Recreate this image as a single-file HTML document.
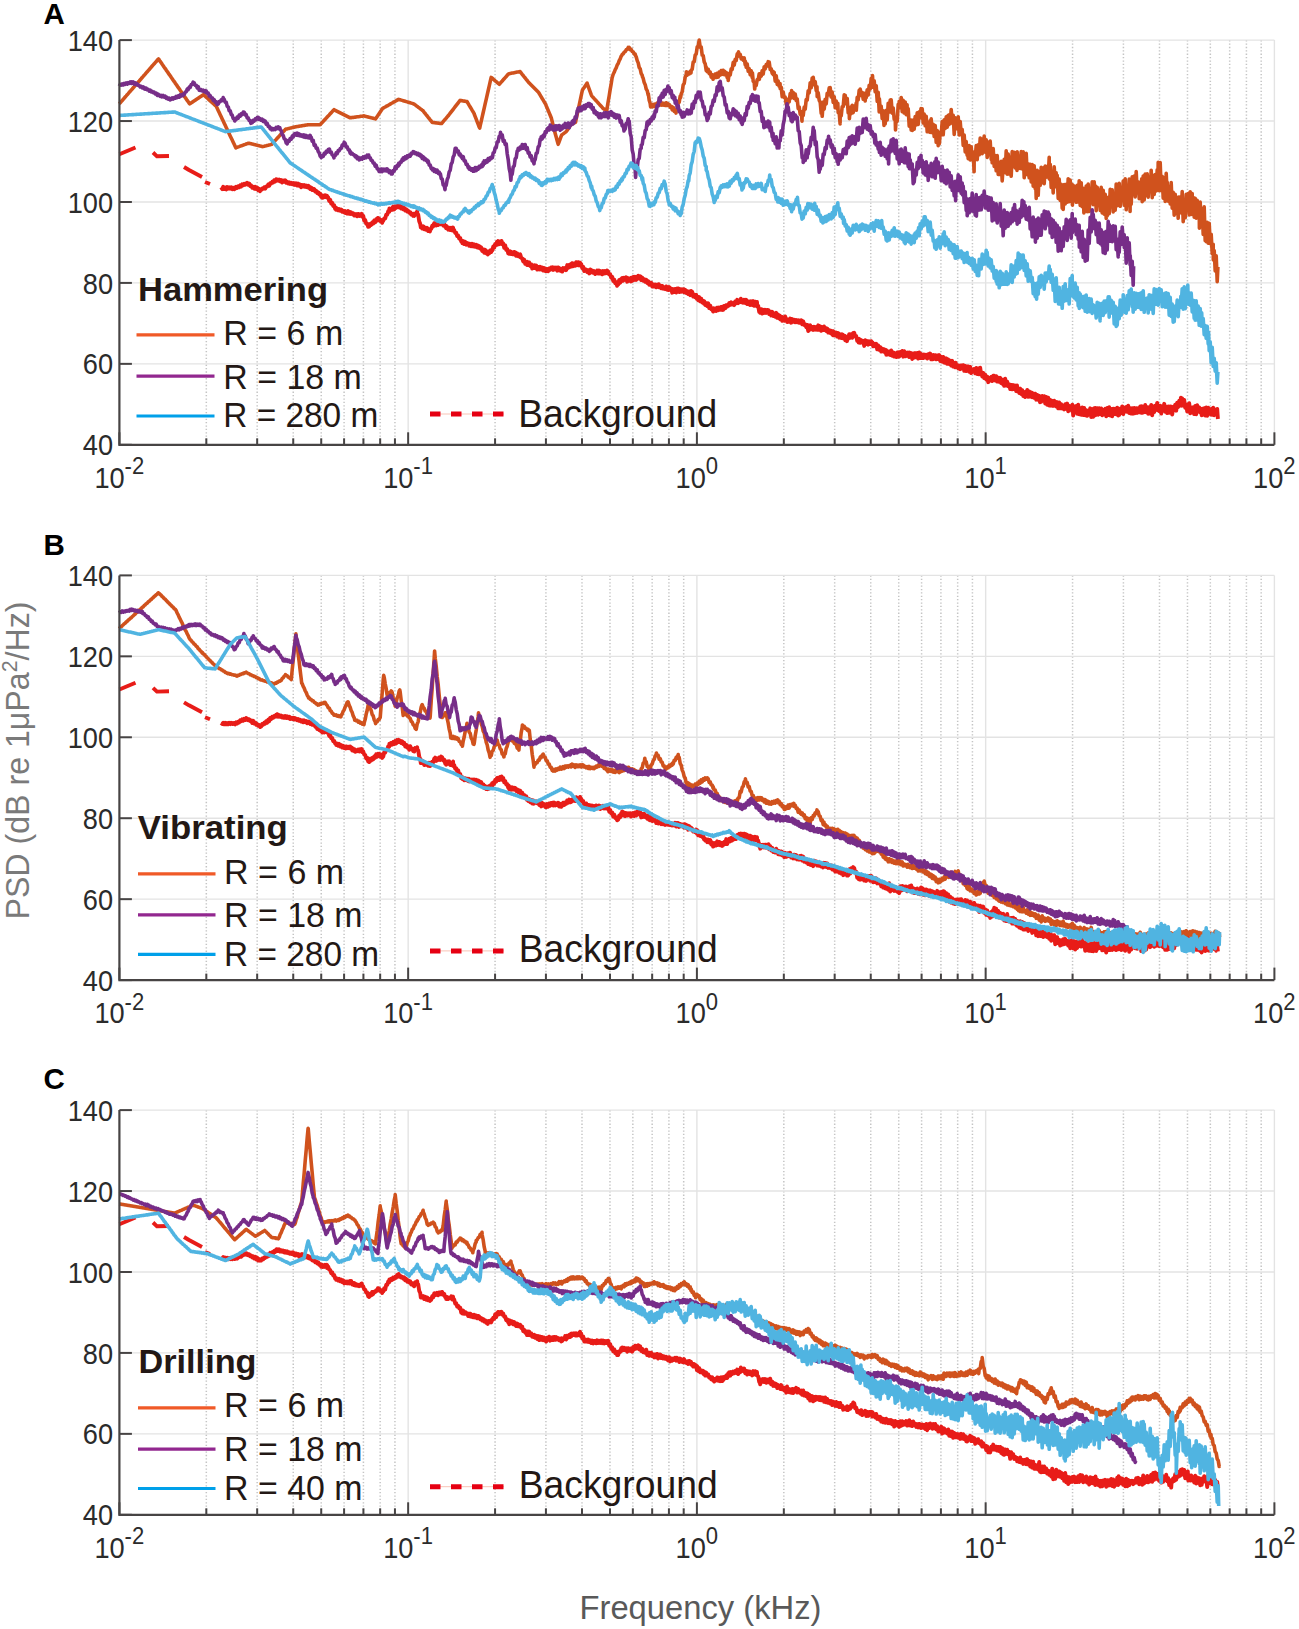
<!DOCTYPE html><html><head><meta charset="utf-8"><style>html,body{margin:0;padding:0;background:#fff}svg{display:block}</style></head><body><svg width="1299" height="1629" viewBox="0 0 1299 1629">
<style>.tl{font-family:"Liberation Sans",sans-serif;font-size:30.2px;fill:#2b2b2b}.sup{font-size:24.5px}.lg{font-family:"Liberation Sans",sans-serif;fill:#231815}</style>
<rect width="1299" height="1629" fill="#fff"/>
<line x1="206.32" y1="40.10" x2="206.32" y2="444.80" stroke="#c4c4c4" stroke-width="1.5" stroke-dasharray="1.3 2.08"/>
<line x1="257.17" y1="40.10" x2="257.17" y2="444.80" stroke="#c4c4c4" stroke-width="1.5" stroke-dasharray="1.3 2.08"/>
<line x1="293.24" y1="40.10" x2="293.24" y2="444.80" stroke="#c4c4c4" stroke-width="1.5" stroke-dasharray="1.3 2.08"/>
<line x1="321.23" y1="40.10" x2="321.23" y2="444.80" stroke="#c4c4c4" stroke-width="1.5" stroke-dasharray="1.3 2.08"/>
<line x1="344.09" y1="40.10" x2="344.09" y2="444.80" stroke="#c4c4c4" stroke-width="1.5" stroke-dasharray="1.3 2.08"/>
<line x1="363.42" y1="40.10" x2="363.42" y2="444.80" stroke="#c4c4c4" stroke-width="1.5" stroke-dasharray="1.3 2.08"/>
<line x1="380.17" y1="40.10" x2="380.17" y2="444.80" stroke="#c4c4c4" stroke-width="1.5" stroke-dasharray="1.3 2.08"/>
<line x1="394.94" y1="40.10" x2="394.94" y2="444.80" stroke="#c4c4c4" stroke-width="1.5" stroke-dasharray="1.3 2.08"/>
<line x1="495.07" y1="40.10" x2="495.07" y2="444.80" stroke="#c4c4c4" stroke-width="1.5" stroke-dasharray="1.3 2.08"/>
<line x1="545.92" y1="40.10" x2="545.92" y2="444.80" stroke="#c4c4c4" stroke-width="1.5" stroke-dasharray="1.3 2.08"/>
<line x1="581.99" y1="40.10" x2="581.99" y2="444.80" stroke="#c4c4c4" stroke-width="1.5" stroke-dasharray="1.3 2.08"/>
<line x1="609.98" y1="40.10" x2="609.98" y2="444.80" stroke="#c4c4c4" stroke-width="1.5" stroke-dasharray="1.3 2.08"/>
<line x1="632.84" y1="40.10" x2="632.84" y2="444.80" stroke="#c4c4c4" stroke-width="1.5" stroke-dasharray="1.3 2.08"/>
<line x1="652.17" y1="40.10" x2="652.17" y2="444.80" stroke="#c4c4c4" stroke-width="1.5" stroke-dasharray="1.3 2.08"/>
<line x1="668.92" y1="40.10" x2="668.92" y2="444.80" stroke="#c4c4c4" stroke-width="1.5" stroke-dasharray="1.3 2.08"/>
<line x1="683.69" y1="40.10" x2="683.69" y2="444.80" stroke="#c4c4c4" stroke-width="1.5" stroke-dasharray="1.3 2.08"/>
<line x1="783.82" y1="40.10" x2="783.82" y2="444.80" stroke="#c4c4c4" stroke-width="1.5" stroke-dasharray="1.3 2.08"/>
<line x1="834.67" y1="40.10" x2="834.67" y2="444.80" stroke="#c4c4c4" stroke-width="1.5" stroke-dasharray="1.3 2.08"/>
<line x1="870.74" y1="40.10" x2="870.74" y2="444.80" stroke="#c4c4c4" stroke-width="1.5" stroke-dasharray="1.3 2.08"/>
<line x1="898.73" y1="40.10" x2="898.73" y2="444.80" stroke="#c4c4c4" stroke-width="1.5" stroke-dasharray="1.3 2.08"/>
<line x1="921.59" y1="40.10" x2="921.59" y2="444.80" stroke="#c4c4c4" stroke-width="1.5" stroke-dasharray="1.3 2.08"/>
<line x1="940.92" y1="40.10" x2="940.92" y2="444.80" stroke="#c4c4c4" stroke-width="1.5" stroke-dasharray="1.3 2.08"/>
<line x1="957.67" y1="40.10" x2="957.67" y2="444.80" stroke="#c4c4c4" stroke-width="1.5" stroke-dasharray="1.3 2.08"/>
<line x1="972.44" y1="40.10" x2="972.44" y2="444.80" stroke="#c4c4c4" stroke-width="1.5" stroke-dasharray="1.3 2.08"/>
<line x1="1072.57" y1="40.10" x2="1072.57" y2="444.80" stroke="#c4c4c4" stroke-width="1.5" stroke-dasharray="1.3 2.08"/>
<line x1="1123.42" y1="40.10" x2="1123.42" y2="444.80" stroke="#c4c4c4" stroke-width="1.5" stroke-dasharray="1.3 2.08"/>
<line x1="1159.49" y1="40.10" x2="1159.49" y2="444.80" stroke="#c4c4c4" stroke-width="1.5" stroke-dasharray="1.3 2.08"/>
<line x1="1187.48" y1="40.10" x2="1187.48" y2="444.80" stroke="#c4c4c4" stroke-width="1.5" stroke-dasharray="1.3 2.08"/>
<line x1="1210.34" y1="40.10" x2="1210.34" y2="444.80" stroke="#c4c4c4" stroke-width="1.5" stroke-dasharray="1.3 2.08"/>
<line x1="1229.67" y1="40.10" x2="1229.67" y2="444.80" stroke="#c4c4c4" stroke-width="1.5" stroke-dasharray="1.3 2.08"/>
<line x1="1246.42" y1="40.10" x2="1246.42" y2="444.80" stroke="#c4c4c4" stroke-width="1.5" stroke-dasharray="1.3 2.08"/>
<line x1="1261.19" y1="40.10" x2="1261.19" y2="444.80" stroke="#c4c4c4" stroke-width="1.5" stroke-dasharray="1.3 2.08"/>
<line x1="408.15" y1="40.10" x2="408.15" y2="444.80" stroke="#e3e3e3" stroke-width="1.4"/>
<line x1="696.90" y1="40.10" x2="696.90" y2="444.80" stroke="#e3e3e3" stroke-width="1.4"/>
<line x1="985.65" y1="40.10" x2="985.65" y2="444.80" stroke="#e3e3e3" stroke-width="1.4"/>
<line x1="1274.40" y1="40.10" x2="1274.40" y2="444.80" stroke="#e3e3e3" stroke-width="1.4"/>
<line x1="119.40" y1="363.86" x2="1274.40" y2="363.86" stroke="#e3e3e3" stroke-width="1.4"/>
<line x1="119.40" y1="282.92" x2="1274.40" y2="282.92" stroke="#e3e3e3" stroke-width="1.4"/>
<line x1="119.40" y1="201.98" x2="1274.40" y2="201.98" stroke="#e3e3e3" stroke-width="1.4"/>
<line x1="119.40" y1="121.04" x2="1274.40" y2="121.04" stroke="#e3e3e3" stroke-width="1.4"/>
<line x1="119.40" y1="40.10" x2="1274.40" y2="40.10" stroke="#e3e3e3" stroke-width="1.4"/>
<line x1="206.32" y1="575.40" x2="206.32" y2="980.10" stroke="#c4c4c4" stroke-width="1.5" stroke-dasharray="1.3 2.08"/>
<line x1="257.17" y1="575.40" x2="257.17" y2="980.10" stroke="#c4c4c4" stroke-width="1.5" stroke-dasharray="1.3 2.08"/>
<line x1="293.24" y1="575.40" x2="293.24" y2="980.10" stroke="#c4c4c4" stroke-width="1.5" stroke-dasharray="1.3 2.08"/>
<line x1="321.23" y1="575.40" x2="321.23" y2="980.10" stroke="#c4c4c4" stroke-width="1.5" stroke-dasharray="1.3 2.08"/>
<line x1="344.09" y1="575.40" x2="344.09" y2="980.10" stroke="#c4c4c4" stroke-width="1.5" stroke-dasharray="1.3 2.08"/>
<line x1="363.42" y1="575.40" x2="363.42" y2="980.10" stroke="#c4c4c4" stroke-width="1.5" stroke-dasharray="1.3 2.08"/>
<line x1="380.17" y1="575.40" x2="380.17" y2="980.10" stroke="#c4c4c4" stroke-width="1.5" stroke-dasharray="1.3 2.08"/>
<line x1="394.94" y1="575.40" x2="394.94" y2="980.10" stroke="#c4c4c4" stroke-width="1.5" stroke-dasharray="1.3 2.08"/>
<line x1="495.07" y1="575.40" x2="495.07" y2="980.10" stroke="#c4c4c4" stroke-width="1.5" stroke-dasharray="1.3 2.08"/>
<line x1="545.92" y1="575.40" x2="545.92" y2="980.10" stroke="#c4c4c4" stroke-width="1.5" stroke-dasharray="1.3 2.08"/>
<line x1="581.99" y1="575.40" x2="581.99" y2="980.10" stroke="#c4c4c4" stroke-width="1.5" stroke-dasharray="1.3 2.08"/>
<line x1="609.98" y1="575.40" x2="609.98" y2="980.10" stroke="#c4c4c4" stroke-width="1.5" stroke-dasharray="1.3 2.08"/>
<line x1="632.84" y1="575.40" x2="632.84" y2="980.10" stroke="#c4c4c4" stroke-width="1.5" stroke-dasharray="1.3 2.08"/>
<line x1="652.17" y1="575.40" x2="652.17" y2="980.10" stroke="#c4c4c4" stroke-width="1.5" stroke-dasharray="1.3 2.08"/>
<line x1="668.92" y1="575.40" x2="668.92" y2="980.10" stroke="#c4c4c4" stroke-width="1.5" stroke-dasharray="1.3 2.08"/>
<line x1="683.69" y1="575.40" x2="683.69" y2="980.10" stroke="#c4c4c4" stroke-width="1.5" stroke-dasharray="1.3 2.08"/>
<line x1="783.82" y1="575.40" x2="783.82" y2="980.10" stroke="#c4c4c4" stroke-width="1.5" stroke-dasharray="1.3 2.08"/>
<line x1="834.67" y1="575.40" x2="834.67" y2="980.10" stroke="#c4c4c4" stroke-width="1.5" stroke-dasharray="1.3 2.08"/>
<line x1="870.74" y1="575.40" x2="870.74" y2="980.10" stroke="#c4c4c4" stroke-width="1.5" stroke-dasharray="1.3 2.08"/>
<line x1="898.73" y1="575.40" x2="898.73" y2="980.10" stroke="#c4c4c4" stroke-width="1.5" stroke-dasharray="1.3 2.08"/>
<line x1="921.59" y1="575.40" x2="921.59" y2="980.10" stroke="#c4c4c4" stroke-width="1.5" stroke-dasharray="1.3 2.08"/>
<line x1="940.92" y1="575.40" x2="940.92" y2="980.10" stroke="#c4c4c4" stroke-width="1.5" stroke-dasharray="1.3 2.08"/>
<line x1="957.67" y1="575.40" x2="957.67" y2="980.10" stroke="#c4c4c4" stroke-width="1.5" stroke-dasharray="1.3 2.08"/>
<line x1="972.44" y1="575.40" x2="972.44" y2="980.10" stroke="#c4c4c4" stroke-width="1.5" stroke-dasharray="1.3 2.08"/>
<line x1="1072.57" y1="575.40" x2="1072.57" y2="980.10" stroke="#c4c4c4" stroke-width="1.5" stroke-dasharray="1.3 2.08"/>
<line x1="1123.42" y1="575.40" x2="1123.42" y2="980.10" stroke="#c4c4c4" stroke-width="1.5" stroke-dasharray="1.3 2.08"/>
<line x1="1159.49" y1="575.40" x2="1159.49" y2="980.10" stroke="#c4c4c4" stroke-width="1.5" stroke-dasharray="1.3 2.08"/>
<line x1="1187.48" y1="575.40" x2="1187.48" y2="980.10" stroke="#c4c4c4" stroke-width="1.5" stroke-dasharray="1.3 2.08"/>
<line x1="1210.34" y1="575.40" x2="1210.34" y2="980.10" stroke="#c4c4c4" stroke-width="1.5" stroke-dasharray="1.3 2.08"/>
<line x1="1229.67" y1="575.40" x2="1229.67" y2="980.10" stroke="#c4c4c4" stroke-width="1.5" stroke-dasharray="1.3 2.08"/>
<line x1="1246.42" y1="575.40" x2="1246.42" y2="980.10" stroke="#c4c4c4" stroke-width="1.5" stroke-dasharray="1.3 2.08"/>
<line x1="1261.19" y1="575.40" x2="1261.19" y2="980.10" stroke="#c4c4c4" stroke-width="1.5" stroke-dasharray="1.3 2.08"/>
<line x1="408.15" y1="575.40" x2="408.15" y2="980.10" stroke="#e3e3e3" stroke-width="1.4"/>
<line x1="696.90" y1="575.40" x2="696.90" y2="980.10" stroke="#e3e3e3" stroke-width="1.4"/>
<line x1="985.65" y1="575.40" x2="985.65" y2="980.10" stroke="#e3e3e3" stroke-width="1.4"/>
<line x1="1274.40" y1="575.40" x2="1274.40" y2="980.10" stroke="#e3e3e3" stroke-width="1.4"/>
<line x1="119.40" y1="899.16" x2="1274.40" y2="899.16" stroke="#e3e3e3" stroke-width="1.4"/>
<line x1="119.40" y1="818.22" x2="1274.40" y2="818.22" stroke="#e3e3e3" stroke-width="1.4"/>
<line x1="119.40" y1="737.28" x2="1274.40" y2="737.28" stroke="#e3e3e3" stroke-width="1.4"/>
<line x1="119.40" y1="656.34" x2="1274.40" y2="656.34" stroke="#e3e3e3" stroke-width="1.4"/>
<line x1="119.40" y1="575.40" x2="1274.40" y2="575.40" stroke="#e3e3e3" stroke-width="1.4"/>
<line x1="206.32" y1="1110.10" x2="206.32" y2="1514.80" stroke="#c4c4c4" stroke-width="1.5" stroke-dasharray="1.3 2.08"/>
<line x1="257.17" y1="1110.10" x2="257.17" y2="1514.80" stroke="#c4c4c4" stroke-width="1.5" stroke-dasharray="1.3 2.08"/>
<line x1="293.24" y1="1110.10" x2="293.24" y2="1514.80" stroke="#c4c4c4" stroke-width="1.5" stroke-dasharray="1.3 2.08"/>
<line x1="321.23" y1="1110.10" x2="321.23" y2="1514.80" stroke="#c4c4c4" stroke-width="1.5" stroke-dasharray="1.3 2.08"/>
<line x1="344.09" y1="1110.10" x2="344.09" y2="1514.80" stroke="#c4c4c4" stroke-width="1.5" stroke-dasharray="1.3 2.08"/>
<line x1="363.42" y1="1110.10" x2="363.42" y2="1514.80" stroke="#c4c4c4" stroke-width="1.5" stroke-dasharray="1.3 2.08"/>
<line x1="380.17" y1="1110.10" x2="380.17" y2="1514.80" stroke="#c4c4c4" stroke-width="1.5" stroke-dasharray="1.3 2.08"/>
<line x1="394.94" y1="1110.10" x2="394.94" y2="1514.80" stroke="#c4c4c4" stroke-width="1.5" stroke-dasharray="1.3 2.08"/>
<line x1="495.07" y1="1110.10" x2="495.07" y2="1514.80" stroke="#c4c4c4" stroke-width="1.5" stroke-dasharray="1.3 2.08"/>
<line x1="545.92" y1="1110.10" x2="545.92" y2="1514.80" stroke="#c4c4c4" stroke-width="1.5" stroke-dasharray="1.3 2.08"/>
<line x1="581.99" y1="1110.10" x2="581.99" y2="1514.80" stroke="#c4c4c4" stroke-width="1.5" stroke-dasharray="1.3 2.08"/>
<line x1="609.98" y1="1110.10" x2="609.98" y2="1514.80" stroke="#c4c4c4" stroke-width="1.5" stroke-dasharray="1.3 2.08"/>
<line x1="632.84" y1="1110.10" x2="632.84" y2="1514.80" stroke="#c4c4c4" stroke-width="1.5" stroke-dasharray="1.3 2.08"/>
<line x1="652.17" y1="1110.10" x2="652.17" y2="1514.80" stroke="#c4c4c4" stroke-width="1.5" stroke-dasharray="1.3 2.08"/>
<line x1="668.92" y1="1110.10" x2="668.92" y2="1514.80" stroke="#c4c4c4" stroke-width="1.5" stroke-dasharray="1.3 2.08"/>
<line x1="683.69" y1="1110.10" x2="683.69" y2="1514.80" stroke="#c4c4c4" stroke-width="1.5" stroke-dasharray="1.3 2.08"/>
<line x1="783.82" y1="1110.10" x2="783.82" y2="1514.80" stroke="#c4c4c4" stroke-width="1.5" stroke-dasharray="1.3 2.08"/>
<line x1="834.67" y1="1110.10" x2="834.67" y2="1514.80" stroke="#c4c4c4" stroke-width="1.5" stroke-dasharray="1.3 2.08"/>
<line x1="870.74" y1="1110.10" x2="870.74" y2="1514.80" stroke="#c4c4c4" stroke-width="1.5" stroke-dasharray="1.3 2.08"/>
<line x1="898.73" y1="1110.10" x2="898.73" y2="1514.80" stroke="#c4c4c4" stroke-width="1.5" stroke-dasharray="1.3 2.08"/>
<line x1="921.59" y1="1110.10" x2="921.59" y2="1514.80" stroke="#c4c4c4" stroke-width="1.5" stroke-dasharray="1.3 2.08"/>
<line x1="940.92" y1="1110.10" x2="940.92" y2="1514.80" stroke="#c4c4c4" stroke-width="1.5" stroke-dasharray="1.3 2.08"/>
<line x1="957.67" y1="1110.10" x2="957.67" y2="1514.80" stroke="#c4c4c4" stroke-width="1.5" stroke-dasharray="1.3 2.08"/>
<line x1="972.44" y1="1110.10" x2="972.44" y2="1514.80" stroke="#c4c4c4" stroke-width="1.5" stroke-dasharray="1.3 2.08"/>
<line x1="1072.57" y1="1110.10" x2="1072.57" y2="1514.80" stroke="#c4c4c4" stroke-width="1.5" stroke-dasharray="1.3 2.08"/>
<line x1="1123.42" y1="1110.10" x2="1123.42" y2="1514.80" stroke="#c4c4c4" stroke-width="1.5" stroke-dasharray="1.3 2.08"/>
<line x1="1159.49" y1="1110.10" x2="1159.49" y2="1514.80" stroke="#c4c4c4" stroke-width="1.5" stroke-dasharray="1.3 2.08"/>
<line x1="1187.48" y1="1110.10" x2="1187.48" y2="1514.80" stroke="#c4c4c4" stroke-width="1.5" stroke-dasharray="1.3 2.08"/>
<line x1="1210.34" y1="1110.10" x2="1210.34" y2="1514.80" stroke="#c4c4c4" stroke-width="1.5" stroke-dasharray="1.3 2.08"/>
<line x1="1229.67" y1="1110.10" x2="1229.67" y2="1514.80" stroke="#c4c4c4" stroke-width="1.5" stroke-dasharray="1.3 2.08"/>
<line x1="1246.42" y1="1110.10" x2="1246.42" y2="1514.80" stroke="#c4c4c4" stroke-width="1.5" stroke-dasharray="1.3 2.08"/>
<line x1="1261.19" y1="1110.10" x2="1261.19" y2="1514.80" stroke="#c4c4c4" stroke-width="1.5" stroke-dasharray="1.3 2.08"/>
<line x1="408.15" y1="1110.10" x2="408.15" y2="1514.80" stroke="#e3e3e3" stroke-width="1.4"/>
<line x1="696.90" y1="1110.10" x2="696.90" y2="1514.80" stroke="#e3e3e3" stroke-width="1.4"/>
<line x1="985.65" y1="1110.10" x2="985.65" y2="1514.80" stroke="#e3e3e3" stroke-width="1.4"/>
<line x1="1274.40" y1="1110.10" x2="1274.40" y2="1514.80" stroke="#e3e3e3" stroke-width="1.4"/>
<line x1="119.40" y1="1433.86" x2="1274.40" y2="1433.86" stroke="#e3e3e3" stroke-width="1.4"/>
<line x1="119.40" y1="1352.92" x2="1274.40" y2="1352.92" stroke="#e3e3e3" stroke-width="1.4"/>
<line x1="119.40" y1="1271.98" x2="1274.40" y2="1271.98" stroke="#e3e3e3" stroke-width="1.4"/>
<line x1="119.40" y1="1191.04" x2="1274.40" y2="1191.04" stroke="#e3e3e3" stroke-width="1.4"/>
<line x1="119.40" y1="1110.10" x2="1274.40" y2="1110.10" stroke="#e3e3e3" stroke-width="1.4"/>
<path d="M119.4 154.2 L135.5 147.5" fill="none" stroke="#E81C18" stroke-width="3.9" stroke-linejoin="round"/>
<path d="M153.0 152.5 L157.0 156.3 L169.0 156.0" fill="none" stroke="#E81C18" stroke-width="3.9" stroke-linejoin="round"/>
<path d="M184.0 167.0 L189.0 170.0 L202.0 177.0" fill="none" stroke="#E81C18" stroke-width="3.9" stroke-linejoin="round"/>
<path d="M205.0 182.0 L210.0 184.0" fill="none" stroke="#E81C18" stroke-width="3.9" stroke-linejoin="round"/>
<path d="M221.2 187.3 L222.2 189.1 L223.2 186.9 L224.2 189.0 L225.2 187.5 L226.2 189.4 L227.2 187.1 L228.2 188.7 L229.2 187.3 L230.2 188.7 L231.2 187.2 L232.2 189.2 L233.2 188.0 L234.2 189.2 L234.7 187.5 L235.2 188.6 L236.2 186.9 L237.2 187.9 L238.2 186.2 L239.2 187.3 L240.2 185.4 L241.2 186.5 L242.2 184.3 L243.2 185.3 L244.2 183.8 L245.2 184.6 L246.2 183.2 L246.3 184.2 L247.2 182.8 L248.2 184.8 L249.2 183.5 L250.2 186.0 L251.2 185.6 L252.2 187.7 L253.2 186.8 L254.2 188.7 L255.2 186.7 L256.2 189.1 L257.2 187.6 L258.2 190.3 L259.2 188.9 L260.1 191.2 L260.2 189.6 L261.2 190.0 L262.2 188.5 L263.2 188.8 L264.2 187.2 L265.2 188.6 L266.2 186.5 L267.2 186.6 L268.2 184.5 L269.2 185.7 L270.2 183.3 L271.2 183.6 L272.2 181.9 L273.2 182.5 L274.2 180.2 L275.2 181.4 L276.2 179.3 L276.3 180.7 L277.2 179.6 L278.2 180.7 L279.2 179.5 L280.2 181.4 L281.2 180.1 L282.2 182.4 L283.2 180.5 L284.2 181.7 L285.2 180.4 L286.2 182.7 L287.2 181.8 L288.2 183.5 L289.2 182.3 L290.2 183.9 L291.2 182.8 L292.2 184.2 L293.2 183.1 L294.2 184.7 L294.8 183.3 L295.2 184.9 L296.2 183.3 L297.2 185.4 L298.2 183.6 L299.2 185.7 L300.2 184.5 L301.2 187.2 L302.2 185.1 L303.2 186.4 L304.2 185.1 L305.2 186.9 L306.2 185.6 L307.2 187.2 L308.2 185.7 L308.6 187.7 L309.2 186.5 L310.2 188.9 L311.2 187.5 L312.2 190.0 L313.2 188.7 L313.2 190.1 L314.2 189.1 L315.2 191.6 L316.2 190.7 L317.2 193.1 L318.2 192.2 L319.2 194.3 L320.2 193.7 L321.2 196.9 L322.2 195.4 L322.5 197.8 L323.2 195.7 L324.2 197.1 L325.2 195.2 L326.2 197.2 L327.1 195.9 L327.2 197.6 L328.2 197.4 L329.2 200.9 L330.2 199.7 L331.2 203.6 L332.2 202.7 L333.2 205.9 L334.2 205.4 L335.2 208.9 L336.2 207.7 L336.3 209.8 L337.2 208.6 L338.2 210.4 L339.2 209.1 L340.2 210.8 L341.2 209.6 L342.2 211.8 L343.2 210.8 L344.2 212.3 L345.2 211.0 L345.6 213.0 L346.2 211.6 L347.2 213.6 L348.2 211.1 L349.2 213.7 L350.2 212.1 L350.2 214.1 L351.2 212.4 L352.2 214.1 L353.2 213.3 L354.2 215.5 L354.8 214.0 L355.2 215.6 L356.2 214.1 L357.2 216.3 L358.2 213.9 L359.2 215.9 L360.2 214.5 L361.2 215.8 L361.7 213.8 L362.2 216.6 L363.2 215.7 L364.2 220.5 L365.2 220.0 L366.2 223.7 L367.2 223.6 L368.2 226.8 L368.7 225.9 L369.2 226.5 L370.2 224.1 L371.2 224.9 L372.2 222.5 L373.2 223.5 L374.2 220.6 L375.2 222.3 L376.2 219.3 L377.2 220.5 L377.9 217.9 L378.2 220.3 L379.2 218.6 L380.2 221.0 L381.2 220.0 L382.2 222.8 L382.5 220.3 L383.2 220.9 L384.2 218.4 L385.2 218.6 L386.2 214.8 L387.2 214.8 L388.2 211.3 L389.2 211.8 L389.4 208.4 L390.2 210.5 L391.2 208.7 L392.2 209.8 L393.2 206.5 L394.2 209.4 L395.2 206.3 L396.2 207.9 L397.2 205.4 L398.2 206.8 L398.7 204.0 L399.2 207.5 L400.2 205.9 L401.2 208.6 L402.2 206.8 L403.2 209.3 L404.2 207.9 L405.2 210.5 L406.2 209.3 L407.2 211.5 L408.2 210.8 L409.2 212.7 L410.2 212.2 L411.2 214.6 L412.2 213.7 L413.2 215.8 L413.9 213.7 L414.2 216.0 L415.2 213.8 L416.2 214.5 L417.2 211.2 L417.3 213.3 L418.2 214.6 L419.2 221.2 L420.2 223.7 L420.8 227.4 L421.2 226.1 L422.2 228.4 L423.2 226.2 L424.2 229.2 L425.2 227.6 L426.2 229.8 L427.2 227.9 L428.2 231.1 L429.2 229.4 L430.0 231.4 L430.2 228.9 L431.2 228.8 L432.2 225.8 L433.2 226.5 L434.2 223.2 L434.6 224.4 L435.2 223.2 L436.2 225.5 L437.2 222.8 L438.2 224.9 L439.2 223.1 L440.2 224.2 L441.2 222.0 L441.6 224.1 L442.2 223.3 L443.2 225.5 L444.2 223.8 L445.2 227.0 L446.2 225.8 L446.2 228.3 L447.2 226.8 L448.2 229.7 L449.2 227.7 L450.2 229.9 L451.2 227.9 L452.2 230.4 L453.1 227.6 L453.2 230.5 L454.2 230.0 L455.2 233.0 L456.2 232.8 L457.2 236.1 L458.2 235.6 L459.2 238.6 L460.2 238.0 L461.2 241.5 L462.2 241.2 L462.4 243.2 L463.2 241.1 L464.2 244.1 L465.2 241.9 L466.2 244.7 L467.2 243.0 L468.2 244.8 L469.2 243.7 L469.3 245.8 L470.2 243.9 L471.2 246.3 L472.2 243.8 L473.2 246.4 L474.2 244.4 L475.2 246.7 L476.2 244.7 L477.2 247.4 L478.2 245.6 L478.5 247.8 L479.2 246.1 L480.2 248.5 L481.2 247.4 L482.2 251.1 L483.2 249.2 L484.2 252.8 L485.2 249.8 L486.2 253.3 L487.2 251.2 L487.8 254.5 L488.2 251.8 L489.2 253.4 L490.2 250.4 L491.2 252.0 L492.2 249.2 L492.4 250.3 L493.2 246.6 L494.2 247.6 L495.2 244.1 L496.2 244.9 L497.0 241.7 L497.2 244.7 L498.2 241.1 L499.2 244.2 L500.2 241.6 L501.2 243.7 L501.6 241.0 L502.2 244.2 L503.2 243.4 L504.2 247.8 L505.2 245.4 L506.2 249.8 L507.2 249.1 L508.2 253.3 L508.6 251.3 L509.2 253.8 L510.2 251.2 L511.2 254.1 L512.2 252.2 L513.2 254.3 L514.2 251.9 L515.2 255.0 L515.5 252.5 L516.2 255.8 L517.2 253.4 L518.2 256.2 L519.2 255.3 L520.1 257.1 L520.2 254.3 L521.2 257.8 L522.2 258.4 L523.2 261.4 L524.2 259.6 L525.2 263.7 L526.2 261.7 L527.0 264.9 L527.2 261.8 L528.2 265.0 L529.2 262.4 L530.2 266.0 L531.2 264.2 L532.2 268.6 L533.2 265.6 L534.0 268.0 L534.2 265.1 L535.2 267.9 L536.2 265.5 L537.2 269.6 L538.2 266.9 L539.2 269.4 L540.2 266.8 L541.2 269.5 L542.2 267.6 L543.2 270.5 L544.2 268.0 L545.2 270.9 L545.5 268.6 L546.2 271.1 L547.2 269.1 L548.2 271.2 L549.2 268.4 L550.2 269.7 L551.2 267.4 L552.2 269.3 L552.4 267.3 L553.2 269.9 L554.2 267.5 L555.2 269.3 L556.2 267.6 L557.2 270.7 L558.2 267.4 L559.2 270.5 L560.2 268.5 L561.2 271.0 L561.7 269.0 L562.2 271.6 L563.2 268.1 L564.2 269.9 L565.2 268.0 L566.2 270.1 L567.2 265.1 L568.2 267.8 L569.2 265.1 L570.2 266.9 L570.9 264.0 L571.2 266.6 L572.2 263.2 L573.2 266.2 L574.2 263.4 L575.2 265.7 L576.2 262.2 L577.2 265.2 L578.2 262.2 L579.2 265.5 L580.1 262.7 L580.2 265.2 L581.2 264.0 L582.2 268.0 L583.2 266.7 L584.2 271.1 L584.8 269.2 L585.2 270.8 L586.2 269.5 L587.2 272.1 L588.2 270.2 L589.2 273.5 L590.2 269.4 L591.2 272.5 L592.2 270.5 L593.2 272.8 L594.2 271.1 L595.2 274.1 L596.2 272.4 L596.3 272.9 L597.2 270.6 L598.2 273.6 L599.2 270.5 L600.2 273.6 L601.2 271.2 L602.2 274.3 L603.2 271.1 L604.2 273.4 L605.2 271.0 L606.2 273.1 L607.2 270.6 L607.9 273.4 L608.2 271.5 L609.2 274.5 L610.2 274.2 L611.2 277.7 L612.2 276.8 L613.2 280.9 L614.2 279.6 L615.2 283.3 L616.2 282.0 L617.1 285.8 L617.2 282.5 L618.2 284.6 L619.2 280.0 L620.2 282.7 L621.2 279.1 L621.7 281.1 L622.2 277.9 L623.2 280.7 L624.2 277.8 L625.2 279.8 L626.2 277.3 L627.2 281.7 L628.2 278.2 L629.2 280.8 L630.2 278.7 L631.0 281.4 L631.2 277.7 L632.2 280.9 L633.2 277.0 L634.2 279.9 L635.2 276.8 L636.2 280.0 L637.2 276.7 L637.9 278.4 L638.2 275.8 L639.2 278.4 L640.2 276.2 L641.2 280.1 L642.2 277.6 L643.2 280.7 L644.2 279.1 L645.2 281.7 L646.2 279.7 L647.2 282.9 L648.2 281.1 L649.2 284.8 L649.4 282.4 L650.2 284.6 L651.2 282.8 L652.2 286.5 L653.2 284.2 L654.2 286.5 L655.2 284.6 L656.2 287.3 L657.2 284.8 L658.2 286.7 L658.7 284.1 L659.2 287.4 L660.2 285.5 L661.2 288.2 L662.2 285.9 L663.2 288.7 L664.2 287.3 L665.2 289.1 L666.2 286.4 L667.2 289.8 L667.9 287.5 L668.2 290.1 L669.2 287.1 L670.2 289.9 L671.2 288.5 L672.2 292.7 L673.2 289.2 L674.2 292.0 L675.2 288.9 L676.2 292.6 L677.1 288.6 L677.2 291.7 L678.2 288.4 L679.2 292.1 L680.2 289.2 L681.2 291.8 L682.2 289.3 L683.2 291.4 L684.1 289.4 L684.2 292.3 L685.2 289.8 L686.2 292.9 L687.2 291.1 L688.2 294.0 L689.2 291.4 L690.2 295.2 L691.0 291.0 L691.2 294.6 L692.2 291.9 L693.2 296.5 L694.2 294.6 L695.2 297.3 L696.2 294.9 L696.9 298.9 L697.2 296.4 L698.2 300.2 L699.2 297.1 L700.2 301.3 L701.2 298.6 L702.2 302.4 L703.2 300.7 L703.9 303.4 L704.2 301.1 L705.2 304.9 L706.2 303.0 L707.2 306.1 L708.2 303.3 L709.2 308.0 L710.2 305.5 L711.2 309.2 L712.2 308.3 L713.1 311.6 L713.2 308.1 L714.2 310.5 L715.2 308.5 L716.2 311.0 L717.2 307.7 L718.2 310.2 L719.2 307.6 L720.2 309.8 L721.2 307.1 L722.2 309.9 L722.3 306.6 L723.2 309.8 L724.2 306.0 L725.2 308.3 L726.2 305.2 L727.2 306.7 L728.2 304.6 L729.2 305.5 L729.3 302.9 L730.2 304.5 L731.2 302.3 L732.2 304.4 L733.2 303.2 L734.2 305.1 L735.2 301.4 L736.2 303.2 L737.2 299.8 L738.2 303.2 L739.2 300.2 L740.2 301.7 L740.8 298.7 L741.2 302.4 L742.2 300.0 L743.2 302.7 L744.2 299.8 L745.2 303.0 L746.2 299.8 L747.2 304.1 L748.2 301.4 L749.2 304.0 L750.0 301.4 L750.2 305.1 L751.2 301.3 L752.2 305.1 L753.2 301.1 L754.2 305.8 L755.2 301.7 L756.2 305.6 L757.0 302.0 L757.2 306.5 L758.2 305.9 L759.2 311.8 L759.3 308.9 L760.2 312.8 L761.2 309.2 L762.2 313.5 L763.2 309.8 L764.2 313.0 L765.2 309.8 L766.2 313.0 L767.2 309.9 L768.2 312.2 L768.5 310.1 L769.2 314.1 L770.2 311.5 L771.2 315.4 L772.2 311.8 L773.2 315.9 L774.2 313.3 L775.2 316.7 L776.2 312.8 L777.2 317.8 L777.8 314.5 L778.2 318.1 L779.2 315.4 L780.2 319.3 L781.2 316.5 L782.2 320.8 L783.2 317.3 L784.2 320.8 L785.2 316.5 L786.2 319.9 L787.0 319.6 L787.2 322.1 L788.2 319.5 L789.2 321.6 L790.2 318.5 L791.2 322.7 L792.2 319.1 L793.2 321.7 L794.2 319.8 L795.2 322.2 L796.2 320.0 L797.2 322.3 L798.2 320.3 L799.2 322.8 L800.2 320.4 L800.9 323.0 L801.2 320.3 L802.2 324.3 L803.2 321.3 L804.2 325.0 L805.2 324.4 L806.2 327.2 L807.2 324.9 L808.2 331.0 L809.2 326.6 L810.1 329.6 L810.2 325.2 L811.2 328.9 L812.2 326.7 L813.2 330.0 L814.2 326.8 L815.2 329.7 L816.2 326.9 L817.2 329.8 L818.2 325.3 L819.2 329.7 L820.2 326.3 L821.2 330.8 L822.2 327.1 L823.2 330.1 L824.0 326.5 L824.2 330.1 L825.2 327.9 L826.2 331.0 L827.2 328.5 L828.2 332.6 L829.2 330.0 L830.2 333.0 L831.2 330.7 L832.2 334.4 L833.2 331.2 L833.2 335.4 L834.2 332.1 L835.2 335.3 L836.2 332.5 L837.2 336.5 L838.2 333.1 L839.2 337.7 L840.2 334.3 L841.2 338.1 L842.2 334.3 L843.2 338.2 L844.2 335.5 L845.2 340.2 L846.2 336.7 L847.0 341.2 L847.2 336.4 L848.2 338.9 L849.2 334.2 L850.2 337.8 L851.2 334.2 L852.2 337.8 L853.2 332.9 L854.0 335.9 L854.2 332.8 L855.2 336.6 L856.2 336.1 L857.2 340.8 L858.2 339.1 L858.6 342.5 L859.2 338.8 L860.2 342.8 L861.2 340.1 L862.2 342.6 L863.2 341.0 L864.2 345.9 L865.2 340.2 L866.2 344.0 L867.2 341.1 L868.2 344.7 L869.2 341.3 L870.2 344.1 L871.2 341.2 L872.2 344.0 L872.5 342.4 L873.2 346.3 L874.2 343.7 L875.2 346.3 L876.2 343.8 L877.2 349.3 L878.2 345.5 L879.2 349.8 L880.2 347.0 L881.2 351.6 L882.2 348.5 L883.2 351.5 L884.2 349.3 L885.2 352.8 L886.2 350.0 L886.3 354.8 L887.2 351.1 L888.2 354.5 L889.2 351.4 L890.2 355.0 L891.2 350.5 L892.2 355.7 L893.2 352.4 L894.2 356.5 L895.2 353.3 L896.2 357.0 L897.2 352.5 L897.9 356.8 L898.2 352.3 L899.2 356.6 L900.2 351.9 L901.2 355.1 L902.2 350.9 L903.2 356.7 L904.2 351.2 L905.2 356.4 L906.2 352.6 L907.2 355.7 L908.2 352.5 L909.2 357.0 L909.4 352.5 L910.2 356.4 L911.2 353.0 L912.2 359.0 L913.2 353.4 L914.2 357.7 L915.2 353.1 L916.2 357.2 L917.2 353.0 L918.2 358.6 L919.2 352.5 L920.2 358.1 L921.0 354.0 L921.2 358.1 L922.2 355.1 L923.2 358.1 L924.2 354.6 L925.2 357.4 L926.2 354.8 L927.2 358.5 L928.2 354.2 L929.2 357.4 L930.2 353.6 L931.2 359.3 L932.2 355.4 L932.5 359.4 L933.2 354.9 L934.2 358.8 L935.2 355.2 L936.2 359.3 L937.2 355.5 L938.2 359.1 L939.2 355.1 L940.2 361.0 L941.2 357.0 L942.2 361.5 L943.2 356.9 L944.0 362.5 L944.2 358.6 L945.2 362.7 L946.2 358.3 L947.2 363.8 L948.2 359.4 L949.2 363.9 L950.2 360.7 L951.2 365.5 L952.2 360.8 L953.2 366.6 L954.2 362.8 L955.2 367.3 L955.6 362.6 L956.2 366.9 L957.2 364.9 L958.2 368.6 L959.2 365.7 L960.2 369.2 L961.2 365.4 L962.2 367.9 L963.2 365.2 L964.2 370.8 L965.2 366.0 L966.2 371.1 L967.1 366.5 L967.2 370.4 L968.2 366.4 L969.2 371.7 L970.2 366.9 L971.2 373.1 L972.2 369.3 L973.2 371.6 L974.2 369.1 L975.2 373.2 L976.2 368.0 L977.2 374.0 L978.2 368.5 L979.2 374.3 L980.2 367.7 L981.0 374.2 L981.2 371.8 L982.2 376.4 L983.2 372.9 L984.2 378.0 L985.2 374.7 L986.2 379.4 L987.2 376.6 L988.2 382.2 L989.2 378.0 L990.2 380.6 L991.2 377.1 L992.2 381.0 L993.2 375.6 L993.9 380.2 L994.2 375.6 L995.2 380.4 L996.2 376.2 L997.2 381.6 L998.2 377.6 L999.2 381.8 L1000.2 377.8 L1001.2 383.1 L1002.2 379.6 L1003.1 384.5 L1003.2 379.7 L1004.2 385.9 L1005.2 378.8 L1006.2 385.5 L1007.2 381.7 L1008.2 386.2 L1009.2 384.3 L1010.2 389.0 L1011.2 384.9 L1012.2 389.3 L1013.2 385.1 L1014.2 389.0 L1015.2 385.6 L1016.2 391.1 L1017.0 385.4 L1017.2 391.4 L1018.2 388.6 L1019.2 392.9 L1020.2 388.6 L1021.2 394.0 L1022.2 390.2 L1023.2 396.0 L1024.2 392.2 L1025.2 397.0 L1026.2 391.5 L1026.2 395.7 L1027.2 390.0 L1028.2 396.9 L1029.2 391.4 L1030.2 396.7 L1031.2 392.5 L1032.2 397.2 L1033.2 393.4 L1034.2 397.8 L1035.2 393.7 L1036.2 399.7 L1037.2 394.9 L1038.2 399.8 L1039.2 395.8 L1040.0 402.3 L1040.2 396.4 L1041.2 401.8 L1042.2 395.9 L1043.2 400.3 L1044.2 396.2 L1045.2 403.6 L1046.2 396.9 L1047.2 404.8 L1048.2 397.6 L1049.2 405.6 L1050.2 400.0 L1051.2 405.7 L1052.2 400.8 L1053.2 405.9 L1054.2 400.6 L1055.2 404.7 L1056.2 402.0 L1056.2 406.5 L1057.2 402.2 L1058.2 408.4 L1059.2 402.5 L1060.2 408.3 L1061.2 404.1 L1062.2 408.4 L1063.2 406.2 L1064.2 409.4 L1065.2 404.1 L1066.2 408.7 L1067.2 403.6 L1068.2 411.3 L1069.2 405.9 L1070.2 409.7 L1071.2 405.9 L1072.2 411.2 L1072.4 404.6 L1073.2 415.5 L1074.2 406.4 L1075.2 412.0 L1076.2 406.0 L1077.2 413.8 L1078.2 404.7 L1079.2 414.2 L1080.2 408.3 L1081.2 414.7 L1082.2 407.5 L1083.2 415.1 L1084.2 408.0 L1085.2 415.3 L1086.2 410.2 L1087.2 415.9 L1088.2 410.7 L1089.2 413.9 L1090.2 408.3 L1091.2 417.1 L1092.2 409.3 L1093.2 416.8 L1094.2 408.2 L1095.2 415.3 L1095.5 407.9 L1096.2 414.6 L1097.2 408.1 L1098.2 414.8 L1099.2 408.2 L1100.2 414.0 L1101.2 408.4 L1102.2 415.3 L1103.2 409.8 L1104.2 414.3 L1105.2 408.8 L1106.2 416.2 L1107.2 407.9 L1108.2 415.1 L1109.2 407.3 L1110.2 415.5 L1111.2 408.9 L1112.2 416.2 L1113.2 408.7 L1114.2 414.1 L1115.2 408.8 L1116.2 414.2 L1117.2 407.8 L1118.2 415.6 L1118.6 408.5 L1119.2 414.9 L1120.2 409.2 L1121.2 412.9 L1122.2 406.4 L1123.2 414.1 L1124.2 407.6 L1125.2 411.6 L1126.2 406.9 L1127.2 411.8 L1128.2 405.7 L1129.2 413.0 L1130.2 408.2 L1131.2 413.6 L1132.2 408.2 L1133.2 413.7 L1134.2 407.9 L1135.2 413.2 L1136.2 408.2 L1137.2 412.9 L1138.2 408.3 L1139.2 412.3 L1140.2 406.5 L1141.2 412.8 L1141.7 406.2 L1142.2 412.9 L1143.2 407.1 L1144.2 412.2 L1145.2 405.0 L1146.2 412.3 L1147.2 407.1 L1148.2 413.8 L1149.2 407.2 L1150.2 413.6 L1151.2 404.9 L1152.2 415.2 L1153.2 406.5 L1154.2 412.1 L1155.2 405.7 L1156.2 409.5 L1157.2 402.9 L1157.8 410.3 L1158.2 407.0 L1159.2 410.9 L1160.2 405.7 L1161.2 413.6 L1162.2 406.7 L1163.2 409.6 L1164.2 403.8 L1165.2 411.7 L1166.2 406.7 L1167.2 413.1 L1168.2 406.5 L1169.2 412.8 L1170.2 406.5 L1171.2 412.2 L1171.7 406.8 L1172.2 414.5 L1173.2 407.4 L1174.2 410.1 L1175.2 404.6 L1176.2 410.7 L1177.2 402.6 L1178.2 407.0 L1179.2 400.7 L1180.2 405.0 L1180.9 397.6 L1181.2 405.8 L1182.2 398.5 L1183.2 405.6 L1184.2 399.9 L1185.2 407.7 L1186.2 404.5 L1187.2 411.5 L1187.8 405.4 L1188.2 408.9 L1189.2 403.2 L1190.2 413.2 L1191.2 407.4 L1192.2 412.4 L1193.2 407.3 L1194.2 414.1 L1195.2 405.9 L1196.2 414.2 L1197.2 405.3 L1198.2 411.5 L1199.2 407.5 L1200.2 412.4 L1201.2 409.7 L1201.7 415.3 L1202.2 408.6 L1203.2 414.6 L1204.2 408.3 L1205.2 415.5 L1206.2 407.5 L1207.2 415.8 L1208.2 407.6 L1209.2 413.4 L1210.2 409.6 L1211.0 414.6 L1211.2 409.0 L1212.2 414.8 L1213.2 407.6 L1214.2 415.2 L1215.2 409.6 L1216.2 414.4 L1217.2 409.0 L1217.9 419.0" fill="none" stroke="#E81C18" stroke-width="3.9" stroke-linejoin="round"/>
<path d="M119.2 103.9 L120.2 102.8 L121.2 101.6 L122.2 100.5 L123.2 99.3 L124.2 98.2 L125.2 97.0 L126.2 95.9 L127.2 94.7 L128.2 93.6 L129.2 92.4 L130.2 91.3 L131.2 90.1 L132.2 89.0 L133.2 87.8 L134.2 86.7 L135.2 85.5 L136.2 84.4 L137.2 83.3 L138.2 82.1 L139.2 81.0 L140.2 79.8 L141.2 78.7 L142.2 77.5 L143.2 76.4 L144.2 75.2 L145.2 74.1 L146.2 72.9 L147.2 71.8 L148.2 70.6 L149.2 69.5 L150.2 68.3 L151.2 67.2 L152.2 66.0 L153.2 64.9 L154.2 63.8 L155.2 62.6 L156.2 61.5 L157.2 60.3 L158.2 59.2 L158.5 58.9 L159.2 59.9 L160.2 61.4 L161.2 62.8 L162.2 64.3 L163.2 65.7 L164.2 67.2 L165.2 68.6 L166.2 70.1 L167.2 71.5 L168.2 72.9 L169.2 74.4 L170.2 75.8 L171.2 77.3 L172.2 78.7 L173.2 80.2 L174.2 81.6 L175.2 83.1 L176.2 84.5 L177.2 85.9 L178.2 87.4 L179.2 88.8 L180.2 90.3 L181.2 91.7 L182.2 93.2 L183.2 94.6 L184.2 96.1 L185.2 97.5 L186.2 98.9 L187.2 100.4 L188.2 101.8 L189.2 103.3 L189.7 103.9 L190.2 103.5 L191.2 102.9 L192.2 102.2 L193.2 101.5 L194.2 100.9 L195.2 100.2 L196.2 99.5 L197.2 98.9 L198.2 98.2 L199.2 97.5 L200.2 96.9 L201.2 96.2 L202.2 95.5 L203.2 94.9 L203.5 94.7 L204.2 95.3 L205.2 96.2 L206.2 97.1 L207.2 98.0 L208.2 98.9 L209.2 99.9 L210.2 100.8 L211.2 101.7 L212.2 102.6 L213.2 103.5 L214.2 104.4 L215.2 105.3 L216.2 106.2 L217.2 108.3 L218.2 110.5 L219.2 112.6 L220.2 114.7 L221.2 116.8 L222.2 118.9 L223.2 121.0 L224.2 123.2 L225.2 125.3 L226.2 127.4 L227.2 129.5 L228.2 131.6 L229.2 133.8 L230.2 135.9 L231.2 138.0 L232.2 140.1 L233.2 142.2 L234.2 144.3 L235.2 146.5 L235.9 147.8 L236.2 147.6 L237.2 147.3 L238.2 146.9 L239.2 146.6 L240.2 146.2 L241.2 145.8 L242.2 145.5 L243.2 145.1 L244.2 144.7 L245.2 144.4 L246.2 144.0 L247.2 143.6 L248.2 143.3 L248.6 143.2 L249.2 143.3 L250.2 143.6 L251.2 143.8 L252.2 144.1 L253.2 144.3 L254.2 144.6 L255.2 144.8 L256.2 145.1 L257.2 145.3 L258.2 145.6 L259.2 145.8 L260.2 146.1 L261.2 146.3 L262.2 146.6 L262.4 146.6 L263.2 146.4 L264.2 146.2 L265.2 145.9 L266.2 145.7 L267.2 145.4 L268.2 145.2 L269.2 144.9 L270.2 144.7 L271.2 144.4 L271.7 144.3 L272.2 143.7 L273.2 142.6 L274.2 141.5 L275.2 140.4 L276.2 139.4 L277.2 138.3 L278.2 137.2 L279.2 136.1 L280.2 135.0 L281.2 133.9 L282.2 132.9 L283.2 131.8 L284.2 130.7 L285.2 129.6 L285.5 129.3 L286.2 129.1 L287.2 128.9 L288.2 128.6 L289.2 128.4 L290.2 128.1 L291.2 127.9 L292.2 127.6 L293.2 127.4 L294.2 127.1 L294.8 127.0 L295.2 126.9 L296.2 126.8 L297.2 126.6 L298.2 126.4 L299.2 126.3 L300.2 126.1 L301.2 125.9 L302.2 125.8 L303.2 125.6 L304.2 125.4 L305.2 125.3 L306.2 125.1 L307.2 124.9 L308.2 124.8 L308.6 124.7 L309.2 124.7 L310.2 124.7 L311.2 124.7 L312.2 124.7 L313.2 124.7 L314.2 124.7 L315.2 124.7 L316.2 124.7 L317.2 124.7 L318.2 124.7 L319.2 124.7 L320.2 124.7 L320.2 124.6 L321.2 123.5 L322.2 122.4 L323.2 121.4 L324.2 120.3 L325.2 119.2 L326.2 118.1 L327.2 117.0 L328.2 115.9 L329.2 114.9 L330.2 113.8 L331.2 112.7 L332.2 111.6 L333.2 110.5 L334.0 109.7 L334.2 109.8 L335.2 110.3 L336.2 110.8 L337.2 111.3 L338.2 111.8 L339.2 112.3 L340.2 112.8 L341.2 113.3 L342.2 113.8 L343.2 114.3 L344.2 114.8 L345.2 115.3 L346.2 115.8 L347.2 116.3 L348.2 116.8 L349.2 117.3 L350.2 117.8 L350.2 117.8 L351.2 117.6 L352.2 117.5 L353.2 117.4 L354.2 117.2 L355.2 117.1 L356.2 117.0 L357.2 116.8 L358.2 116.7 L359.2 116.6 L360.2 116.4 L361.2 116.3 L362.2 116.2 L363.2 116.0 L364.0 115.9 L364.2 116.0 L365.2 116.2 L366.2 116.5 L367.2 116.7 L368.2 117.0 L369.2 117.3 L370.2 117.5 L371.2 117.8 L372.2 118.0 L373.2 118.3 L374.2 118.6 L375.2 118.8 L375.6 118.9 L376.2 117.9 L377.2 116.4 L378.2 114.9 L379.2 113.4 L380.2 111.9 L381.2 110.4 L382.2 108.9 L382.5 108.5 L383.2 108.1 L384.2 107.5 L385.2 107.0 L386.2 106.4 L387.2 105.8 L388.2 105.3 L389.2 104.7 L390.2 104.1 L391.2 103.5 L392.2 103.0 L393.2 102.4 L394.2 101.8 L395.2 101.3 L396.2 100.7 L397.2 100.1 L398.2 99.5 L398.7 99.3 L399.2 99.5 L400.2 99.8 L401.2 100.1 L402.2 100.4 L403.2 100.7 L404.2 101.0 L405.2 101.3 L406.2 101.6 L407.2 101.9 L408.2 102.2 L409.2 102.5 L410.2 102.8 L411.2 103.1 L412.2 103.4 L413.2 103.7 L413.9 103.9 L414.2 104.2 L415.2 104.9 L416.2 105.7 L417.2 106.4 L418.2 107.2 L419.2 107.9 L420.2 108.7 L421.2 109.4 L422.2 110.2 L423.1 110.8 L423.2 111.0 L424.2 112.3 L425.2 113.5 L426.2 114.8 L427.2 116.0 L428.2 117.3 L429.2 118.5 L430.2 119.8 L431.2 121.0 L432.2 122.3 L432.3 122.4 L433.2 122.5 L434.2 122.6 L435.2 122.7 L436.2 122.9 L437.2 123.0 L438.2 123.1 L439.2 123.2 L440.2 123.4 L441.2 123.5 L441.6 123.5 L442.2 122.8 L443.2 121.6 L444.2 120.4 L445.2 119.3 L446.2 118.1 L447.2 116.9 L448.2 115.8 L448.5 115.4 L449.2 114.5 L450.2 113.2 L451.2 111.9 L452.2 110.6 L453.2 109.3 L454.2 108.0 L455.2 106.7 L456.2 105.4 L457.2 104.1 L458.2 102.8 L459.2 101.5 L460.1 100.4 L460.2 100.5 L461.2 100.6 L462.2 100.8 L463.2 101.0 L464.2 101.1 L465.2 101.3 L466.2 101.5 L467.0 101.6 L467.2 102.0 L468.2 103.7 L469.2 105.4 L470.2 107.0 L471.2 108.7 L472.2 110.4 L473.2 112.0 L473.9 113.1 L474.2 114.0 L475.2 116.6 L476.2 119.2 L477.2 121.8 L478.2 124.4 L479.2 127.0 L479.7 128.1 L480.2 125.7 L481.2 121.3 L482.2 116.9 L483.2 112.5 L484.2 108.1 L485.2 103.7 L486.2 99.3 L487.2 94.9 L488.2 90.5 L489.2 86.1 L490.2 81.7 L491.2 77.4 L491.2 77.4 L492.2 78.2 L493.2 79.1 L494.2 79.9 L495.2 80.8 L496.2 81.6 L497.2 82.5 L498.2 83.4 L499.2 84.2 L499.3 84.3 L500.2 83.2 L501.2 82.1 L502.2 81.0 L503.2 79.8 L504.2 78.7 L505.2 77.6 L506.2 76.5 L507.2 75.3 L508.2 74.2 L508.6 73.9 L509.2 73.7 L510.2 73.5 L511.2 73.3 L512.2 73.1 L513.2 72.9 L514.2 72.7 L515.2 72.5 L516.2 72.3 L517.2 72.1 L518.2 71.9 L519.2 71.7 L520.1 71.6 L520.2 71.8 L521.2 73.0 L522.2 74.3 L523.2 75.5 L524.2 76.8 L525.2 78.0 L526.2 79.3 L527.2 80.5 L528.2 81.8 L529.2 83.0 L529.3 83.1 L530.2 84.0 L531.2 85.0 L532.2 86.0 L533.2 87.0 L534.2 88.0 L535.2 89.0 L536.2 90.0 L537.2 91.0 L538.2 92.0 L538.6 92.4 L539.2 93.5 L540.2 95.1 L541.2 96.8 L542.2 98.5 L543.2 100.1 L544.2 101.8 L545.2 103.5 L545.5 103.9 L546.2 105.7 L547.2 108.1 L548.2 110.5 L549.2 112.9 L550.2 115.3 L551.2 117.7 L551.3 117.8 L552.2 121.6 L553.2 125.6 L554.2 129.6 L554.7 131.6 L555.2 133.5 L556.2 137.1 L557.2 140.8 L558.2 144.3 L558.2 144.2 L559.2 141.5 L560.2 138.9 L561.2 136.2 L561.7 135.1 L562.2 134.6 L563.2 133.9 L564.2 133.1 L565.2 132.4 L566.2 131.6 L566.3 131.6 L567.2 130.2 L568.2 128.7 L569.2 127.2 L570.2 125.7 L570.9 124.7 L571.2 124.5 L572.2 124.0 L573.2 123.5 L574.2 123.0 L575.2 122.5 L575.5 122.4 L576.2 119.0 L577.2 114.4 L578.2 109.7 L579.2 105.0 L580.2 100.4 L581.2 95.7 L582.2 91.0 L582.5 90.0 L583.2 88.9 L584.2 87.4 L585.2 85.9 L586.2 84.4 L587.1 83.1 L587.2 83.6 L588.2 86.3 L589.2 89.1 L590.2 91.8 L591.2 94.6 L591.7 95.8 L592.2 96.4 L593.2 97.5 L594.2 98.6 L595.2 99.7 L596.2 100.8 L597.2 101.9 L598.2 103.0 L599.2 104.1 L600.2 105.2 L601.2 106.3 L602.2 107.4 L603.2 108.6 L603.2 108.5 L604.2 109.2 L605.2 109.7 L606.2 110.6 L606.7 110.7 L607.2 107.6 L608.2 101.5 L609.2 95.7 L610.2 89.4 L611.2 83.7 L612.2 77.3 L612.5 76.5 L613.2 74.3 L614.2 72.3 L615.2 69.7 L616.2 67.9 L617.2 65.0 L618.2 63.5 L619.2 60.7 L620.2 58.9 L621.2 56.2 L621.7 55.6 L622.2 54.4 L623.2 53.9 L624.2 52.1 L625.2 51.7 L626.2 49.8 L627.2 49.5 L628.2 47.4 L628.6 48.0 L629.2 47.5 L630.2 49.7 L631.2 49.4 L632.2 51.6 L633.2 51.9 L634.2 53.9 L635.2 54.1 L635.6 55.7 L636.2 56.8 L637.2 60.6 L638.2 62.9 L639.2 67.5 L640.2 68.8 L641.2 73.6 L642.2 75.2 L642.5 76.9 L643.2 78.3 L644.2 82.6 L645.2 84.7 L646.2 89.0 L647.2 90.6 L648.2 95.1 L648.3 93.7 L649.2 100.3 L650.2 103.6 L650.6 106.9 L651.2 105.2 L652.2 106.8 L653.2 104.3 L654.2 106.6 L655.2 104.1 L656.2 105.6 L657.2 103.0 L658.2 104.7 L658.7 102.5 L659.2 105.2 L660.2 103.0 L661.2 105.1 L662.2 103.0 L663.2 105.2 L664.2 103.4 L665.2 105.5 L666.2 102.8 L667.2 105.4 L667.9 103.6 L668.2 105.4 L669.2 104.5 L670.2 107.2 L671.2 106.3 L672.2 109.8 L673.2 107.3 L674.2 111.3 L675.2 109.8 L676.0 113.1 L676.2 109.8 L677.2 109.2 L678.2 103.0 L679.2 102.3 L680.2 96.1 L680.6 97.5 L681.2 94.0 L682.2 91.7 L683.2 84.8 L684.2 83.5 L685.2 76.9 L686.2 75.1 L686.4 71.8 L687.2 75.2 L688.2 72.4 L689.2 73.9 L690.2 71.7 L691.0 72.9 L691.2 70.3 L692.2 69.2 L693.2 62.0 L694.2 61.8 L695.2 55.1 L696.2 54.1 L697.2 47.0 L698.2 46.2 L699.2 40.1 L700.2 47.3 L701.2 47.0 L702.2 55.2 L703.2 55.6 L704.2 61.9 L705.2 63.8 L706.2 70.6 L706.2 67.1 L707.2 71.7 L708.2 69.1 L709.2 73.6 L710.2 72.0 L711.2 77.1 L712.2 74.7 L713.1 79.3 L713.2 75.0 L714.2 77.7 L715.2 74.0 L716.2 77.5 L717.2 73.3 L718.2 77.1 L719.2 72.1 L720.2 75.1 L721.2 70.6 L722.2 74.3 L723.2 70.3 L724.2 74.7 L724.6 71.3 L725.2 74.6 L726.2 72.5 L727.2 77.7 L728.1 75.5 L728.2 80.5 L729.2 73.2 L730.2 74.9 L731.2 68.9 L732.2 69.3 L733.2 62.4 L734.2 65.1 L735.2 59.3 L736.2 60.6 L737.2 53.9 L738.2 56.2 L738.5 51.8 L739.2 55.0 L740.2 54.4 L741.2 58.8 L742.2 57.7 L743.2 60.2 L744.2 57.9 L745.2 64.8 L745.4 61.4 L746.2 67.3 L747.2 64.0 L748.2 71.2 L749.2 68.7 L750.2 74.6 L751.2 70.8 L752.2 77.4 L752.4 72.7 L753.2 81.3 L754.2 82.4 L754.7 89.0 L755.2 84.4 L756.2 85.5 L757.2 79.6 L758.2 79.6 L759.2 73.7 L759.3 79.5 L760.2 73.9 L761.2 76.1 L762.2 70.7 L763.2 74.1 L764.2 66.8 L765.2 68.8 L766.2 64.7 L767.2 66.1 L768.2 61.7 L768.5 65.9 L769.2 62.1 L770.2 69.4 L771.2 68.9 L772.2 73.3 L773.1 71.4 L773.2 74.7 L774.2 72.4 L775.2 81.1 L776.2 75.8 L777.2 84.4 L778.2 81.0 L779.2 86.3 L780.1 83.8 L780.2 88.6 L781.2 87.2 L782.2 96.8 L783.2 92.1 L784.2 97.5 L785.2 97.2 L786.2 104.1 L787.0 101.9 L787.2 107.0 L788.2 99.1 L789.2 101.7 L790.2 93.5 L791.2 98.0 L791.6 90.6 L792.2 96.3 L793.2 92.4 L794.2 98.5 L795.2 94.1 L796.2 100.4 L797.2 98.9 L798.2 108.6 L799.2 107.1 L800.2 114.2 L801.2 111.7 L802.0 121.1 L802.2 113.3 L803.2 115.5 L804.2 107.1 L805.2 109.2 L806.2 99.5 L807.2 100.1 L808.2 90.8 L809.2 92.9 L810.2 82.8 L811.2 87.7 L812.2 78.0 L812.4 81.8 L813.2 77.2 L814.2 84.7 L815.2 81.7 L816.2 90.6 L817.0 86.8 L817.2 96.6 L818.2 92.7 L819.2 100.3 L820.2 102.2 L821.2 113.3 L821.6 106.9 L822.2 116.3 L823.2 102.0 L824.2 109.1 L825.2 99.3 L826.2 103.9 L827.2 93.2 L828.2 95.0 L829.2 87.9 L829.7 92.4 L830.2 87.6 L831.2 97.0 L832.2 92.1 L833.2 102.4 L834.2 96.7 L835.2 107.8 L836.2 101.1 L837.2 108.6 L837.8 103.4 L838.2 112.7 L839.2 112.7 L840.1 123.9 L840.2 114.9 L841.2 115.8 L842.2 106.6 L843.2 106.6 L844.2 94.9 L844.7 100.4 L845.2 95.3 L846.2 103.7 L847.2 98.4 L848.2 112.8 L849.2 111.8 L849.4 118.6 L850.2 107.4 L851.2 113.6 L852.2 105.4 L853.2 112.6 L854.2 106.0 L855.2 109.9 L856.2 103.0 L856.3 110.3 L857.2 97.4 L858.2 99.9 L859.2 90.2 L859.8 95.3 L860.2 89.0 L861.2 95.4 L862.2 92.4 L863.2 99.2 L864.2 93.3 L865.2 101.0 L865.5 94.1 L866.2 97.8 L867.2 89.7 L868.2 95.1 L869.2 85.3 L870.2 89.0 L871.2 78.3 L872.2 86.7 L872.5 75.6 L873.2 87.5 L874.2 80.8 L875.2 91.8 L876.2 85.7 L877.2 101.5 L878.2 92.4 L879.2 111.9 L879.4 98.8 L880.2 110.1 L881.2 106.2 L882.2 118.5 L883.2 110.7 L884.0 125.4 L884.2 116.7 L885.2 123.8 L886.2 110.4 L887.2 119.9 L888.2 103.2 L889.2 112.0 L890.2 100.1 L890.9 107.2 L891.2 99.8 L892.2 113.1 L893.2 108.0 L894.2 119.3 L895.2 118.2 L895.5 130.0 L896.2 118.0 L897.2 121.2 L898.2 104.4 L899.0 107.6 L899.2 101.3 L900.2 107.8 L901.2 97.5 L902.2 111.7 L903.2 100.4 L904.2 113.0 L905.2 102.0 L906.2 114.6 L907.1 104.8 L907.2 114.2 L908.2 108.7 L909.2 126.2 L910.2 119.7 L911.2 130.0 L911.7 120.3 L912.2 130.5 L913.2 120.0 L914.2 129.1 L915.2 116.5 L916.2 124.9 L917.2 112.8 L918.2 124.4 L919.2 111.9 L920.2 117.1 L921.0 108.6 L921.2 117.9 L922.2 108.8 L923.2 123.0 L924.2 114.1 L925.2 125.8 L926.2 116.3 L927.2 131.8 L928.2 123.6 L929.2 131.9 L930.2 120.6 L930.2 132.4 L931.2 118.9 L932.2 132.7 L933.2 124.3 L934.2 136.5 L935.2 125.5 L936.2 142.3 L937.2 130.6 L938.2 145.7 L939.2 132.2 L939.4 143.6 L940.2 132.3 L941.2 135.1 L942.2 121.5 L943.2 134.8 L944.2 119.8 L945.2 128.4 L946.2 116.8 L947.2 127.1 L948.2 115.2 L948.7 124.7 L949.2 114.8 L950.2 123.7 L951.2 109.5 L952.2 122.6 L953.2 115.4 L954.2 134.5 L955.2 117.8 L956.2 128.8 L957.2 118.0 L957.9 129.2 L958.2 116.7 L959.2 135.0 L960.2 121.5 L961.2 134.1 L962.2 129.5 L963.2 145.4 L964.2 135.0 L965.2 151.9 L966.2 141.6 L967.1 155.1 L967.2 145.2 L968.2 158.7 L969.2 145.6 L970.2 160.0 L971.2 146.7 L972.2 159.8 L973.2 152.0 L974.1 171.8 L974.2 154.2 L975.2 159.0 L976.2 145.6 L977.2 159.7 L978.2 144.9 L979.2 154.8 L980.2 138.0 L981.0 148.7 L981.2 139.0 L982.2 153.6 L983.2 138.5 L983.5 152.2 L984.2 136.0 L985.2 152.1 L986.2 139.9 L987.2 157.4 L988.2 142.4 L989.2 154.8 L990.2 141.0 L991.2 159.4 L991.5 149.3 L992.2 162.8 L993.2 148.5 L994.2 166.4 L995.2 155.5 L996.2 170.8 L997.2 155.6 L998.2 174.4 L999.2 162.6 L1000.2 174.5 L1001.2 161.3 L1002.2 180.9 L1003.1 166.8 L1003.2 172.0 L1004.2 159.4 L1005.2 172.7 L1006.2 150.8 L1007.2 174.1 L1008.2 154.0 L1009.2 174.0 L1010.2 157.3 L1011.2 176.3 L1012.2 151.5 L1013.2 165.4 L1014.2 152.3 L1015.2 168.0 L1016.2 154.0 L1017.0 170.5 L1017.2 151.9 L1018.2 166.4 L1019.2 157.0 L1020.2 168.5 L1021.2 151.6 L1022.2 168.9 L1023.2 151.7 L1024.2 177.8 L1025.2 155.4 L1026.2 173.7 L1026.2 153.3 L1027.2 174.7 L1028.2 163.8 L1029.2 177.8 L1030.2 164.3 L1031.2 182.0 L1032.2 164.5 L1033.2 186.2 L1034.2 165.9 L1035.2 188.7 L1035.4 170.1 L1036.2 198.5 L1037.2 170.4 L1038.2 195.3 L1039.2 171.8 L1040.2 185.3 L1041.2 167.3 L1042.2 182.6 L1043.2 168.1 L1044.2 183.6 L1045.2 166.0 L1046.2 177.2 L1047.2 166.4 L1048.2 176.6 L1049.2 157.3 L1049.3 179.1 L1050.2 164.3 L1051.2 187.4 L1052.2 171.7 L1053.2 193.0 L1054.2 166.8 L1055.2 181.5 L1056.2 172.9 L1056.2 187.0 L1057.2 175.3 L1058.2 198.5 L1059.2 179.0 L1060.2 200.4 L1061.2 184.3 L1062.2 208.3 L1063.1 193.3 L1063.2 209.5 L1064.2 184.6 L1065.2 203.9 L1066.2 184.2 L1067.2 202.1 L1068.2 178.7 L1069.2 201.7 L1070.2 180.1 L1071.2 195.2 L1072.2 184.5 L1072.4 205.1 L1073.2 185.3 L1074.2 199.3 L1075.2 186.6 L1076.2 202.3 L1077.2 185.4 L1078.2 201.9 L1079.2 180.8 L1080.2 205.5 L1081.2 182.7 L1082.2 206.6 L1083.2 188.2 L1083.9 213.0 L1084.2 193.4 L1085.2 209.3 L1086.2 186.1 L1087.2 211.7 L1088.2 184.1 L1089.2 211.4 L1090.2 191.2 L1091.2 202.0 L1092.2 181.8 L1093.2 204.6 L1094.2 181.8 L1095.2 200.6 L1095.5 186.1 L1096.2 210.6 L1097.2 187.4 L1098.2 205.4 L1099.2 190.2 L1100.2 210.5 L1101.2 187.4 L1102.2 212.9 L1103.2 190.4 L1104.2 214.1 L1105.2 194.4 L1106.2 218.5 L1107.0 200.6 L1107.2 215.9 L1108.2 197.4 L1109.2 213.8 L1110.2 189.4 L1111.2 203.4 L1112.2 189.9 L1113.2 212.0 L1114.2 196.0 L1115.2 210.3 L1116.2 184.0 L1117.2 205.6 L1118.2 191.7 L1118.6 203.6 L1119.2 183.3 L1120.2 206.3 L1121.2 188.5 L1122.2 199.7 L1123.2 181.1 L1124.2 205.1 L1125.2 178.7 L1126.2 209.8 L1127.2 186.3 L1128.2 200.7 L1129.2 179.0 L1130.1 211.5 L1130.2 185.8 L1131.2 204.2 L1132.2 176.8 L1133.2 192.3 L1134.2 176.0 L1135.2 197.0 L1136.2 171.5 L1137.2 192.6 L1138.2 181.8 L1139.2 198.6 L1140.2 182.2 L1141.2 197.8 L1141.7 178.8 L1142.2 201.7 L1143.2 176.1 L1144.2 200.0 L1145.2 174.1 L1146.2 195.5 L1147.2 173.8 L1148.2 197.2 L1149.2 177.4 L1150.2 191.4 L1151.2 170.2 L1152.2 197.6 L1153.2 175.5 L1154.2 194.5 L1155.2 174.5 L1156.2 190.9 L1157.2 169.9 L1157.8 187.3 L1158.2 162.3 L1159.2 190.7 L1160.2 162.6 L1161.2 190.5 L1162.2 176.4 L1163.2 198.2 L1164.2 178.1 L1165.2 201.4 L1166.2 173.4 L1167.1 193.2 L1167.2 182.0 L1168.2 201.1 L1169.2 186.6 L1170.2 203.9 L1171.2 182.6 L1172.2 208.3 L1173.2 192.3 L1174.2 215.2 L1175.2 194.2 L1176.2 213.5 L1177.2 197.5 L1178.2 218.3 L1178.6 197.0 L1179.2 211.5 L1180.2 197.0 L1181.2 212.9 L1182.2 191.5 L1183.2 221.7 L1184.2 203.4 L1185.2 217.8 L1186.2 194.3 L1187.2 207.1 L1188.2 193.6 L1189.2 214.9 L1190.2 191.9 L1191.2 214.5 L1192.2 193.6 L1192.5 212.2 L1193.2 197.4 L1194.2 217.1 L1195.2 198.3 L1196.2 218.1 L1197.2 200.3 L1198.2 214.6 L1199.2 203.9 L1199.4 228.3 L1200.2 202.0 L1201.2 224.0 L1202.2 209.3 L1203.2 234.5 L1204.2 206.9 L1205.2 240.7 L1206.2 223.3 L1206.3 241.8 L1207.2 222.3 L1208.2 243.1 L1209.2 223.4 L1210.2 243.7 L1211.2 234.4 L1212.2 253.6 L1213.2 244.3 L1213.3 259.9 L1214.2 250.5 L1215.2 270.9 L1216.2 255.9 L1217.2 281.7 L1217.9 266.8" fill="none" stroke="#D0521D" stroke-width="3.6" stroke-linejoin="round"/>
<path d="M119.2 86.1 L120.2 84.5 L121.2 85.2 L122.2 83.9 L123.2 84.9 L124.2 83.4 L125.2 84.3 L126.2 83.0 L127.2 84.2 L128.2 82.7 L129.2 83.3 L130.2 82.0 L131.2 83.3 L131.9 81.9 L132.2 83.3 L133.2 82.0 L134.2 84.1 L135.2 82.8 L136.2 84.5 L137.2 83.9 L138.2 85.4 L139.2 85.4 L140.2 86.9 L141.2 86.3 L142.2 87.8 L143.2 86.8 L144.2 88.8 L144.6 87.6 L145.2 89.2 L146.2 88.1 L147.2 89.7 L148.2 89.4 L149.2 91.1 L150.2 90.1 L151.2 91.8 L152.2 91.3 L153.2 92.7 L154.2 92.1 L155.2 93.8 L156.2 93.1 L157.2 95.3 L158.2 94.1 L158.5 95.5 L159.2 94.8 L160.2 96.4 L161.2 95.5 L162.2 96.9 L163.2 95.4 L164.2 97.0 L165.2 96.1 L166.2 98.4 L167.2 97.4 L168.2 99.0 L169.2 98.1 L170.1 99.8 L170.2 98.8 L171.2 99.4 L172.2 97.8 L173.2 99.1 L174.2 97.6 L175.2 98.2 L176.2 96.5 L177.2 97.5 L178.2 95.8 L179.2 97.2 L180.2 94.8 L181.2 96.1 L182.2 94.7 L183.2 95.4 L183.9 93.7 L184.2 94.4 L185.2 92.2 L186.2 91.8 L187.2 89.2 L188.2 89.6 L189.2 87.1 L190.2 87.4 L191.2 84.5 L192.2 84.5 L193.1 82.2 L193.2 83.6 L194.2 82.9 L195.2 85.4 L196.2 85.2 L197.2 87.8 L198.2 86.6 L199.2 90.2 L200.1 89.3 L200.2 90.5 L201.2 89.7 L202.2 91.0 L203.2 90.1 L204.2 91.5 L205.2 90.6 L205.8 92.3 L206.2 90.9 L207.2 93.2 L208.2 93.0 L209.2 96.0 L210.2 95.7 L211.2 97.8 L212.2 97.7 L213.2 100.5 L214.2 99.6 L215.2 102.1 L216.2 101.8 L217.2 104.5 L217.4 103.2 L218.2 104.0 L219.2 101.5 L220.2 101.6 L221.2 99.9 L222.2 100.7 L223.2 97.5 L223.2 99.4 L224.2 99.2 L225.2 102.3 L226.2 102.2 L227.2 106.4 L228.2 106.8 L229.2 110.7 L230.2 110.7 L231.2 114.3 L232.2 115.2 L233.2 118.5 L234.2 118.5 L234.7 121.0 L235.2 119.0 L236.2 119.5 L237.2 117.0 L238.2 118.1 L239.2 115.2 L240.2 116.2 L241.2 113.8 L242.2 114.5 L243.2 112.2 L243.9 113.3 L244.2 112.2 L245.2 115.0 L246.2 114.7 L247.2 117.9 L248.2 117.9 L249.2 120.5 L250.2 120.6 L250.9 123.3 L251.2 121.6 L252.2 122.7 L253.2 120.3 L254.2 121.0 L255.2 118.9 L256.2 119.6 L257.2 117.6 L257.8 118.0 L258.2 117.3 L259.2 119.5 L260.2 118.7 L261.2 120.2 L262.2 119.2 L263.2 121.5 L264.2 120.3 L264.7 121.9 L265.2 121.1 L266.2 124.1 L267.2 123.4 L268.2 126.4 L269.2 126.3 L270.2 128.7 L271.2 128.1 L271.7 129.8 L272.2 128.4 L273.2 129.7 L274.2 128.6 L275.2 129.5 L276.2 127.4 L277.2 128.5 L278.2 126.9 L279.2 128.8 L279.8 127.6 L280.2 129.3 L281.2 130.7 L282.2 134.5 L283.2 135.3 L284.2 138.7 L285.2 139.3 L286.2 143.0 L286.7 142.6 L287.2 143.8 L288.2 140.5 L289.2 141.2 L290.2 138.5 L291.2 139.2 L292.2 136.2 L293.2 136.9 L294.2 134.0 L294.8 135.0 L295.2 133.5 L296.2 135.1 L297.2 133.2 L298.2 135.4 L299.2 134.0 L300.2 135.9 L301.2 134.8 L302.2 136.3 L303.2 135.0 L304.0 137.0 L304.2 135.1 L305.2 137.4 L306.2 135.5 L307.2 137.6 L308.2 136.1 L309.2 138.0 L310.2 135.4 L310.9 138.2 L311.2 137.3 L312.2 141.2 L313.2 140.3 L314.2 145.5 L315.2 144.8 L316.2 148.2 L317.2 148.0 L318.2 151.6 L319.2 152.8 L320.2 156.2 L321.2 155.9 L321.3 157.6 L322.2 155.5 L323.2 156.3 L324.2 153.4 L325.2 153.8 L326.2 151.3 L327.2 152.1 L328.2 149.6 L329.2 151.0 L329.4 149.0 L330.2 152.4 L331.2 152.0 L332.2 154.9 L333.2 155.6 L334.0 157.8 L334.2 156.2 L335.2 155.8 L336.2 152.8 L337.2 153.7 L338.2 150.6 L339.2 150.9 L340.2 148.6 L341.2 148.4 L342.2 145.1 L343.2 145.5 L344.2 142.2 L344.4 143.5 L345.2 143.4 L346.2 146.9 L347.2 146.7 L348.2 149.8 L349.2 149.7 L350.2 153.2 L350.2 151.4 L351.2 154.0 L352.2 153.4 L353.2 154.8 L354.2 154.7 L355.2 156.8 L356.2 155.9 L357.2 158.6 L358.2 157.3 L359.2 159.9 L359.4 158.0 L360.2 159.4 L361.2 157.9 L362.2 159.1 L363.2 156.9 L364.2 158.2 L365.2 156.5 L366.2 157.6 L367.2 155.2 L368.2 156.6 L368.7 155.0 L369.2 157.7 L370.2 157.7 L371.2 160.3 L372.2 160.5 L373.2 163.1 L374.2 163.1 L375.2 166.2 L376.2 165.2 L377.2 168.9 L378.2 168.7 L379.1 171.5 L379.2 170.1 L380.2 171.5 L381.2 169.0 L382.2 171.6 L383.2 169.1 L384.2 170.7 L385.2 169.2 L386.2 170.8 L387.1 168.9 L387.2 170.9 L388.2 170.0 L389.2 172.5 L390.2 171.0 L391.2 174.0 L391.8 172.5 L392.2 173.9 L393.2 170.5 L394.2 171.1 L395.2 166.9 L396.2 168.7 L397.2 165.3 L398.2 166.1 L398.7 163.4 L399.2 164.9 L400.2 162.1 L401.2 162.3 L402.2 159.3 L403.2 160.3 L403.3 157.9 L404.2 159.6 L405.2 156.9 L406.2 158.5 L407.2 155.8 L408.2 157.1 L409.2 155.0 L410.2 156.2 L411.2 153.3 L412.2 153.8 L413.2 151.6 L413.9 152.9 L414.2 151.9 L415.2 153.6 L416.2 152.9 L417.2 154.7 L418.2 153.5 L419.2 155.4 L420.2 154.4 L420.8 156.6 L421.2 155.2 L422.2 158.4 L423.2 156.7 L424.2 159.6 L425.2 158.5 L426.2 160.6 L427.2 160.1 L427.7 162.5 L428.2 160.9 L429.2 165.2 L430.2 165.1 L431.2 168.5 L432.2 168.4 L432.3 169.9 L433.2 168.6 L434.2 171.5 L435.2 169.6 L436.2 172.1 L437.2 170.2 L438.2 173.3 L439.2 172.2 L440.2 175.0 L440.4 173.7 L441.2 178.4 L442.2 179.0 L443.2 184.9 L444.2 185.5 L445.0 189.7 L445.2 186.8 L446.2 185.3 L447.2 179.5 L448.2 177.2 L449.2 171.9 L450.2 170.3 L451.2 164.0 L452.2 162.3 L453.2 156.8 L454.2 155.1 L455.2 148.3 L455.4 149.9 L456.2 148.4 L457.2 151.6 L458.2 150.8 L459.2 154.8 L460.2 154.0 L461.2 156.9 L462.2 156.6 L462.4 158.7 L463.2 156.7 L464.2 160.9 L465.2 160.7 L466.2 164.5 L467.2 164.3 L468.2 167.7 L469.2 167.2 L469.3 169.1 L470.2 168.1 L471.2 170.2 L472.2 168.8 L473.2 171.2 L473.9 168.5 L474.2 171.1 L475.2 167.5 L476.2 170.6 L477.2 167.6 L478.2 169.2 L479.2 166.4 L480.2 167.5 L481.2 165.1 L482.2 166.6 L483.1 162.6 L483.2 165.3 L484.2 160.9 L485.2 163.2 L486.2 160.6 L487.2 162.0 L488.2 158.5 L489.2 160.4 L490.2 157.9 L491.2 158.5 L492.2 156.2 L492.4 157.7 L493.2 152.8 L494.2 152.4 L495.2 147.8 L496.2 147.8 L497.2 141.9 L498.2 141.9 L499.2 136.3 L500.2 136.2 L500.5 132.3 L501.2 137.0 L502.2 134.9 L503.2 141.1 L504.2 140.3 L505.2 144.5 L506.2 143.8 L507.2 153.7 L508.2 159.6 L509.2 168.6 L510.2 173.2 L510.9 180.2 L511.2 175.8 L512.2 174.1 L513.2 166.9 L514.2 166.0 L515.2 158.7 L516.2 157.7 L517.2 151.0 L517.8 150.6 L518.2 148.3 L519.2 150.0 L520.2 147.0 L521.2 148.7 L522.2 144.6 L523.2 148.2 L524.2 144.9 L524.7 146.7 L525.2 144.6 L526.2 149.6 L527.2 147.7 L528.2 153.1 L529.2 152.7 L530.2 157.0 L531.2 155.7 L532.2 160.9 L533.2 160.5 L534.0 163.8 L534.2 161.3 L535.2 159.5 L536.2 153.2 L537.2 153.0 L538.2 146.8 L539.2 145.9 L540.2 139.0 L540.9 139.9 L541.2 136.7 L542.2 138.8 L543.2 135.3 L544.2 136.5 L545.2 131.9 L546.2 132.5 L547.2 128.9 L547.8 130.2 L548.2 127.8 L549.2 130.0 L550.2 125.1 L551.2 129.0 L552.2 126.4 L553.2 129.9 L554.2 126.7 L554.7 129.9 L555.2 125.8 L556.2 129.7 L557.2 125.9 L558.2 128.9 L559.2 125.5 L560.2 130.3 L561.2 126.5 L562.2 128.8 L563.2 125.4 L564.2 127.4 L565.2 123.4 L566.2 127.7 L566.3 124.9 L567.2 126.5 L568.2 123.0 L569.2 127.7 L570.2 123.6 L571.2 124.8 L572.2 121.5 L573.2 123.8 L573.2 120.2 L574.2 122.4 L575.2 116.7 L576.2 117.9 L577.2 110.7 L577.8 110.3 L578.2 108.0 L579.2 110.9 L580.2 107.6 L581.2 110.6 L582.2 106.9 L583.2 108.9 L584.2 105.5 L585.2 108.6 L586.2 104.9 L587.2 106.3 L588.2 103.5 L589.2 105.5 L589.4 103.6 L590.2 106.9 L591.2 104.7 L592.2 109.1 L593.2 107.6 L594.2 112.8 L595.2 111.0 L596.2 114.2 L597.2 112.8 L598.2 116.3 L598.6 114.0 L599.2 117.6 L600.2 113.8 L601.2 117.8 L602.2 114.1 L603.2 116.5 L604.2 112.9 L605.2 116.6 L606.2 112.7 L607.2 116.1 L607.9 113.4 L608.2 117.9 L609.2 112.6 L610.2 114.9 L611.2 111.7 L612.2 115.3 L613.2 113.4 L614.2 117.1 L615.2 114.5 L616.2 118.1 L617.2 115.0 L618.2 117.2 L619.2 115.5 L620.2 122.1 L621.2 120.7 L622.2 126.0 L623.2 125.1 L624.0 131.0 L624.2 127.8 L625.2 129.0 L626.2 123.3 L627.2 123.7 L628.2 118.7 L628.6 120.8 L629.2 121.2 L630.2 133.2 L631.2 136.9 L632.2 150.0 L633.2 154.2 L634.2 166.1 L635.2 169.8 L635.6 177.4 L636.2 169.4 L637.2 167.9 L638.2 159.6 L639.2 158.3 L640.2 149.1 L641.2 148.4 L641.3 145.2 L642.2 144.4 L643.2 137.3 L644.2 137.8 L645.2 130.6 L646.2 129.7 L647.1 122.0 L647.2 126.1 L648.2 121.2 L649.2 123.9 L650.2 119.7 L651.2 121.1 L652.2 117.0 L653.2 118.8 L654.0 114.6 L654.2 117.3 L655.2 110.8 L656.2 111.8 L657.2 105.4 L658.2 105.8 L659.2 97.8 L660.2 101.2 L661.0 95.6 L661.2 97.6 L662.2 93.3 L663.2 97.1 L664.2 90.3 L665.2 94.4 L666.2 89.4 L667.2 91.2 L667.9 86.1 L668.2 89.7 L669.2 87.6 L670.2 93.1 L671.2 90.7 L672.2 97.6 L673.2 95.3 L674.2 100.0 L674.8 97.2 L675.2 103.1 L676.2 100.6 L677.2 107.6 L678.2 105.6 L679.2 111.8 L680.2 110.5 L681.2 114.9 L681.8 113.0 L682.2 117.2 L683.2 112.2 L684.2 116.6 L685.2 112.5 L686.2 113.6 L687.2 109.9 L688.2 113.9 L689.2 110.7 L690.2 113.7 L691.0 109.7 L691.2 113.0 L692.2 104.0 L693.2 108.3 L694.2 101.2 L695.2 102.6 L696.2 95.4 L697.2 98.0 L698.2 92.1 L699.2 93.5 L700.2 92.2 L701.2 100.1 L702.2 101.0 L703.2 106.9 L704.2 106.7 L705.2 114.8 L706.2 114.6 L707.2 120.5 L707.3 118.4 L708.2 118.8 L709.2 112.2 L710.2 113.9 L711.2 106.5 L712.2 105.6 L713.2 100.1 L714.2 101.4 L715.2 94.8 L716.2 95.4 L717.2 86.7 L718.2 91.1 L719.2 82.6 L720.0 85.5 L720.2 81.3 L721.2 90.0 L722.2 87.9 L723.2 95.7 L724.2 97.0 L725.2 105.0 L726.2 104.7 L727.2 112.9 L728.2 111.2 L729.2 118.0 L729.3 114.2 L730.2 118.8 L731.2 113.4 L732.2 114.6 L733.2 108.7 L733.9 112.7 L734.2 109.7 L735.2 115.6 L736.2 111.3 L737.2 117.0 L738.2 113.2 L739.2 119.7 L740.2 116.1 L741.2 122.6 L742.0 119.6 L742.2 124.4 L743.2 117.9 L744.2 120.6 L745.2 113.5 L746.2 115.3 L747.2 106.2 L748.2 108.3 L749.2 102.3 L750.2 103.4 L751.2 96.5 L752.2 98.6 L752.4 94.6 L753.2 100.1 L754.2 96.0 L755.2 101.2 L756.2 96.0 L757.2 99.5 L758.1 96.4 L758.2 102.5 L759.2 102.8 L760.2 111.5 L761.2 111.3 L762.2 121.4 L763.2 118.0 L763.9 127.6 L764.2 122.8 L765.2 126.9 L766.2 122.2 L767.2 126.4 L768.2 121.1 L769.2 127.9 L769.7 122.1 L770.2 130.9 L771.2 127.2 L772.2 136.9 L773.1 133.5 L773.2 140.4 L774.2 137.0 L775.2 143.8 L776.2 136.8 L777.2 148.0 L778.2 140.9 L778.9 147.9 L779.2 141.6 L780.2 140.7 L781.2 130.9 L782.2 135.0 L783.2 124.5 L784.2 120.0 L785.2 110.7 L786.2 111.8 L787.0 103.9 L787.2 110.0 L788.2 107.2 L789.2 115.6 L790.2 113.3 L791.2 120.8 L791.6 117.3 L792.2 121.7 L793.2 112.6 L794.2 119.0 L795.2 114.9 L796.2 116.8 L797.2 117.4 L798.2 130.6 L799.2 131.5 L800.2 142.8 L801.2 145.6 L802.2 157.8 L803.2 156.0 L803.2 162.5 L804.2 156.5 L805.2 160.5 L806.2 149.8 L807.2 157.8 L807.8 150.2 L808.2 153.9 L809.2 146.5 L810.2 146.4 L811.2 137.3 L812.2 139.3 L813.2 127.3 L813.6 131.2 L814.2 130.6 L815.2 144.7 L816.2 142.0 L817.2 156.9 L818.2 159.6 L819.2 172.3 L819.3 167.4 L820.2 169.4 L821.2 160.8 L822.2 165.4 L823.2 154.0 L824.2 154.6 L825.2 147.5 L826.2 148.7 L827.2 140.1 L828.2 142.4 L828.6 136.2 L829.2 142.8 L830.2 140.0 L831.2 147.1 L832.2 145.0 L833.2 153.4 L834.2 148.2 L835.2 157.5 L836.2 153.7 L837.2 161.8 L837.8 158.3 L838.2 164.3 L839.2 154.9 L840.2 159.9 L841.2 154.7 L842.2 157.9 L843.2 149.6 L844.2 153.6 L845.2 148.4 L846.2 153.8 L847.2 141.1 L848.2 147.8 L849.2 137.5 L849.4 145.7 L850.2 137.4 L851.2 144.0 L852.2 135.7 L853.2 143.0 L854.2 136.8 L855.2 144.3 L856.2 136.8 L856.3 140.0 L857.2 128.1 L858.2 140.2 L859.2 127.4 L860.2 133.5 L861.2 128.5 L862.2 132.5 L863.2 119.1 L864.2 127.7 L865.2 119.0 L865.5 126.6 L866.2 118.4 L867.2 129.2 L868.2 124.7 L869.2 130.4 L870.2 125.6 L871.2 134.0 L872.2 131.6 L873.2 136.7 L874.2 134.1 L874.8 143.2 L875.2 134.6 L876.2 145.0 L877.2 142.6 L878.2 149.1 L879.2 145.2 L879.4 152.4 L880.2 142.4 L881.2 155.3 L882.2 147.3 L883.2 154.0 L884.2 148.9 L885.2 156.2 L886.2 150.0 L887.2 158.7 L888.2 148.4 L888.6 164.0 L889.2 146.0 L890.2 152.2 L891.2 140.1 L892.2 149.0 L893.2 138.8 L893.2 150.9 L894.2 141.3 L895.2 153.4 L896.2 140.4 L897.2 158.9 L898.2 152.0 L899.2 163.8 L900.2 149.8 L900.2 160.0 L901.2 149.1 L902.2 161.3 L903.2 151.3 L904.2 162.6 L905.2 147.8 L906.2 163.0 L907.2 153.4 L908.2 166.6 L909.2 154.1 L909.4 168.8 L910.2 159.7 L911.2 168.9 L912.2 163.9 L913.2 183.7 L914.0 170.1 L914.2 182.2 L915.2 170.8 L916.2 175.0 L917.2 162.3 L918.2 168.6 L919.2 157.5 L920.2 164.5 L921.0 155.4 L921.2 166.7 L922.2 160.2 L923.2 173.0 L924.2 162.8 L925.2 174.9 L926.2 161.8 L927.2 175.9 L927.9 165.7 L928.2 180.4 L929.2 167.7 L930.2 175.6 L931.2 163.3 L932.2 176.8 L933.2 164.4 L934.2 174.1 L934.8 161.8 L935.2 178.3 L936.2 158.4 L937.2 172.6 L938.2 162.1 L939.2 172.5 L940.2 167.7 L941.2 180.6 L942.2 166.2 L943.2 179.7 L944.0 170.2 L944.2 182.3 L945.2 171.9 L946.2 183.8 L947.2 170.0 L948.2 182.0 L949.2 172.2 L950.2 186.9 L951.2 175.9 L952.2 190.5 L953.2 182.0 L954.2 195.8 L955.2 181.4 L955.6 200.8 L956.2 184.8 L957.2 188.4 L958.2 174.8 L959.2 190.7 L960.2 176.7 L961.2 193.3 L962.2 183.0 L962.5 194.9 L963.2 186.0 L964.2 202.7 L965.2 191.7 L966.2 210.4 L967.1 198.9 L967.2 215.8 L968.2 199.5 L969.2 212.8 L970.2 198.5 L971.2 211.0 L972.2 193.0 L973.2 211.3 L974.2 203.3 L975.2 215.2 L976.2 194.6 L976.4 216.1 L977.2 197.2 L978.2 210.2 L979.2 198.2 L980.0 210.0 L980.2 197.4 L981.2 209.8 L982.2 195.4 L983.2 203.6 L984.2 191.0 L985.2 208.0 L985.8 196.2 L986.2 205.1 L987.2 196.8 L988.2 210.2 L989.2 197.5 L990.2 210.1 L991.2 198.1 L992.2 220.9 L993.2 202.6 L993.9 218.1 L994.2 205.3 L995.2 219.9 L996.2 203.9 L997.2 223.0 L998.2 212.8 L999.2 216.5 L1000.2 203.6 L1001.2 226.2 L1002.2 214.0 L1003.2 235.8 L1004.2 210.0 L1005.2 228.1 L1005.4 217.7 L1006.2 226.9 L1007.2 212.5 L1008.2 226.1 L1009.2 214.6 L1010.2 223.8 L1011.2 212.5 L1012.2 221.8 L1013.2 208.1 L1014.2 216.0 L1014.6 204.6 L1015.2 220.3 L1016.2 210.3 L1017.2 224.1 L1018.2 211.6 L1019.2 222.4 L1020.2 209.0 L1021.2 217.2 L1022.2 200.2 L1023.2 211.4 L1023.9 201.8 L1024.2 215.7 L1025.2 205.5 L1026.2 219.2 L1027.2 208.8 L1028.2 220.0 L1029.2 207.4 L1030.2 228.9 L1031.2 219.4 L1032.2 236.8 L1033.2 217.1 L1034.2 236.8 L1035.2 222.2 L1035.4 242.1 L1036.2 219.8 L1037.2 238.1 L1038.2 218.0 L1039.2 235.4 L1040.2 219.5 L1041.2 235.2 L1042.2 214.7 L1043.2 226.6 L1044.2 211.0 L1045.2 228.8 L1046.2 211.7 L1047.2 223.6 L1048.2 212.1 L1049.2 226.0 L1049.3 214.0 L1050.2 232.9 L1051.2 218.7 L1052.2 237.4 L1053.2 220.2 L1054.2 236.3 L1055.2 223.0 L1056.2 242.3 L1057.2 225.4 L1058.2 251.1 L1059.2 228.0 L1060.2 249.0 L1060.8 234.3 L1061.2 250.8 L1062.2 231.9 L1063.2 246.5 L1064.2 226.8 L1065.2 237.4 L1066.2 219.4 L1067.2 240.5 L1068.2 221.2 L1069.2 233.9 L1070.2 219.8 L1071.2 238.2 L1072.2 213.5 L1072.4 232.6 L1073.2 220.1 L1074.2 229.5 L1075.2 219.0 L1076.2 234.7 L1077.2 224.7 L1078.2 239.1 L1079.2 225.4 L1079.3 247.2 L1080.2 234.0 L1081.2 251.8 L1082.2 231.4 L1083.2 257.5 L1084.2 239.4 L1085.2 261.1 L1086.2 245.8 L1087.2 260.1 L1088.2 230.0 L1089.2 243.4 L1090.2 217.3 L1091.2 232.0 L1092.2 209.9 L1093.2 226.2 L1093.2 214.4 L1094.2 228.5 L1095.2 220.4 L1096.2 234.7 L1097.2 223.1 L1098.2 242.3 L1099.2 223.1 L1100.2 243.6 L1101.2 229.8 L1102.2 245.7 L1102.4 234.9 L1103.2 252.6 L1104.2 232.4 L1105.2 253.5 L1106.2 231.3 L1107.2 250.0 L1108.2 221.3 L1109.2 240.6 L1109.3 224.5 L1110.2 241.3 L1111.2 226.8 L1112.2 241.6 L1113.2 225.7 L1114.2 240.7 L1115.2 226.4 L1116.2 249.7 L1117.2 241.2 L1118.2 256.9 L1118.6 239.1 L1119.2 252.3 L1120.2 231.8 L1121.2 244.5 L1122.2 227.0 L1123.2 240.6 L1124.2 234.8 L1124.3 247.7 L1125.2 238.5 L1126.2 263.1 L1127.2 237.7 L1128.2 259.5 L1129.2 242.7 L1130.1 264.7 L1130.2 255.6 L1131.2 275.4 L1132.2 261.3 L1133.2 285.2 L1133.6 266.3" fill="none" stroke="#772D88" stroke-width="3.6" stroke-linejoin="round"/>
<path d="M119.2 115.5 L120.2 115.4 L121.2 115.3 L122.2 115.3 L123.2 115.2 L124.2 115.1 L125.2 115.1 L126.2 115.0 L127.2 115.0 L128.2 114.9 L129.2 114.8 L130.2 114.8 L131.2 114.7 L132.2 114.6 L133.2 114.6 L134.2 114.5 L135.2 114.5 L136.2 114.4 L137.2 114.3 L138.2 114.3 L139.2 114.2 L140.2 114.1 L141.2 114.1 L142.2 114.0 L143.2 114.0 L144.2 113.9 L145.2 113.8 L146.2 113.8 L147.2 113.7 L148.2 113.6 L149.2 113.6 L150.2 113.5 L151.2 113.5 L152.2 113.4 L153.2 113.3 L154.2 113.3 L155.2 113.2 L156.2 113.1 L157.2 113.1 L158.2 113.0 L159.2 113.0 L160.2 112.9 L161.2 112.8 L162.2 112.8 L163.2 112.7 L164.2 112.6 L165.2 112.6 L166.2 112.5 L167.2 112.5 L168.2 112.4 L169.2 112.3 L170.2 112.3 L171.2 112.2 L172.2 112.1 L173.2 112.1 L174.2 112.0 L174.7 112.0 L175.2 112.2 L176.2 112.6 L177.2 113.0 L178.2 113.4 L179.2 113.8 L180.2 114.1 L181.2 114.5 L182.2 114.9 L183.2 115.3 L184.2 115.7 L185.2 116.1 L186.2 116.5 L187.2 116.8 L188.2 117.2 L189.2 117.6 L190.2 118.0 L191.2 118.4 L192.2 118.8 L193.2 119.2 L194.2 119.5 L195.2 119.9 L196.2 120.3 L197.2 120.7 L198.2 121.1 L199.2 121.5 L200.2 121.9 L201.2 122.3 L202.2 122.6 L203.2 123.0 L204.2 123.4 L205.2 123.8 L206.2 124.2 L207.2 124.6 L208.2 125.0 L209.2 125.3 L210.2 125.7 L211.2 126.1 L212.2 126.5 L213.2 126.9 L214.2 127.3 L215.2 127.7 L216.2 128.0 L217.2 128.4 L218.2 128.8 L219.2 129.2 L220.2 129.6 L221.2 130.0 L222.2 130.4 L223.2 130.8 L224.2 131.1 L225.2 131.5 L225.5 131.6 L226.2 131.5 L227.2 131.4 L228.2 131.3 L229.2 131.1 L230.2 131.0 L231.2 130.9 L232.2 130.7 L233.2 130.6 L234.2 130.5 L235.2 130.4 L236.2 130.2 L237.2 130.1 L238.2 130.0 L239.2 129.8 L240.2 129.7 L241.2 129.6 L242.2 129.5 L243.2 129.3 L244.2 129.2 L245.2 129.1 L246.2 128.9 L247.2 128.8 L248.2 128.7 L249.2 128.5 L250.2 128.4 L251.2 128.3 L252.2 128.2 L253.2 128.0 L254.2 127.9 L255.2 127.8 L256.2 127.6 L257.2 127.5 L258.2 127.4 L259.2 127.3 L260.2 127.1 L261.2 127.0 L261.3 127.0 L262.2 128.2 L263.2 129.4 L264.2 130.7 L265.2 131.9 L266.2 133.2 L267.2 134.4 L268.2 135.6 L269.2 136.9 L270.2 138.1 L271.2 139.4 L272.2 140.6 L273.2 141.8 L274.2 143.1 L275.2 144.3 L276.2 145.6 L277.2 146.8 L278.2 148.0 L279.2 149.3 L280.2 150.5 L281.2 151.8 L282.2 153.0 L283.2 154.2 L284.2 155.5 L285.2 156.7 L286.2 158.0 L287.2 159.2 L288.2 160.4 L289.2 161.7 L290.1 162.8 L290.2 162.9 L291.2 163.5 L292.2 164.2 L293.2 164.9 L294.2 165.6 L295.2 166.2 L296.2 166.9 L297.2 167.6 L298.2 168.3 L299.2 169.0 L300.2 169.6 L301.2 170.3 L302.2 171.0 L303.2 171.7 L304.2 172.3 L305.2 173.0 L306.2 173.7 L307.2 174.4 L308.2 175.0 L309.2 175.8 L310.2 176.4 L311.2 177.1 L312.2 177.7 L313.2 178.5 L314.2 179.0 L315.2 179.8 L316.2 180.4 L317.2 181.2 L318.2 181.7 L319.2 182.6 L320.2 183.1 L321.2 183.9 L322.2 184.4 L323.2 185.3 L324.2 185.7 L325.2 186.6 L326.2 187.0 L327.2 188.0 L328.2 188.5 L329.2 189.3 L329.4 189.3 L330.2 189.7 L331.2 189.8 L332.2 190.4 L333.2 190.4 L334.2 191.1 L335.2 191.2 L336.2 191.9 L337.2 191.9 L338.2 192.5 L339.2 192.6 L340.2 193.2 L341.2 193.2 L342.2 193.9 L343.2 193.8 L344.2 194.5 L345.2 194.5 L346.2 195.1 L347.2 195.2 L348.2 195.8 L349.2 195.8 L350.2 196.4 L350.2 196.1 L351.2 196.8 L352.2 196.5 L353.2 197.4 L354.2 197.4 L355.2 198.1 L356.2 197.9 L357.2 198.7 L358.2 198.4 L359.2 199.1 L360.2 199.0 L361.2 199.8 L362.2 199.5 L363.2 200.4 L364.2 200.2 L365.2 201.2 L366.2 200.9 L367.2 201.7 L368.2 201.5 L369.2 202.3 L370.2 202.0 L371.2 202.8 L372.2 202.7 L373.2 203.3 L374.2 202.9 L375.2 203.8 L376.2 203.4 L377.2 204.3 L377.9 204.0 L378.2 204.8 L379.2 203.9 L380.2 204.4 L381.2 203.3 L382.2 204.2 L383.2 203.6 L384.2 204.2 L385.2 203.4 L386.2 203.9 L387.2 203.1 L388.2 203.5 L389.2 202.6 L390.2 203.4 L391.2 202.6 L392.2 202.9 L393.2 202.2 L394.2 202.6 L395.2 201.8 L396.2 202.7 L397.2 201.5 L398.2 202.4 L398.7 201.5 L399.2 202.6 L400.2 202.1 L401.2 203.0 L402.2 202.7 L403.2 203.8 L404.2 203.3 L405.2 204.5 L406.2 203.9 L407.2 205.0 L408.2 204.4 L409.2 205.7 L410.2 205.4 L411.2 206.6 L412.2 205.8 L413.2 207.0 L413.9 206.0 L414.2 207.2 L415.2 206.7 L416.2 207.9 L417.2 207.6 L418.2 208.8 L419.2 208.0 L420.2 209.7 L421.2 208.9 L422.2 210.2 L423.1 209.4 L423.2 210.8 L424.2 210.4 L425.2 212.2 L426.2 211.8 L427.2 213.6 L428.2 213.2 L429.2 215.4 L430.2 215.2 L431.2 217.2 L432.2 216.7 L433.2 218.4 L434.2 217.8 L435.2 219.7 L436.2 219.2 L436.9 220.8 L437.2 219.9 L438.2 221.3 L439.2 220.0 L440.2 222.1 L441.2 220.6 L442.2 222.0 L443.2 221.3 L443.9 222.0 L444.2 221.0 L445.2 221.1 L446.2 219.1 L447.2 219.1 L448.2 217.4 L449.2 217.7 L450.2 215.1 L450.8 216.7 L451.2 215.6 L452.2 217.1 L453.2 216.6 L454.2 217.9 L455.2 217.3 L456.2 218.4 L457.2 217.5 L457.7 219.1 L458.2 216.5 L459.2 216.6 L460.2 214.1 L461.2 214.0 L462.2 212.1 L463.2 212.0 L464.2 209.3 L464.7 209.4 L465.2 208.5 L466.2 210.7 L467.2 210.5 L468.2 212.6 L469.2 211.7 L469.3 213.1 L470.2 210.9 L471.2 211.5 L472.2 209.6 L473.2 209.5 L474.2 207.4 L475.2 207.9 L476.2 205.7 L477.2 206.0 L478.2 203.9 L478.5 205.6 L479.2 203.6 L480.2 203.9 L481.2 201.9 L482.2 202.6 L483.1 201.2 L483.2 202.1 L484.2 199.2 L485.2 199.0 L486.2 196.1 L487.2 195.5 L488.2 192.2 L489.2 191.9 L490.2 188.5 L491.2 187.5 L492.2 184.5 L492.4 185.9 L493.2 187.1 L494.2 192.4 L495.2 195.4 L496.2 200.3 L497.2 203.9 L498.2 209.1 L499.2 211.6 L499.3 213.3 L500.2 210.5 L501.2 210.7 L502.2 208.2 L503.2 207.9 L504.2 205.5 L505.2 205.3 L506.2 203.0 L507.2 202.7 L508.2 200.9 L508.6 202.2 L509.2 199.0 L510.2 197.7 L511.2 195.0 L512.2 194.2 L513.2 191.0 L514.2 190.2 L515.2 186.5 L516.2 186.8 L517.2 182.6 L518.2 182.2 L519.2 179.0 L520.1 178.3 L520.2 176.6 L521.2 177.3 L522.2 174.8 L523.2 175.6 L524.2 173.7 L525.2 174.0 L525.9 172.5 L526.2 174.2 L527.2 173.5 L528.2 175.4 L529.2 173.7 L530.2 176.8 L531.2 176.0 L532.2 177.9 L533.2 177.4 L534.2 179.0 L535.2 178.2 L536.2 180.4 L537.2 179.6 L538.2 181.2 L538.6 180.6 L539.2 183.4 L540.2 182.3 L541.2 185.0 L542.0 183.9 L542.2 185.4 L543.2 182.8 L544.2 183.7 L545.2 181.6 L546.2 182.8 L547.2 179.4 L547.8 180.8 L548.2 179.4 L549.2 180.7 L550.2 179.3 L551.2 180.5 L552.2 179.2 L553.2 180.1 L554.2 178.5 L555.2 179.6 L556.2 178.2 L557.2 179.5 L558.2 177.4 L559.2 179.1 L559.4 176.9 L560.2 177.4 L561.2 174.0 L562.2 175.5 L563.2 172.8 L564.2 173.2 L565.2 171.2 L566.2 171.9 L566.3 169.9 L567.2 170.4 L568.2 167.7 L569.2 168.6 L570.2 165.5 L571.2 166.3 L572.2 163.4 L573.2 164.0 L573.2 162.3 L574.2 164.9 L575.2 162.4 L576.2 164.8 L577.2 164.0 L578.2 166.0 L579.2 165.1 L580.2 167.0 L581.2 165.7 L582.2 168.4 L583.2 166.8 L584.2 169.2 L584.8 168.0 L585.2 171.0 L586.2 172.3 L587.2 175.7 L588.2 176.8 L589.2 180.6 L590.2 182.7 L591.2 187.6 L591.7 186.3 L592.2 189.7 L593.2 190.9 L594.2 194.7 L595.2 196.2 L596.2 201.0 L597.2 202.6 L598.2 206.4 L599.2 207.4 L599.8 210.6 L600.2 207.9 L601.2 207.7 L602.2 203.6 L603.2 203.0 L604.2 198.5 L605.2 198.1 L606.2 194.5 L607.2 193.5 L607.9 190.5 L608.2 191.9 L609.2 190.4 L610.2 191.2 L611.2 190.2 L612.2 191.3 L613.2 189.5 L614.2 190.4 L614.8 188.8 L615.2 189.8 L616.2 186.3 L617.2 187.2 L618.2 183.6 L619.2 184.1 L620.2 180.8 L621.2 181.2 L621.7 178.9 L622.2 180.1 L623.2 176.7 L624.2 176.8 L625.2 173.4 L626.2 173.3 L627.2 169.3 L628.2 169.7 L629.2 166.0 L630.2 165.9 L631.0 163.0 L631.2 164.7 L632.2 163.5 L633.2 167.6 L634.2 165.2 L635.2 168.3 L636.2 165.5 L637.2 169.5 L637.9 167.7 L638.2 170.4 L639.2 170.7 L640.2 175.5 L641.2 175.5 L642.2 180.2 L642.5 177.8 L643.2 183.3 L644.2 185.0 L645.2 191.3 L646.2 193.1 L647.2 198.7 L648.2 200.1 L649.2 206.0 L649.4 204.6 L650.2 206.3 L651.2 203.4 L652.2 205.3 L653.2 203.1 L654.0 204.6 L654.2 201.7 L655.2 202.3 L656.2 197.6 L657.2 197.3 L658.2 193.2 L659.2 192.7 L660.2 188.3 L661.2 188.8 L662.2 184.5 L663.2 185.1 L664.2 181.2 L664.4 182.2 L665.2 184.2 L666.2 191.3 L667.2 193.9 L668.2 200.9 L669.0 202.8 L669.2 204.7 L670.2 203.5 L671.2 206.2 L672.2 206.1 L673.2 209.0 L674.2 207.2 L675.2 210.8 L676.0 208.2 L676.2 210.4 L677.2 210.6 L678.2 213.7 L679.2 212.0 L680.2 215.5 L680.6 213.8 L681.2 213.8 L682.2 206.9 L683.2 204.5 L684.2 198.6 L685.2 195.2 L686.2 189.1 L687.2 186.5 L688.2 180.5 L688.7 181.0 L689.2 175.6 L690.2 172.8 L691.2 164.6 L692.2 161.6 L693.2 154.3 L694.2 151.5 L695.2 142.5 L695.6 143.6 L696.2 141.3 L697.2 142.0 L698.2 138.1 L699.2 138.4 L700.2 141.6 L701.2 146.9 L702.2 150.0 L703.2 156.0 L704.2 158.2 L705.2 165.4 L706.2 166.7 L706.2 170.0 L707.2 171.7 L708.2 177.3 L709.2 179.9 L710.2 186.2 L711.2 187.7 L712.2 194.2 L713.2 196.9 L714.2 202.5 L714.2 200.6 L715.2 200.4 L716.2 196.2 L717.2 197.5 L718.2 191.6 L719.2 192.7 L720.2 187.5 L721.2 187.8 L721.2 185.7 L722.2 187.3 L723.2 184.8 L724.2 186.7 L725.2 184.5 L726.2 186.7 L727.2 183.9 L728.2 186.9 L729.2 183.1 L729.3 186.1 L730.2 181.2 L731.2 183.1 L732.2 179.8 L733.2 180.8 L734.2 177.7 L735.2 178.7 L736.2 175.1 L737.2 176.0 L737.3 173.2 L738.2 179.0 L739.2 178.6 L740.2 185.0 L741.2 183.5 L742.0 190.0 L742.2 186.9 L743.2 188.1 L744.2 182.5 L745.2 183.0 L746.2 178.9 L746.6 180.9 L747.2 179.0 L748.2 181.5 L749.2 182.1 L750.2 186.4 L751.2 184.7 L752.2 188.4 L752.4 185.6 L753.2 188.4 L754.2 185.4 L755.2 188.5 L756.2 183.9 L757.2 186.9 L758.2 183.5 L759.2 186.4 L759.3 184.3 L760.2 186.0 L761.2 183.4 L762.2 189.6 L763.2 188.3 L764.2 190.2 L765.1 188.7 L765.2 191.4 L766.2 184.5 L767.2 185.5 L768.2 180.3 L769.2 180.6 L769.7 175.1 L770.2 180.6 L771.2 179.4 L772.2 186.2 L773.2 187.7 L774.2 192.4 L775.2 193.2 L776.2 199.3 L777.2 197.9 L777.8 202.0 L778.2 197.5 L779.2 202.1 L780.2 198.9 L781.2 203.4 L782.2 199.2 L783.2 205.2 L784.2 201.5 L785.2 204.5 L786.2 201.0 L787.0 204.4 L787.2 200.9 L788.2 205.1 L789.2 204.3 L790.2 208.6 L791.2 204.9 L791.6 211.7 L792.2 206.8 L793.2 209.2 L794.2 203.8 L795.2 204.5 L796.2 199.6 L797.2 200.4 L797.4 197.3 L798.2 205.1 L799.2 205.4 L800.2 212.9 L801.2 213.4 L802.0 219.1 L802.2 217.1 L803.2 218.0 L804.2 211.0 L805.2 213.9 L806.2 207.3 L807.2 210.0 L807.8 203.6 L808.2 208.2 L809.2 203.8 L810.2 207.7 L811.2 204.2 L812.2 209.2 L813.2 205.0 L814.2 210.1 L814.7 203.4 L815.2 210.3 L816.2 206.6 L817.2 214.2 L818.2 209.9 L819.2 215.9 L820.2 215.1 L821.2 221.2 L822.2 217.4 L822.8 222.9 L823.2 217.9 L824.2 222.0 L825.2 216.5 L826.2 221.5 L827.2 216.1 L828.2 220.0 L829.2 214.5 L830.2 218.4 L830.9 214.7 L831.2 218.9 L832.2 212.6 L833.2 217.4 L834.2 207.0 L835.2 214.6 L836.2 206.1 L837.2 208.3 L837.8 202.8 L838.2 209.7 L839.2 208.3 L840.2 216.3 L841.2 214.0 L842.2 218.3 L843.2 217.1 L843.6 223.4 L844.2 219.6 L845.2 225.9 L846.2 224.6 L847.2 231.0 L848.2 227.3 L849.2 234.0 L849.4 228.8 L850.2 235.3 L851.2 229.4 L852.2 233.0 L853.2 225.3 L854.0 229.7 L854.2 225.8 L855.2 229.9 L856.2 224.3 L857.2 229.3 L858.2 226.4 L859.2 231.6 L860.2 225.2 L861.2 229.8 L862.2 224.1 L863.2 228.1 L864.2 225.1 L865.2 230.3 L866.2 225.4 L867.2 229.3 L867.8 226.2 L868.2 231.4 L869.2 226.3 L870.2 228.3 L871.2 223.9 L872.2 228.1 L873.2 222.9 L874.2 231.1 L874.8 223.4 L875.2 225.5 L876.2 220.5 L877.2 226.3 L878.2 220.8 L879.2 227.5 L880.2 221.8 L881.2 228.1 L881.7 220.6 L882.2 227.5 L883.2 227.1 L884.2 234.2 L885.2 231.2 L886.2 240.1 L886.3 235.4 L887.2 241.0 L888.2 232.9 L889.2 239.9 L890.2 233.1 L891.2 236.2 L892.2 230.2 L893.2 235.7 L894.2 227.7 L895.2 236.2 L895.5 230.9 L896.2 234.8 L897.2 231.2 L898.2 236.4 L899.2 232.1 L900.2 238.0 L901.2 234.5 L902.2 239.1 L903.2 235.3 L904.2 242.2 L904.8 238.5 L905.2 243.7 L906.2 232.7 L907.2 241.3 L908.2 234.0 L909.2 241.9 L910.2 235.5 L911.2 244.1 L912.2 236.8 L913.2 240.3 L914.0 234.9 L914.2 242.6 L915.2 233.0 L916.2 238.2 L917.2 231.1 L918.2 234.4 L918.6 227.5 L919.2 235.8 L920.2 223.7 L921.2 228.7 L922.2 221.0 L923.2 226.1 L924.2 216.8 L924.4 223.4 L925.2 216.9 L926.2 224.7 L927.2 220.4 L928.2 231.6 L929.2 224.8 L930.2 231.2 L930.2 222.1 L931.2 235.2 L932.2 230.3 L933.2 241.1 L934.2 240.4 L934.8 247.9 L935.2 240.7 L936.2 249.2 L937.2 239.9 L938.2 245.8 L939.2 236.9 L940.2 248.1 L941.2 237.2 L942.2 243.7 L943.2 233.9 L944.0 243.3 L944.2 231.9 L945.2 245.6 L946.2 237.1 L947.2 244.2 L948.2 239.5 L949.2 249.5 L950.2 242.4 L951.2 250.5 L952.2 244.3 L953.2 253.6 L954.2 244.9 L955.2 258.2 L955.6 248.4 L956.2 258.1 L957.2 246.6 L958.2 257.8 L959.2 251.4 L960.2 256.5 L961.2 251.1 L962.2 258.6 L963.2 253.0 L964.2 262.5 L965.2 253.7 L966.2 258.5 L967.1 252.6 L967.2 262.3 L968.2 256.9 L969.2 263.4 L970.2 258.6 L971.2 265.2 L972.2 258.2 L973.2 268.9 L974.2 259.7 L975.2 271.4 L976.2 265.4 L977.2 275.4 L978.2 267.1 L978.7 275.6 L979.2 259.3 L980.0 268.2 L980.2 261.3 L981.2 268.9 L982.2 254.0 L983.2 264.4 L984.2 255.4 L985.2 263.9 L986.2 250.2 L986.9 259.7 L987.2 252.2 L988.2 266.0 L989.2 258.3 L990.2 267.9 L991.2 259.9 L992.2 271.0 L993.2 266.4 L994.2 278.1 L995.2 272.1 L996.2 281.4 L996.2 270.5 L997.2 284.0 L998.2 273.3 L999.2 287.8 L1000.2 271.2 L1001.2 284.7 L1002.2 273.2 L1003.2 284.3 L1004.2 275.1 L1005.2 284.3 L1006.2 271.8 L1007.2 284.4 L1007.7 276.1 L1008.2 283.9 L1009.2 273.7 L1010.2 281.5 L1011.2 264.9 L1012.2 282.5 L1013.2 266.3 L1014.2 276.9 L1014.6 265.8 L1015.2 274.5 L1016.2 260.6 L1017.2 273.5 L1018.2 253.0 L1019.2 269.3 L1020.2 254.9 L1021.2 267.6 L1022.2 255.3 L1022.7 262.0 L1023.2 255.1 L1024.2 270.4 L1025.2 260.9 L1026.2 276.0 L1027.2 263.8 L1028.2 281.3 L1028.5 269.6 L1029.2 280.8 L1030.2 270.8 L1031.2 281.4 L1032.2 277.6 L1033.2 293.7 L1034.2 283.3 L1035.2 296.7 L1036.2 286.3 L1036.6 299.3 L1037.2 283.1 L1038.2 294.1 L1039.2 276.8 L1040.2 287.4 L1041.2 275.2 L1042.2 284.2 L1043.2 277.0 L1044.2 289.1 L1045.2 273.0 L1046.2 281.9 L1047.2 272.9 L1048.2 278.6 L1049.2 266.1 L1049.3 278.1 L1050.2 269.4 L1051.2 282.3 L1052.2 274.4 L1053.2 290.3 L1054.2 279.4 L1055.2 301.4 L1056.2 277.9 L1057.2 299.1 L1058.2 288.5 L1058.5 304.0 L1059.2 287.2 L1060.2 304.1 L1061.2 291.8 L1062.2 308.3 L1063.2 286.6 L1064.2 301.2 L1065.2 283.7 L1066.2 300.5 L1067.2 289.8 L1067.8 300.7 L1068.2 290.3 L1069.2 304.0 L1070.2 278.6 L1071.2 295.4 L1072.2 275.6 L1072.4 296.0 L1073.2 283.1 L1074.2 297.9 L1075.2 283.0 L1076.2 299.9 L1077.2 287.4 L1078.2 306.0 L1079.2 292.9 L1079.3 308.5 L1080.2 294.0 L1081.2 306.7 L1082.2 296.5 L1083.2 307.6 L1084.2 296.3 L1085.2 311.3 L1086.2 295.0 L1087.2 312.1 L1088.2 299.0 L1088.5 311.1 L1089.2 298.5 L1090.2 311.8 L1091.2 299.1 L1092.2 313.4 L1093.2 304.9 L1094.2 310.4 L1095.2 306.1 L1096.2 318.0 L1097.2 302.3 L1098.2 312.4 L1099.2 303.2 L1100.1 320.9 L1100.2 306.8 L1101.2 314.7 L1102.2 303.3 L1103.2 315.4 L1104.2 301.1 L1105.2 312.7 L1106.2 300.9 L1107.2 308.2 L1108.2 296.8 L1109.2 317.1 L1109.3 296.8 L1110.2 308.9 L1111.2 300.2 L1112.2 313.2 L1113.2 302.3 L1114.2 323.9 L1115.2 306.4 L1116.2 326.5 L1116.3 309.6 L1117.2 325.2 L1118.2 308.0 L1119.2 318.7 L1120.2 300.0 L1121.2 315.1 L1122.2 300.8 L1123.2 307.1 L1123.2 294.7 L1124.2 312.1 L1125.2 299.2 L1126.2 313.2 L1127.2 295.6 L1128.2 309.8 L1129.2 290.9 L1130.2 303.1 L1131.2 289.1 L1132.2 306.7 L1132.4 293.0 L1133.2 312.1 L1134.2 292.7 L1135.2 309.1 L1136.2 293.2 L1137.2 307.1 L1138.2 293.9 L1139.2 307.4 L1140.2 293.4 L1141.2 309.5 L1141.7 292.6 L1142.2 307.9 L1143.2 290.7 L1144.2 312.3 L1145.2 298.5 L1146.2 307.7 L1147.2 298.0 L1148.2 312.9 L1149.2 294.7 L1150.2 305.3 L1150.9 295.3 L1151.2 309.1 L1152.2 299.6 L1153.2 313.4 L1154.2 288.7 L1155.2 304.2 L1156.2 289.6 L1157.2 304.5 L1157.8 294.8 L1158.2 305.1 L1159.2 288.6 L1160.2 300.2 L1161.2 289.8 L1162.2 306.6 L1163.2 297.0 L1164.2 304.9 L1164.8 293.4 L1165.2 307.2 L1166.2 292.9 L1167.2 307.3 L1168.2 293.6 L1169.2 315.1 L1170.2 297.3 L1171.2 316.4 L1172.2 304.0 L1173.2 322.2 L1174.0 313.3 L1174.2 321.6 L1175.2 306.0 L1176.2 315.0 L1177.2 300.0 L1178.2 316.7 L1179.2 302.0 L1180.2 307.6 L1180.9 296.2 L1181.2 304.5 L1182.2 288.7 L1183.2 309.1 L1184.2 286.9 L1185.2 308.7 L1186.2 290.7 L1187.2 303.6 L1187.8 285.1 L1188.2 304.1 L1189.2 292.7 L1190.2 305.1 L1191.2 293.1 L1192.2 312.0 L1193.2 300.4 L1194.2 318.3 L1194.8 300.7 L1195.2 320.2 L1196.2 300.8 L1197.2 319.9 L1198.2 306.1 L1199.2 325.3 L1200.2 308.6 L1201.2 326.1 L1201.7 312.9 L1202.2 325.9 L1203.2 318.6 L1204.2 334.7 L1205.2 325.5 L1206.2 338.3 L1207.2 326.3 L1208.2 343.9 L1208.6 332.2 L1209.2 350.8 L1210.2 341.8 L1211.2 362.8 L1212.2 347.2 L1213.2 366.4 L1214.2 358.4 L1215.2 371.2 L1216.2 362.7 L1217.2 383.2 L1217.9 372.0" fill="none" stroke="#50B4E1" stroke-width="3.6" stroke-linejoin="round"/>
<path d="M119.4 689.5 L135.5 682.8" fill="none" stroke="#E81C18" stroke-width="3.9" stroke-linejoin="round"/>
<path d="M153.0 687.8 L157.0 691.6 L169.0 691.3" fill="none" stroke="#E81C18" stroke-width="3.9" stroke-linejoin="round"/>
<path d="M184.0 702.3 L189.0 705.3 L202.0 712.3" fill="none" stroke="#E81C18" stroke-width="3.9" stroke-linejoin="round"/>
<path d="M205.0 717.3 L210.0 719.3" fill="none" stroke="#E81C18" stroke-width="3.9" stroke-linejoin="round"/>
<path d="M221.2 722.9 L222.2 724.0 L223.2 722.9 L224.2 724.2 L225.2 722.8 L226.2 724.3 L227.2 723.0 L228.2 724.3 L229.2 722.9 L230.2 724.1 L231.2 722.8 L232.2 724.0 L233.2 723.0 L234.2 724.0 L234.7 723.0 L235.2 724.4 L236.2 722.4 L237.2 723.5 L238.2 721.7 L239.2 722.4 L240.2 720.3 L241.2 721.2 L242.2 719.4 L243.2 720.7 L244.2 718.9 L245.2 720.0 L246.2 718.0 L246.3 719.9 L247.2 718.6 L248.2 720.3 L249.2 719.3 L250.2 721.0 L251.2 720.6 L252.2 723.1 L253.2 720.7 L254.2 723.6 L255.2 722.5 L256.2 724.8 L257.2 724.1 L258.2 725.8 L259.2 725.0 L260.1 727.1 L260.2 725.8 L261.2 726.5 L262.2 724.0 L263.2 724.7 L264.2 722.8 L265.2 723.6 L266.2 721.3 L267.2 722.6 L268.2 719.8 L269.2 721.1 L270.2 717.9 L271.2 719.0 L272.2 716.8 L273.2 717.8 L274.2 716.0 L275.2 716.6 L276.2 714.7 L276.3 716.6 L277.2 714.2 L278.2 716.7 L279.2 715.1 L280.2 716.9 L281.2 715.6 L282.2 717.5 L283.2 716.3 L284.2 717.8 L285.2 716.0 L286.2 717.9 L287.2 716.3 L288.2 718.2 L289.2 716.7 L290.2 718.9 L291.2 717.8 L292.2 719.0 L293.2 717.9 L294.2 719.5 L294.8 718.1 L295.2 719.5 L296.2 718.7 L297.2 720.3 L298.2 719.1 L299.2 720.9 L300.2 719.9 L301.2 721.6 L302.2 720.3 L303.2 722.3 L304.2 720.4 L305.2 722.1 L306.2 721.1 L307.2 723.2 L308.2 721.6 L308.6 722.9 L309.2 721.9 L310.2 724.0 L311.2 722.4 L312.2 724.8 L313.2 723.8 L313.2 724.9 L314.2 723.9 L315.2 726.7 L316.2 725.6 L317.2 728.9 L318.2 727.6 L319.2 730.0 L320.2 728.7 L321.2 731.5 L322.2 730.9 L322.5 732.5 L323.2 731.1 L324.2 732.4 L325.2 730.9 L326.2 731.9 L327.1 730.6 L327.2 732.6 L328.2 732.9 L329.2 735.9 L330.2 735.0 L331.2 738.2 L332.2 738.0 L333.2 741.2 L334.2 740.9 L335.2 743.7 L336.2 743.2 L336.3 745.0 L337.2 743.6 L338.2 745.8 L339.2 743.9 L340.2 746.5 L341.2 745.0 L342.2 747.4 L343.2 745.8 L344.2 747.9 L345.2 746.7 L345.6 748.4 L346.2 746.4 L347.2 748.1 L348.2 746.7 L349.2 748.2 L350.2 746.5 L350.2 748.4 L351.2 747.3 L352.2 750.5 L353.2 748.5 L354.2 751.1 L354.8 749.3 L355.2 751.8 L356.2 750.0 L357.2 751.1 L358.2 749.5 L359.2 751.4 L360.2 749.4 L361.2 750.6 L361.7 749.0 L362.2 752.1 L363.2 751.4 L364.2 754.5 L365.2 755.0 L366.2 758.4 L367.2 757.7 L368.2 761.5 L368.7 760.5 L369.2 762.1 L370.2 758.7 L371.2 760.6 L372.2 757.9 L373.2 759.4 L374.2 756.5 L375.2 757.8 L376.2 754.3 L377.2 756.7 L377.9 753.8 L378.2 756.1 L379.2 753.9 L380.2 756.7 L381.2 754.6 L382.2 757.9 L382.5 756.5 L383.2 756.7 L384.2 752.3 L385.2 752.6 L386.2 749.8 L387.2 749.9 L388.2 746.4 L389.2 746.7 L389.4 743.6 L390.2 745.3 L391.2 743.0 L392.2 744.6 L393.2 742.1 L394.2 744.1 L395.2 741.0 L396.2 743.5 L397.2 740.1 L398.2 742.1 L398.7 739.8 L399.2 742.0 L400.2 740.5 L401.2 743.1 L402.2 741.4 L403.2 744.0 L404.2 742.8 L405.2 746.5 L406.2 744.7 L407.2 747.5 L408.2 746.4 L409.2 749.8 L410.2 746.2 L411.2 749.3 L412.2 748.5 L413.2 751.1 L413.9 749.0 L414.2 751.6 L415.2 748.1 L416.2 749.3 L417.2 747.3 L417.3 749.5 L418.2 750.4 L419.2 756.4 L420.2 759.0 L420.8 763.1 L421.2 760.0 L422.2 762.9 L423.2 761.4 L424.2 765.0 L425.2 762.5 L426.2 764.6 L427.2 763.0 L428.2 765.7 L429.2 762.8 L430.0 766.1 L430.2 762.9 L431.2 765.3 L432.2 761.8 L433.2 762.3 L434.2 758.7 L434.6 760.5 L435.2 757.6 L436.2 760.9 L437.2 758.6 L438.2 760.0 L439.2 757.4 L440.2 759.9 L441.2 756.6 L441.6 758.6 L442.2 757.3 L443.2 760.5 L444.2 759.6 L445.2 763.6 L446.2 762.1 L446.2 764.8 L447.2 761.4 L448.2 763.6 L449.2 761.4 L450.2 765.1 L451.2 762.7 L452.2 765.0 L453.1 761.5 L453.2 766.0 L454.2 765.1 L455.2 768.8 L456.2 768.2 L457.2 771.4 L458.2 770.4 L459.2 774.6 L460.2 774.0 L461.2 778.1 L462.2 776.9 L462.4 779.0 L463.2 777.9 L464.2 780.1 L465.2 778.3 L466.2 780.2 L467.2 778.7 L468.2 781.0 L469.2 778.9 L469.3 781.5 L470.2 779.6 L471.2 780.9 L472.2 779.5 L473.2 781.7 L474.2 779.5 L475.2 781.9 L476.2 779.8 L477.2 782.5 L478.2 780.6 L478.5 783.2 L479.2 781.2 L480.2 784.5 L481.2 782.0 L482.2 785.7 L483.2 784.4 L484.2 788.0 L485.2 785.9 L486.2 789.1 L487.2 787.2 L487.8 789.2 L488.2 786.5 L489.2 788.6 L490.2 785.4 L491.2 786.3 L492.2 783.2 L492.4 785.8 L493.2 782.4 L494.2 783.7 L495.2 779.9 L496.2 781.5 L497.0 777.9 L497.2 779.7 L498.2 777.7 L499.2 780.1 L500.2 777.1 L501.2 779.5 L501.6 776.4 L502.2 779.8 L503.2 778.0 L504.2 782.3 L505.2 781.1 L506.2 784.5 L507.2 784.1 L508.2 787.7 L508.6 785.4 L509.2 789.2 L510.2 787.1 L511.2 789.7 L512.2 787.3 L513.2 789.6 L514.2 787.7 L515.2 789.6 L515.5 788.1 L516.2 790.9 L517.2 789.4 L518.2 792.0 L519.2 790.4 L520.1 793.3 L520.2 790.7 L521.2 794.0 L522.2 792.6 L523.2 795.2 L524.2 795.0 L525.2 798.1 L526.2 796.2 L527.0 799.8 L527.2 798.0 L528.2 800.9 L529.2 799.0 L530.2 802.2 L531.2 799.9 L532.2 803.5 L533.2 800.4 L534.0 803.7 L534.2 801.6 L535.2 803.0 L536.2 801.4 L537.2 803.3 L538.2 802.1 L539.2 804.9 L540.2 802.1 L541.2 806.4 L542.2 802.9 L543.2 805.4 L544.2 804.0 L545.2 807.0 L545.5 804.7 L546.2 807.3 L547.2 804.0 L548.2 806.7 L549.2 803.4 L550.2 805.6 L551.2 803.0 L552.2 804.6 L552.4 802.6 L553.2 805.5 L554.2 802.6 L555.2 805.4 L556.2 803.4 L557.2 805.1 L558.2 802.8 L559.2 806.5 L560.2 803.8 L561.2 806.8 L561.7 804.1 L562.2 805.8 L563.2 802.7 L564.2 805.0 L565.2 802.4 L566.2 803.8 L567.2 800.4 L568.2 802.7 L569.2 799.5 L570.2 802.3 L570.9 799.9 L571.2 802.0 L572.2 799.4 L573.2 800.8 L574.2 798.4 L575.2 801.1 L576.2 797.2 L577.2 801.1 L578.2 798.3 L579.2 800.2 L580.1 796.9 L580.2 800.6 L581.2 798.7 L582.2 801.7 L583.2 801.1 L584.2 805.1 L584.8 803.5 L585.2 805.7 L586.2 803.4 L587.2 806.6 L588.2 804.8 L589.2 807.7 L590.2 805.2 L591.2 808.8 L592.2 805.5 L593.2 807.5 L594.2 806.0 L595.2 808.3 L596.2 805.6 L596.3 808.2 L597.2 805.8 L598.2 808.2 L599.2 805.5 L600.2 809.0 L601.2 806.3 L602.2 808.1 L603.2 805.7 L604.2 808.5 L605.2 806.1 L606.2 808.6 L607.2 806.5 L607.9 809.1 L608.2 806.4 L609.2 811.7 L610.2 810.0 L611.2 813.5 L612.2 812.5 L613.2 816.6 L614.2 814.5 L615.2 818.0 L616.2 817.2 L617.1 820.3 L617.2 818.1 L618.2 819.6 L619.2 815.4 L620.2 817.3 L621.2 813.3 L621.7 814.9 L622.2 811.4 L623.2 815.4 L624.2 812.5 L625.2 816.2 L626.2 813.1 L627.2 815.6 L628.2 813.4 L629.2 815.2 L630.2 813.2 L631.0 816.5 L631.2 813.4 L632.2 815.2 L633.2 813.0 L634.2 816.1 L635.2 812.4 L636.2 815.6 L637.2 811.5 L637.9 813.8 L638.2 811.5 L639.2 814.4 L640.2 812.3 L641.2 817.4 L642.2 813.8 L643.2 816.9 L644.2 813.7 L645.2 817.1 L646.2 815.4 L647.2 818.7 L648.2 815.6 L649.2 819.8 L649.4 816.3 L650.2 820.4 L651.2 817.5 L652.2 821.0 L653.2 818.5 L654.2 820.7 L655.2 819.1 L656.2 823.1 L657.2 819.8 L658.2 823.6 L658.7 820.3 L659.2 822.7 L660.2 821.2 L661.2 824.2 L662.2 821.5 L663.2 824.3 L664.2 821.6 L665.2 824.9 L666.2 822.2 L667.2 824.4 L667.9 822.6 L668.2 824.9 L669.2 823.1 L670.2 825.1 L671.2 823.1 L672.2 825.5 L673.2 823.9 L674.2 825.4 L675.2 822.8 L676.2 826.5 L677.1 822.9 L677.2 825.5 L678.2 823.0 L679.2 826.9 L680.2 823.9 L681.2 826.2 L682.2 824.5 L683.2 826.6 L684.1 824.6 L684.2 827.6 L685.2 824.3 L686.2 828.0 L687.2 825.3 L688.2 829.7 L689.2 826.1 L690.2 829.2 L691.0 827.5 L691.2 829.3 L692.2 828.7 L693.2 831.6 L694.2 830.7 L695.2 832.3 L696.2 829.6 L696.9 833.7 L697.2 830.2 L698.2 835.4 L699.2 832.8 L700.2 836.0 L701.2 834.3 L702.2 836.9 L703.2 835.0 L703.9 839.3 L704.2 837.9 L705.2 840.5 L706.2 839.2 L707.2 842.2 L708.2 839.6 L709.2 842.4 L710.2 840.0 L711.2 844.4 L712.2 842.4 L713.1 846.6 L713.2 843.0 L714.2 845.8 L715.2 843.0 L716.2 845.5 L717.2 841.3 L718.2 844.9 L719.2 841.9 L720.2 845.3 L721.2 842.7 L722.2 845.9 L722.3 843.3 L723.2 845.0 L724.2 842.1 L725.2 844.0 L726.2 839.1 L727.2 844.1 L728.2 839.8 L729.2 841.6 L729.3 838.6 L730.2 841.5 L731.2 838.1 L732.2 840.4 L733.2 836.9 L734.2 839.1 L735.2 836.5 L736.2 838.9 L737.2 835.0 L738.2 838.0 L739.2 833.8 L740.2 836.3 L740.8 833.6 L741.2 836.1 L742.2 833.9 L743.2 836.7 L744.2 833.7 L745.2 837.3 L746.2 834.3 L747.2 839.1 L748.2 835.5 L749.2 838.8 L750.0 835.7 L750.2 839.1 L751.2 836.4 L752.2 840.7 L753.2 837.1 L754.2 840.5 L755.2 836.8 L756.2 840.0 L757.0 837.2 L757.2 840.3 L758.2 840.6 L759.2 846.2 L759.3 843.6 L760.2 848.7 L761.2 845.0 L762.2 847.2 L763.2 844.7 L764.2 847.5 L765.2 844.7 L766.2 847.7 L767.2 844.7 L768.2 847.7 L768.5 844.1 L769.2 849.4 L770.2 846.0 L771.2 850.4 L772.2 847.9 L773.2 851.9 L774.2 849.6 L775.2 852.6 L776.2 848.7 L777.2 852.5 L777.8 850.6 L778.2 854.3 L779.2 851.1 L780.2 854.6 L781.2 851.4 L782.2 855.3 L783.2 852.6 L784.2 857.0 L785.2 852.8 L786.2 856.9 L787.0 853.5 L787.2 856.5 L788.2 853.2 L789.2 856.1 L790.2 852.8 L791.2 857.6 L792.2 854.9 L793.2 858.4 L794.2 854.7 L795.2 858.5 L796.2 855.1 L797.2 859.4 L798.2 856.4 L799.2 859.7 L800.2 856.1 L800.9 858.7 L801.2 855.8 L802.2 860.6 L803.2 856.6 L804.2 861.7 L805.2 859.0 L806.2 862.6 L807.2 859.8 L808.2 864.1 L809.2 861.4 L810.1 864.7 L810.2 861.7 L811.2 865.1 L812.2 861.2 L813.2 866.2 L814.2 860.7 L815.2 863.9 L816.2 861.4 L817.2 865.5 L818.2 862.8 L819.2 865.8 L820.2 863.8 L821.2 866.6 L822.2 863.5 L823.2 867.4 L824.0 862.8 L824.2 866.3 L825.2 862.9 L826.2 866.9 L827.2 863.4 L828.2 867.9 L829.2 865.7 L830.2 868.1 L831.2 865.4 L832.2 869.4 L833.2 866.0 L833.2 869.8 L834.2 866.4 L835.2 871.6 L836.2 867.0 L837.2 871.5 L838.2 869.0 L839.2 872.8 L840.2 870.5 L841.2 873.6 L842.2 870.6 L843.2 875.2 L844.2 871.1 L845.2 872.8 L846.2 872.1 L847.0 875.5 L847.2 870.7 L848.2 875.5 L849.2 869.2 L850.2 873.6 L851.2 868.2 L852.2 872.2 L853.2 867.1 L854.0 871.4 L854.2 867.9 L855.2 872.4 L856.2 871.7 L857.2 877.7 L858.2 874.6 L858.6 879.2 L859.2 876.1 L860.2 879.7 L861.2 875.4 L862.2 879.3 L863.2 876.3 L864.2 880.5 L865.2 876.6 L866.2 880.9 L867.2 876.9 L868.2 879.6 L869.2 876.0 L870.2 880.8 L871.2 876.0 L872.2 880.9 L872.5 877.5 L873.2 882.2 L874.2 878.1 L875.2 882.0 L876.2 878.3 L877.2 883.4 L878.2 879.8 L879.2 883.6 L880.2 882.0 L881.2 886.3 L882.2 882.5 L883.2 887.6 L884.2 884.0 L885.2 888.2 L886.2 884.3 L886.3 888.8 L887.2 884.7 L888.2 889.7 L889.2 883.1 L890.2 891.6 L891.2 886.3 L892.2 889.9 L893.2 886.9 L894.2 890.9 L895.2 886.9 L896.2 890.9 L897.2 888.4 L897.9 892.1 L898.2 888.3 L899.2 893.2 L900.2 886.3 L901.2 890.6 L902.2 886.0 L903.2 890.0 L904.2 886.7 L905.2 889.6 L906.2 886.6 L907.2 891.3 L908.2 887.1 L909.2 889.7 L909.4 886.2 L910.2 890.1 L911.2 885.4 L912.2 892.4 L913.2 888.1 L914.2 893.0 L915.2 889.1 L916.2 893.1 L917.2 888.4 L918.2 893.8 L919.2 889.8 L920.2 894.3 L921.0 887.5 L921.2 893.1 L922.2 888.2 L923.2 894.7 L924.2 889.5 L925.2 895.3 L926.2 889.5 L927.2 894.4 L928.2 890.3 L929.2 895.9 L930.2 890.3 L931.2 896.1 L932.2 891.2 L932.5 894.6 L933.2 891.6 L934.2 895.9 L935.2 892.4 L936.2 896.2 L937.2 890.8 L938.2 896.0 L939.2 892.2 L940.2 897.9 L941.2 891.9 L942.2 897.3 L943.2 891.2 L944.0 895.8 L944.2 891.5 L945.2 896.2 L946.2 893.0 L947.2 899.6 L948.2 894.4 L949.2 901.8 L950.2 896.6 L951.2 902.7 L952.2 898.2 L953.2 903.5 L954.2 899.7 L955.2 904.1 L955.6 899.8 L956.2 902.6 L957.2 899.4 L958.2 903.0 L959.2 899.4 L960.2 902.9 L961.2 899.2 L962.2 903.7 L963.2 901.6 L964.2 904.9 L965.2 900.0 L966.2 905.2 L967.1 900.5 L967.2 906.2 L968.2 901.5 L969.2 906.9 L970.2 901.7 L971.2 906.5 L972.2 903.3 L973.2 906.7 L974.2 902.9 L975.2 908.5 L976.2 905.2 L977.2 908.0 L978.2 905.5 L979.2 912.0 L980.2 905.8 L981.0 909.5 L981.2 906.8 L982.2 910.3 L983.2 906.6 L984.2 912.9 L985.2 909.4 L986.2 914.8 L987.2 910.4 L988.2 915.4 L989.2 912.8 L990.2 917.9 L991.2 912.0 L992.2 916.6 L993.2 909.9 L993.9 913.8 L994.2 907.8 L995.2 914.6 L996.2 908.7 L997.2 915.4 L998.2 910.8 L999.2 917.6 L1000.2 912.8 L1001.2 917.6 L1002.2 915.2 L1003.1 919.0 L1003.2 913.8 L1004.2 920.5 L1005.2 916.9 L1006.2 921.0 L1007.2 913.9 L1008.2 921.3 L1009.2 918.4 L1010.2 921.7 L1011.2 918.0 L1012.2 923.6 L1013.2 917.7 L1014.2 923.6 L1015.2 918.9 L1016.2 925.0 L1017.0 921.0 L1017.2 925.9 L1018.2 921.3 L1019.2 927.5 L1020.2 921.3 L1021.2 928.4 L1022.2 922.0 L1023.2 929.6 L1024.2 923.0 L1025.2 929.5 L1026.2 925.0 L1026.2 929.1 L1027.2 924.7 L1028.2 931.0 L1029.2 924.4 L1030.2 930.3 L1031.2 928.5 L1032.2 932.9 L1033.2 926.9 L1034.2 932.0 L1035.2 928.6 L1036.2 935.4 L1037.2 930.8 L1038.2 936.2 L1039.2 929.8 L1040.0 936.1 L1040.2 929.9 L1041.2 936.1 L1042.2 928.7 L1043.2 937.1 L1044.2 929.8 L1045.2 936.3 L1046.2 932.4 L1047.2 937.0 L1048.2 931.0 L1049.2 938.7 L1050.2 931.7 L1051.2 940.9 L1052.2 935.2 L1053.2 939.0 L1054.2 935.2 L1055.2 944.2 L1056.2 937.3 L1056.2 942.3 L1057.2 937.2 L1058.2 943.3 L1059.2 939.9 L1060.2 945.6 L1061.2 940.3 L1062.2 944.7 L1063.2 939.1 L1064.2 944.2 L1065.2 938.8 L1066.2 943.8 L1067.2 940.9 L1068.2 945.5 L1069.2 940.5 L1070.2 948.3 L1071.2 941.2 L1072.2 947.4 L1072.4 940.0 L1073.2 948.4 L1074.2 941.3 L1075.2 949.6 L1076.2 941.4 L1077.2 948.0 L1078.2 942.2 L1079.2 946.0 L1080.2 941.5 L1081.2 946.6 L1082.2 939.7 L1083.2 946.4 L1084.2 942.3 L1085.2 950.7 L1086.2 943.3 L1087.2 950.2 L1088.2 944.4 L1089.2 950.9 L1090.2 943.9 L1091.2 951.1 L1092.2 943.8 L1093.2 951.2 L1094.2 943.0 L1095.2 949.0 L1095.5 943.6 L1096.2 951.1 L1097.2 942.8 L1098.2 948.7 L1099.2 943.3 L1100.2 947.9 L1101.2 943.7 L1102.2 950.4 L1103.2 944.5 L1104.2 950.2 L1105.2 943.1 L1106.2 952.5 L1107.2 941.2 L1108.2 950.0 L1109.2 943.6 L1110.2 950.1 L1111.2 942.2 L1112.2 950.0 L1113.2 944.1 L1114.2 949.4 L1115.2 944.3 L1116.2 950.1 L1117.2 943.3 L1118.2 949.4 L1118.6 942.1 L1119.2 947.5 L1120.2 940.5 L1121.2 950.1 L1122.2 941.7 L1123.2 949.2 L1124.2 941.8 L1125.2 950.8 L1126.2 942.6 L1127.2 948.2 L1128.2 941.7 L1129.2 951.8 L1130.2 944.5 L1131.2 949.7 L1132.2 944.5 L1133.2 947.5 L1134.2 940.0 L1135.2 948.3 L1136.2 940.1 L1137.2 948.9 L1138.2 940.0 L1139.2 946.2 L1140.2 944.5 L1141.2 951.1 L1141.7 942.7 L1142.2 949.8 L1143.2 944.4 L1144.2 950.7 L1145.2 941.2 L1146.2 949.5 L1147.2 941.1 L1148.2 946.6 L1149.2 942.1 L1150.2 947.2 L1151.2 940.9 L1152.2 945.7 L1153.2 940.3 L1154.2 946.8 L1155.2 938.9 L1156.2 945.8 L1157.2 938.6 L1157.8 945.6 L1158.2 941.3 L1159.2 946.1 L1160.2 940.1 L1161.2 946.0 L1162.2 940.3 L1163.2 947.4 L1164.2 943.5 L1165.2 949.9 L1166.2 942.6 L1167.2 949.7 L1168.2 941.1 L1169.2 949.0 L1170.2 941.8 L1171.2 948.0 L1171.7 941.9 L1172.2 949.4 L1173.2 939.0 L1174.2 948.3 L1175.2 940.8 L1176.2 945.1 L1177.2 939.3 L1178.2 942.5 L1179.2 936.0 L1180.2 942.9 L1180.9 933.8 L1181.2 940.9 L1182.2 935.8 L1183.2 944.5 L1184.2 937.3 L1185.2 943.4 L1186.2 938.8 L1187.2 944.9 L1187.8 937.2 L1188.2 945.0 L1189.2 939.2 L1190.2 948.7 L1191.2 941.4 L1192.2 948.9 L1193.2 942.1 L1194.2 949.4 L1195.2 942.1 L1196.2 949.9 L1197.2 941.4 L1198.2 949.9 L1199.2 943.3 L1200.2 951.0 L1201.2 945.5 L1201.7 952.5 L1202.2 943.9 L1203.2 949.9 L1204.2 943.1 L1205.2 951.0 L1206.2 941.4 L1207.2 950.3 L1208.2 944.9 L1209.2 950.7 L1210.2 942.2 L1211.0 949.9 L1211.2 940.5 L1212.2 948.8 L1213.2 941.8 L1214.2 949.1 L1215.2 944.1 L1216.2 950.7 L1217.2 946.2 L1217.9 951.5" fill="none" stroke="#E81C18" stroke-width="3.9" stroke-linejoin="round"/>
<path d="M119.2 628.6 L120.2 627.5 L121.2 626.8 L122.2 625.7 L123.2 624.9 L124.2 623.8 L125.2 623.2 L126.2 622.0 L127.2 621.3 L128.2 620.2 L129.2 619.4 L130.2 618.4 L131.2 617.8 L132.2 616.6 L133.2 615.9 L134.2 614.8 L135.2 614.0 L136.2 612.9 L137.2 612.2 L138.2 611.1 L139.2 610.4 L140.2 609.2 L141.2 608.6 L142.2 607.3 L143.2 606.8 L144.2 605.5 L145.2 604.9 L146.2 603.7 L147.2 603.1 L148.2 601.9 L149.2 601.3 L150.2 600.1 L151.2 599.5 L152.2 598.3 L153.2 597.7 L154.2 596.5 L155.2 595.8 L156.2 594.7 L157.2 594.0 L158.2 592.8 L158.5 592.9 L159.2 593.4 L160.2 594.5 L161.2 595.2 L162.2 596.6 L163.2 597.3 L164.2 598.5 L165.2 599.2 L166.2 600.5 L167.2 601.3 L168.2 602.5 L169.2 603.3 L170.2 604.5 L171.2 605.3 L172.2 606.5 L173.2 607.2 L174.2 608.6 L175.2 609.2 L175.8 610.0 L176.2 610.7 L177.2 613.1 L178.2 614.8 L179.2 617.3 L180.2 619.1 L181.2 621.4 L182.2 623.2 L183.2 625.6 L184.2 627.3 L185.2 630.0 L186.2 631.5 L187.2 633.9 L188.2 635.6 L189.2 638.2 L189.7 638.7 L190.2 639.7 L191.2 640.5 L192.2 641.9 L193.2 642.7 L194.2 644.1 L195.2 644.8 L196.2 646.2 L197.2 646.8 L198.2 648.6 L199.2 649.2 L200.2 650.7 L201.2 651.4 L202.2 652.9 L202.4 652.6 L203.2 653.8 L204.2 654.3 L205.2 655.8 L206.2 656.5 L207.2 657.9 L208.2 658.6 L209.2 659.8 L210.2 660.6 L211.2 661.8 L212.2 662.6 L213.2 664.0 L214.2 664.5 L215.2 665.8 L216.2 666.4 L217.2 667.4 L218.2 667.7 L219.2 668.6 L220.2 668.8 L221.2 669.7 L222.2 670.0 L223.2 671.0 L224.2 671.2 L225.2 672.4 L226.2 672.5 L227.2 673.4 L227.8 673.3 L228.2 673.8 L229.2 673.5 L230.2 674.3 L231.2 674.1 L232.2 674.8 L233.2 674.7 L234.2 675.3 L235.2 675.1 L236.2 675.9 L237.0 675.5 L237.2 676.1 L238.2 675.3 L239.2 675.3 L240.2 674.3 L241.2 674.4 L242.2 673.6 L243.2 673.8 L244.2 672.9 L245.2 673.0 L246.2 672.1 L246.3 672.7 L247.2 672.8 L248.2 673.6 L249.2 673.8 L250.2 674.8 L251.2 674.8 L252.2 675.7 L253.2 675.7 L254.2 676.5 L255.2 676.6 L256.2 677.6 L257.2 677.6 L258.2 678.6 L259.2 678.5 L260.1 679.7 L260.2 679.3 L261.2 680.1 L262.2 679.9 L263.2 680.6 L264.2 680.7 L265.2 681.3 L266.2 681.2 L267.2 682.0 L268.2 681.8 L269.2 682.5 L270.2 682.5 L271.2 683.3 L272.2 683.1 L273.2 684.0 L274.0 683.7 L274.2 684.0 L275.2 683.1 L276.2 683.2 L277.2 682.1 L278.2 682.1 L279.2 681.1 L280.2 681.1 L280.9 680.3 L281.2 680.4 L282.2 678.5 L283.2 677.8 L284.2 676.1 L285.2 675.4 L285.5 674.6 L286.2 675.6 L287.2 675.8 L288.2 677.3 L289.2 677.2 L290.2 678.6 L291.2 678.9 L291.3 679.6 L292.2 669.6 L293.2 660.4 L294.2 650.2 L295.2 641.0 L295.9 633.9 L296.2 637.3 L297.2 645.3 L298.2 654.3 L299.2 662.0 L300.2 670.8 L301.2 678.7 L301.7 683.2 L302.2 683.6 L303.2 686.3 L304.2 688.1 L305.2 690.9 L306.2 692.5 L307.2 695.2 L308.2 696.7 L308.6 698.0 L309.2 697.8 L310.2 699.2 L311.2 699.5 L312.2 700.8 L313.2 700.9 L314.2 702.3 L315.2 702.6 L316.2 703.9 L317.2 703.9 L317.9 705.0 L318.2 704.2 L319.2 704.8 L320.2 703.6 L321.2 704.1 L322.2 703.1 L323.2 703.5 L324.2 702.4 L324.8 702.8 L325.2 702.4 L326.2 704.6 L327.2 705.6 L328.2 707.7 L329.2 707.9 L330.2 710.5 L331.2 711.2 L332.2 713.1 L333.2 713.7 L334.0 715.2 L334.2 714.5 L335.2 715.4 L336.2 714.9 L337.2 716.1 L338.2 715.5 L339.2 716.7 L340.2 715.9 L340.9 716.8 L341.2 715.2 L342.2 714.0 L343.2 711.2 L344.2 709.7 L345.2 706.9 L346.2 705.1 L347.2 702.2 L347.9 701.8 L348.2 702.0 L349.2 705.4 L350.2 707.3 L351.2 710.7 L352.2 712.4 L353.2 715.9 L354.2 717.8 L354.8 720.2 L355.2 719.6 L356.2 720.7 L357.2 720.4 L358.2 722.1 L359.2 721.5 L360.2 723.1 L361.2 722.6 L362.2 724.0 L363.2 723.2 L364.0 724.6 L364.2 722.8 L365.2 719.3 L366.2 714.0 L367.2 710.3 L368.2 705.0 L368.7 704.0 L369.2 704.5 L370.2 708.3 L371.2 710.4 L372.2 714.6 L373.2 715.9 L374.2 719.8 L375.2 721.7 L375.6 723.6 L376.2 722.2 L377.2 721.6 L378.2 719.6 L379.2 719.4 L380.2 717.2 L380.2 717.6 L381.2 704.5 L382.2 693.0 L383.2 679.8 L383.7 675.4 L384.2 677.4 L385.2 683.6 L386.2 688.5 L387.1 695.0 L387.2 693.6 L388.2 694.0 L389.2 692.5 L390.2 692.6 L391.2 691.0 L391.8 691.6 L392.2 692.6 L393.2 697.7 L394.2 701.1 L395.2 706.2 L395.2 705.3 L396.2 702.3 L397.2 697.8 L398.2 695.6 L399.2 690.9 L399.8 690.0 L400.2 692.1 L401.2 700.6 L402.2 707.0 L403.2 715.5 L403.3 714.9 L404.2 714.3 L404.6 712.4 L405.2 713.9 L406.2 713.9 L407.2 715.9 L408.2 715.6 L409.2 717.7 L410.2 718.3 L411.2 721.4 L412.2 722.0 L413.2 724.8 L414.2 725.3 L415.2 728.4 L416.2 728.3 L416.2 729.5 L417.2 724.0 L418.2 721.6 L419.2 715.2 L420.2 712.3 L421.2 707.1 L421.9 705.0 L422.2 704.6 L423.2 707.4 L424.2 708.3 L425.2 711.0 L426.2 711.4 L427.2 714.8 L428.2 714.8 L429.2 717.3 L430.0 718.0 L430.2 716.6 L431.2 700.8 L432.2 687.6 L433.2 671.8 L434.2 658.1 L434.6 651.0 L435.2 658.2 L436.2 666.2 L437.2 676.7 L438.2 684.8 L439.2 695.7 L440.2 704.6 L441.2 715.4 L441.6 717.3 L442.2 717.5 L443.2 715.0 L444.2 715.7 L445.2 712.9 L446.2 714.0 L446.2 712.6 L447.2 718.6 L448.2 723.1 L449.2 729.1 L450.2 733.0 L450.8 738.0 L451.2 736.2 L452.2 738.4 L453.2 736.4 L454.2 738.6 L455.2 737.1 L456.2 738.9 L457.2 738.0 L457.7 739.5 L458.2 738.6 L459.2 741.5 L460.2 741.7 L461.2 744.4 L462.2 744.3 L462.4 746.2 L463.2 741.0 L464.2 737.0 L465.2 731.4 L466.2 728.2 L467.0 723.4 L467.2 725.6 L468.2 727.2 L469.2 732.2 L470.2 733.4 L471.2 738.1 L472.2 739.7 L473.2 744.1 L473.9 744.3 L474.2 743.5 L475.2 735.7 L476.2 730.1 L477.2 722.2 L478.2 716.7 L478.5 712.8 L479.2 716.7 L480.2 718.2 L481.2 723.8 L482.2 726.3 L483.2 731.2 L484.2 733.0 L485.2 738.3 L485.4 737.5 L486.2 742.1 L487.2 745.0 L488.2 750.2 L489.2 753.0 L490.1 757.3 L490.2 755.8 L491.2 755.6 L492.2 751.1 L493.2 750.4 L494.2 746.6 L495.2 745.5 L496.2 741.9 L497.0 741.6 L497.2 740.0 L498.2 744.7 L499.2 745.1 L500.2 748.9 L501.2 749.7 L502.2 754.0 L503.2 754.6 L503.9 756.9 L504.2 754.6 L505.2 753.8 L506.2 748.5 L507.2 746.2 L508.2 742.0 L509.2 740.3 L509.7 737.6 L510.2 739.0 L511.2 739.0 L512.2 740.8 L513.2 740.0 L514.2 743.1 L515.2 741.4 L515.5 744.1 L516.2 744.1 L517.2 748.1 L518.2 747.6 L518.9 750.1 L519.2 746.3 L520.2 741.4 L521.2 732.6 L522.2 727.3 L522.4 725.0 L523.2 726.6 L524.2 726.3 L525.2 728.5 L526.2 728.3 L527.2 730.0 L528.2 729.4 L529.2 732.0 L529.3 730.4 L530.2 739.1 L531.2 745.3 L532.2 754.2 L533.2 760.5 L534.0 767.1 L534.2 765.0 L535.2 764.6 L536.2 762.5 L537.2 762.7 L538.2 760.1 L539.2 760.3 L540.2 757.2 L541.2 757.6 L542.2 755.1 L543.2 755.3 L543.2 754.1 L544.2 757.0 L545.2 757.2 L546.2 760.7 L547.2 760.7 L548.2 764.1 L549.2 764.1 L550.2 767.3 L551.2 767.4 L552.2 770.5 L552.4 769.7 L553.2 771.0 L554.2 769.4 L555.2 771.0 L556.2 768.9 L557.2 770.0 L558.2 768.4 L559.2 769.3 L560.2 767.2 L561.2 769.1 L561.7 767.3 L562.2 768.9 L563.2 766.7 L564.2 768.5 L565.2 766.0 L566.2 767.4 L567.2 765.8 L568.2 767.0 L569.2 765.6 L570.2 766.6 L570.9 764.9 L571.2 766.9 L572.2 764.2 L573.2 766.3 L574.2 764.9 L575.2 767.3 L576.2 764.9 L577.2 766.6 L578.2 765.2 L579.2 766.6 L580.2 764.8 L581.2 767.0 L582.2 764.9 L582.5 766.4 L583.2 765.0 L584.2 767.0 L585.2 766.3 L586.2 767.8 L587.2 766.6 L588.2 768.4 L589.2 766.5 L590.2 768.7 L591.2 767.3 L592.2 768.4 L593.2 767.3 L594.0 768.6 L594.2 767.3 L595.2 767.8 L596.2 766.2 L597.2 767.0 L598.2 765.1 L599.2 766.4 L600.2 764.2 L600.9 765.4 L601.2 764.4 L602.2 766.5 L603.2 766.3 L604.2 768.5 L605.2 767.8 L606.2 769.8 L607.2 769.4 L607.9 771.7 L608.2 769.1 L609.2 771.1 L610.2 769.4 L611.2 771.3 L612.2 769.8 L613.2 772.1 L614.2 770.4 L615.2 772.4 L616.2 769.9 L617.2 771.5 L618.2 770.3 L619.2 772.6 L619.4 770.9 L620.2 772.1 L621.2 770.2 L622.2 771.1 L623.2 769.0 L624.2 770.5 L625.2 768.5 L626.2 770.2 L627.2 767.6 L628.2 769.0 L628.6 767.3 L629.2 769.5 L630.2 768.6 L631.2 770.4 L632.2 768.8 L633.2 771.9 L634.2 769.7 L635.2 772.3 L636.2 770.9 L637.2 772.8 L638.2 771.6 L639.2 773.6 L640.2 772.0 L640.2 774.1 L641.2 768.8 L642.2 767.8 L643.2 763.2 L644.2 762.7 L644.8 758.2 L645.2 761.1 L646.2 761.7 L647.2 766.7 L648.2 766.3 L649.2 770.6 L649.4 769.1 L650.2 769.1 L651.2 764.9 L652.2 764.1 L653.2 760.6 L654.2 759.4 L655.2 755.8 L656.2 754.9 L656.4 753.0 L657.2 755.5 L658.2 755.4 L659.2 759.2 L660.2 758.6 L661.2 762.0 L662.2 762.3 L663.2 765.9 L664.2 765.9 L665.2 768.5 L665.6 767.3 L666.2 769.1 L667.2 766.9 L668.2 767.6 L669.2 765.2 L670.2 766.3 L671.2 764.3 L672.2 765.0 L672.5 763.1 L673.2 764.0 L674.2 760.3 L675.2 760.4 L676.2 757.4 L677.2 758.0 L678.2 754.6 L678.3 756.1 L679.2 757.5 L680.2 763.6 L681.2 765.2 L682.2 770.1 L683.2 772.4 L684.2 776.7 L685.2 778.1 L686.2 783.2 L686.4 782.0 L687.2 785.1 L688.2 782.9 L689.2 785.8 L690.2 784.2 L691.2 787.2 L692.2 785.2 L693.2 787.2 L693.3 786.1 L694.2 786.6 L695.2 784.1 L696.2 785.9 L697.2 783.0 L698.2 784.4 L699.2 781.3 L700.2 783.1 L701.2 779.9 L702.2 781.8 L703.2 778.9 L704.2 780.2 L705.2 777.8 L706.2 779.2 L707.2 777.8 L707.3 779.0 L708.2 778.8 L709.2 782.4 L710.2 781.9 L711.2 785.0 L712.2 785.1 L713.1 788.3 L713.2 786.9 L714.2 790.0 L715.2 790.1 L716.2 793.3 L717.2 793.4 L718.2 796.9 L719.2 796.7 L720.0 800.1 L720.2 798.0 L721.2 800.6 L722.2 799.3 L723.2 801.6 L724.2 799.7 L725.2 802.5 L726.2 800.9 L727.0 802.8 L727.2 801.6 L728.2 803.3 L729.2 800.4 L730.2 802.9 L731.2 801.6 L732.2 803.0 L733.2 801.4 L734.2 803.4 L735.2 800.9 L736.2 801.3 L737.2 799.5 L737.3 801.4 L738.2 798.0 L739.2 797.7 L740.2 791.2 L741.2 791.9 L742.2 787.3 L743.2 786.3 L744.2 781.8 L745.2 781.8 L745.4 778.8 L746.2 783.0 L747.2 782.4 L748.2 787.0 L749.2 786.6 L750.2 791.1 L751.2 791.5 L752.2 795.6 L753.2 795.5 L754.2 799.7 L754.7 798.4 L755.2 800.3 L756.2 798.0 L757.2 800.3 L758.2 797.7 L759.2 800.0 L760.2 797.7 L761.2 799.6 L761.6 797.8 L762.2 800.4 L763.2 799.1 L764.2 802.0 L765.2 799.6 L766.2 803.2 L767.2 801.0 L768.2 803.4 L768.5 801.5 L769.2 804.0 L770.2 802.3 L771.2 804.2 L772.2 801.7 L773.2 803.3 L774.2 801.2 L775.2 803.2 L776.2 800.6 L777.2 801.8 L777.8 799.9 L778.2 802.8 L779.2 801.2 L780.2 804.7 L781.2 803.5 L782.2 806.7 L783.2 805.8 L784.2 809.3 L784.7 806.9 L785.2 809.3 L786.2 806.9 L787.2 808.3 L788.2 805.0 L789.2 808.1 L790.2 804.5 L791.2 805.8 L792.2 804.1 L793.2 805.8 L793.9 803.4 L794.2 806.5 L795.2 805.1 L796.2 808.5 L797.2 808.1 L798.2 812.2 L799.2 809.9 L800.2 813.3 L800.9 812.3 L801.2 814.2 L802.2 812.9 L803.2 815.7 L804.2 814.8 L805.2 818.7 L806.2 817.5 L807.2 820.8 L808.2 818.5 L809.2 822.0 L810.1 821.0 L810.2 823.0 L811.2 817.7 L812.2 819.5 L813.2 815.7 L814.2 816.0 L815.2 812.9 L816.2 813.4 L817.0 809.9 L817.2 812.6 L818.2 811.7 L819.2 815.7 L820.2 816.3 L821.2 820.7 L822.2 819.9 L823.2 824.6 L824.0 822.3 L824.2 825.2 L825.2 824.4 L826.2 827.0 L827.2 826.1 L828.2 829.4 L828.6 827.9 L829.2 830.0 L830.2 828.4 L831.2 830.9 L832.2 828.3 L833.2 831.6 L834.2 828.9 L835.2 831.9 L836.2 830.0 L837.2 832.2 L837.8 829.2 L838.2 832.0 L839.2 830.3 L840.2 833.4 L841.2 831.7 L842.2 833.9 L843.2 832.7 L844.2 835.5 L845.2 833.0 L846.2 836.4 L847.0 834.0 L847.2 836.7 L848.2 834.8 L849.2 837.6 L850.2 835.7 L851.2 837.5 L852.2 835.4 L853.2 837.3 L854.0 835.4 L854.2 837.7 L855.2 837.0 L856.2 840.3 L857.2 838.2 L858.2 842.0 L859.2 840.2 L860.2 844.3 L861.2 843.6 L862.2 846.5 L863.2 845.7 L863.2 848.3 L864.2 846.0 L865.2 849.6 L866.2 848.1 L867.2 850.8 L868.2 848.5 L869.2 851.9 L870.2 849.9 L871.2 852.6 L872.2 851.2 L872.5 853.7 L873.2 850.9 L874.2 853.3 L875.2 850.6 L876.2 851.7 L877.2 849.2 L878.2 851.2 L879.2 848.8 L879.4 851.9 L880.2 849.8 L881.2 854.1 L882.2 852.8 L883.2 857.1 L884.2 855.7 L885.2 858.9 L886.2 857.8 L886.3 859.7 L887.2 858.6 L888.2 861.8 L889.2 858.8 L890.2 861.7 L891.2 859.5 L892.2 862.5 L893.2 860.5 L894.2 863.2 L895.2 861.0 L896.2 863.6 L897.2 860.6 L897.9 863.7 L898.2 860.2 L899.2 863.9 L900.2 861.6 L901.2 864.6 L902.2 861.9 L903.2 866.0 L904.2 863.9 L905.2 865.6 L906.2 864.7 L907.2 867.2 L908.2 864.4 L909.2 867.1 L909.4 865.2 L910.2 867.7 L911.2 865.3 L912.2 868.5 L913.2 865.5 L914.2 868.1 L915.2 866.9 L916.2 869.1 L917.2 867.3 L918.2 871.0 L919.2 868.1 L920.2 870.8 L921.0 868.8 L921.2 871.0 L922.2 869.3 L923.2 871.9 L924.2 870.2 L925.2 873.6 L926.2 871.1 L927.2 874.4 L928.2 872.3 L929.2 876.1 L930.2 873.8 L930.2 876.7 L931.2 874.5 L932.2 878.4 L933.2 875.6 L934.2 878.9 L935.2 877.1 L936.2 881.6 L937.2 879.2 L938.2 882.8 L939.2 879.7 L939.4 882.5 L940.2 879.4 L941.2 881.2 L942.2 878.4 L943.2 879.9 L944.2 876.9 L945.2 879.1 L946.2 874.9 L947.2 876.8 L948.2 872.9 L948.7 877.4 L949.2 874.4 L950.2 875.8 L951.2 872.2 L952.2 875.5 L953.2 873.0 L954.2 875.3 L955.2 871.4 L956.2 874.3 L957.2 871.9 L957.9 873.8 L958.2 870.7 L959.2 876.2 L960.2 874.9 L961.2 879.7 L962.2 877.4 L963.2 883.6 L964.2 880.5 L965.2 885.5 L966.2 884.3 L967.1 888.7 L967.2 885.3 L968.2 889.4 L969.2 886.7 L970.2 890.8 L971.2 889.0 L972.2 891.3 L973.2 890.1 L974.2 893.5 L975.2 891.1 L976.2 895.0 L976.4 892.4 L977.2 894.4 L978.2 891.6 L979.2 894.0 L980.0 890.5 L980.2 893.3 L981.2 887.9 L982.2 887.3 L983.2 882.5 L983.9 883.0 L984.2 881.1 L985.2 886.2 L986.2 885.4 L987.2 891.7 L987.7 889.5 L988.2 893.2 L989.2 890.6 L990.2 893.6 L991.2 892.2 L992.2 895.4 L993.2 893.2 L994.2 897.5 L995.2 895.2 L996.2 898.8 L997.2 896.6 L998.2 900.2 L999.2 898.2 L999.2 901.3 L1000.2 898.8 L1001.2 902.1 L1002.2 899.9 L1003.2 902.5 L1004.2 899.9 L1005.2 903.6 L1006.2 900.2 L1007.2 904.9 L1008.2 901.7 L1009.2 905.4 L1010.2 903.9 L1011.2 906.0 L1012.2 903.5 L1013.2 906.7 L1014.2 905.8 L1015.2 907.8 L1016.2 905.6 L1017.2 909.3 L1018.2 908.1 L1018.5 910.6 L1019.2 906.3 L1020.2 911.6 L1021.2 908.0 L1022.2 911.8 L1023.2 907.1 L1024.2 911.7 L1025.2 910.7 L1026.2 913.2 L1027.2 909.9 L1028.2 914.1 L1029.2 910.6 L1030.2 915.3 L1031.2 912.5 L1032.2 915.1 L1033.2 913.5 L1034.2 916.0 L1035.2 913.8 L1036.2 918.3 L1037.2 915.3 L1037.7 918.1 L1038.2 915.1 L1039.2 920.1 L1040.2 916.9 L1041.2 921.9 L1042.2 915.8 L1043.2 920.4 L1044.2 917.9 L1045.2 921.3 L1046.2 918.7 L1047.2 920.7 L1048.2 917.9 L1049.2 921.1 L1050.2 919.0 L1051.2 924.4 L1052.2 920.7 L1053.2 924.1 L1054.2 921.6 L1055.2 925.5 L1056.2 921.4 L1057.0 925.1 L1057.2 920.9 L1058.2 924.6 L1059.2 921.9 L1060.2 925.4 L1061.2 922.2 L1062.2 925.7 L1063.2 921.3 L1064.2 926.1 L1065.2 923.9 L1066.2 927.0 L1067.2 924.6 L1068.2 927.3 L1069.2 925.1 L1070.2 926.9 L1071.2 924.4 L1072.2 929.0 L1072.4 923.4 L1073.2 928.6 L1074.2 925.3 L1075.2 930.4 L1076.2 927.2 L1077.2 930.8 L1078.2 927.9 L1079.2 931.8 L1080.2 927.3 L1081.2 931.3 L1082.2 928.8 L1083.2 932.8 L1084.2 927.6 L1085.2 931.9 L1085.8 928.8 L1086.2 931.1 L1087.2 929.0 L1088.2 933.3 L1089.2 929.6 L1090.2 932.3 L1091.2 927.4 L1092.2 933.7 L1093.2 931.6 L1094.2 934.6 L1095.2 932.1 L1096.2 934.9 L1097.2 932.6 L1098.2 936.0 L1099.2 930.5 L1100.2 933.6 L1101.2 932.9 L1102.2 935.8 L1103.2 932.7 L1103.2 936.5 L1104.2 931.8 L1105.2 935.6 L1106.2 931.6 L1107.2 934.9 L1108.2 930.8 L1109.2 937.2 L1110.2 932.8 L1111.2 936.5 L1112.2 933.1 L1113.2 935.6 L1114.2 933.7 L1114.7 935.6 L1115.2 932.8 L1116.2 934.8 L1117.2 931.5 L1118.2 936.2 L1119.2 932.4 L1120.2 935.7 L1121.2 933.6 L1122.2 937.3 L1123.2 933.2 L1124.2 936.8 L1125.2 932.7 L1126.2 937.8 L1127.2 934.8 L1128.2 937.9 L1129.2 934.8 L1130.2 937.9 L1131.2 935.3 L1132.2 937.6 L1133.2 934.3 L1134.0 937.4 L1134.2 935.0 L1135.2 938.9 L1136.2 933.9 L1137.2 936.9 L1138.2 934.0 L1139.2 936.1 L1140.2 932.3 L1141.2 936.4 L1142.2 934.3 L1143.2 937.2 L1144.2 934.6 L1145.2 936.9 L1146.2 934.0 L1147.2 937.6 L1148.2 933.1 L1149.2 937.6 L1150.2 935.2 L1151.2 937.6 L1152.2 934.4 L1153.2 936.4 L1153.2 933.2 L1154.2 935.9 L1155.2 932.1 L1156.2 938.3 L1157.2 934.5 L1158.2 937.1 L1159.2 934.2 L1160.2 937.1 L1161.2 934.8 L1162.2 936.2 L1163.2 932.5 L1164.2 936.7 L1165.2 933.4 L1166.2 936.3 L1167.2 933.4 L1168.2 935.8 L1169.2 933.0 L1170.2 935.6 L1171.2 932.9 L1172.2 936.7 L1172.5 934.0 L1173.2 936.7 L1174.2 933.5 L1175.2 937.0 L1176.2 933.0 L1177.2 937.4 L1178.2 932.7 L1179.2 936.7 L1180.2 931.2 L1181.2 935.1 L1182.2 932.0 L1183.2 934.4 L1184.2 931.5 L1185.2 934.1 L1186.2 930.8 L1187.2 935.3 L1188.2 932.3 L1189.2 934.5 L1190.2 931.6 L1191.2 937.0 L1191.7 931.3 L1192.2 934.2 L1193.2 930.9 L1194.2 934.2 L1195.2 931.4 L1196.2 936.2 L1197.2 932.1 L1198.2 938.2 L1199.2 932.5 L1200.2 935.1 L1201.2 933.2 L1202.2 936.7 L1203.2 933.2 L1204.2 935.5 L1205.2 932.9 L1206.2 936.4 L1207.2 933.7 L1208.2 936.5 L1209.2 933.2 L1210.2 936.6 L1211.2 933.3 L1212.2 936.2 L1213.2 933.7 L1214.2 936.5 L1215.2 931.3 L1216.2 935.7 L1217.2 932.3 L1218.2 935.5 L1219.2 933.4 L1219.6 937.1" fill="none" stroke="#D0521D" stroke-width="3.6" stroke-linejoin="round"/>
<path d="M119.2 612.9 L120.2 611.8 L121.2 612.4 L122.2 611.0 L123.2 612.1 L124.2 611.0 L125.2 611.6 L126.2 610.7 L127.2 611.2 L128.2 610.3 L129.2 611.0 L130.2 609.4 L131.2 610.3 L131.9 609.2 L132.2 610.3 L133.2 609.7 L134.2 610.9 L135.2 610.1 L136.2 611.2 L137.2 610.4 L138.2 611.8 L139.2 610.9 L140.2 612.2 L141.2 611.5 L142.2 612.9 L142.3 611.5 L143.2 613.7 L144.2 613.5 L145.2 615.6 L146.2 615.6 L147.2 617.4 L148.2 616.8 L149.2 619.2 L150.2 619.5 L151.2 621.5 L152.2 621.1 L153.2 623.2 L154.2 623.2 L155.2 624.7 L156.2 624.1 L157.2 626.5 L158.2 626.4 L158.5 627.4 L159.2 626.8 L160.2 628.2 L161.2 627.2 L162.2 628.8 L163.2 627.4 L164.2 628.9 L165.2 627.9 L166.2 629.4 L167.2 628.6 L168.2 629.8 L169.2 629.0 L170.2 630.8 L171.2 629.2 L172.2 630.4 L173.2 630.0 L174.2 631.3 L174.7 630.4 L175.2 631.1 L176.2 629.7 L177.2 629.9 L178.2 628.6 L179.2 629.9 L180.2 628.3 L181.2 628.9 L182.2 627.4 L183.2 628.1 L184.2 626.7 L185.2 627.4 L186.2 626.1 L187.2 626.6 L188.2 625.1 L188.5 626.2 L189.2 624.5 L190.2 625.8 L191.2 624.4 L192.2 625.5 L193.2 624.4 L194.2 625.3 L195.2 624.0 L196.2 625.5 L197.2 624.1 L198.2 625.4 L199.2 624.1 L200.1 625.4 L200.2 624.3 L201.2 626.0 L202.2 626.1 L203.2 627.7 L204.2 627.5 L205.2 629.9 L206.2 629.3 L207.2 631.2 L208.2 631.1 L209.2 632.9 L210.2 632.7 L211.2 634.6 L211.6 634.0 L212.2 635.0 L213.2 634.6 L214.2 635.9 L215.2 634.9 L216.2 636.5 L217.2 635.9 L218.2 637.6 L219.2 636.9 L220.2 638.3 L220.8 637.3 L221.2 638.5 L222.2 638.0 L223.2 640.0 L224.2 639.3 L225.2 641.3 L226.2 640.7 L227.2 642.5 L228.2 641.6 L229.2 643.5 L230.1 642.7 L230.2 644.0 L231.2 644.2 L232.2 646.5 L233.2 646.9 L234.2 649.7 L234.7 648.9 L235.2 649.1 L236.2 646.6 L237.2 645.9 L238.2 642.7 L239.2 642.7 L240.2 639.6 L241.2 639.3 L242.2 636.7 L243.2 636.1 L243.9 633.5 L244.2 635.3 L245.2 635.8 L246.2 639.3 L247.2 639.8 L248.2 643.7 L248.6 642.7 L249.2 643.2 L250.2 640.1 L251.2 640.1 L252.2 637.2 L253.2 637.0 L253.2 635.7 L254.2 638.2 L255.2 638.4 L256.2 640.8 L257.2 640.5 L258.2 643.2 L259.2 642.6 L260.2 645.0 L261.2 645.2 L262.2 648.0 L262.4 646.4 L263.2 648.2 L264.2 647.4 L265.2 648.9 L266.2 648.2 L267.2 649.9 L268.2 649.3 L269.2 651.3 L269.4 650.1 L270.2 650.6 L271.2 648.2 L272.2 648.9 L273.2 647.0 L274.0 647.4 L274.2 646.6 L275.2 649.1 L276.2 649.7 L277.2 652.0 L278.2 651.7 L279.2 654.5 L280.2 655.0 L281.2 657.3 L282.2 658.0 L283.2 660.6 L283.2 659.0 L284.2 661.0 L285.2 659.3 L286.2 661.0 L287.2 659.9 L288.2 661.4 L289.2 660.4 L290.2 662.1 L291.2 661.3 L292.2 662.4 L292.4 661.7 L293.2 656.6 L294.2 647.9 L295.2 641.1 L295.9 635.2 L296.2 637.4 L297.2 639.9 L298.2 644.6 L299.2 647.0 L300.2 651.8 L301.2 654.2 L302.2 658.5 L303.2 660.9 L304.0 664.9 L304.2 663.6 L305.2 665.5 L306.2 663.9 L307.2 665.5 L308.2 664.3 L309.2 666.3 L310.2 664.5 L311.2 666.6 L312.2 665.7 L313.2 667.4 L313.2 665.7 L314.2 668.5 L315.2 668.1 L316.2 670.7 L317.2 669.8 L318.2 673.0 L319.2 672.7 L320.2 675.1 L321.2 674.8 L322.2 677.6 L323.2 677.0 L324.2 679.9 L324.8 678.9 L325.2 679.7 L326.2 678.3 L327.2 679.0 L328.2 677.0 L329.2 677.8 L330.2 675.9 L331.2 676.6 L331.7 674.4 L332.2 677.6 L333.2 678.7 L334.2 682.2 L335.2 683.0 L335.2 684.4 L336.2 682.2 L337.2 682.9 L338.2 680.5 L339.2 680.5 L340.2 678.0 L340.9 679.4 L341.2 676.7 L342.2 677.7 L343.2 675.8 L344.2 677.0 L344.4 675.2 L345.2 678.5 L346.2 678.6 L347.2 682.1 L348.2 682.8 L349.2 686.3 L350.2 687.0 L350.2 688.1 L351.2 687.5 L352.2 689.9 L353.2 689.7 L354.2 692.0 L355.2 691.2 L356.2 694.0 L357.2 693.0 L358.2 695.8 L359.2 694.8 L360.2 697.2 L361.2 696.4 L361.7 698.5 L362.2 697.4 L363.2 699.1 L364.2 698.7 L365.2 700.2 L366.2 699.5 L367.2 702.3 L368.2 701.2 L369.2 703.6 L370.2 702.4 L371.2 704.7 L372.2 703.9 L373.2 706.4 L374.2 705.2 L375.2 707.7 L375.6 706.3 L376.2 707.1 L377.2 705.0 L378.2 705.6 L379.2 703.0 L380.2 703.7 L381.2 701.8 L382.2 702.2 L382.5 700.3 L383.2 701.3 L384.2 699.5 L385.2 700.3 L386.2 698.2 L387.2 699.3 L388.2 697.1 L389.2 697.3 L390.2 695.5 L390.6 697.4 L391.2 696.0 L392.2 699.2 L393.2 699.9 L394.2 703.1 L395.2 703.2 L396.2 706.0 L396.4 705.2 L397.2 707.2 L398.2 704.1 L399.2 705.6 L400.2 704.3 L401.2 705.4 L402.2 703.7 L403.2 705.5 L403.3 704.2 L404.2 707.6 L404.6 707.0 L405.2 709.5 L406.2 708.3 L407.2 710.9 L408.2 710.4 L409.2 712.5 L410.2 711.3 L411.2 713.4 L412.2 712.0 L413.2 714.6 L414.2 712.7 L415.2 715.0 L416.2 714.1 L417.2 715.9 L418.2 714.6 L418.5 715.4 L419.2 714.5 L420.2 717.0 L421.2 715.4 L422.2 718.0 L423.2 716.3 L424.2 718.1 L425.2 717.4 L426.2 718.7 L427.2 717.4 L427.7 718.9 L428.2 713.5 L429.2 706.0 L430.2 696.5 L431.2 689.8 L432.2 678.7 L433.2 673.2 L434.2 662.8 L434.6 661.3 L435.2 665.7 L436.2 676.4 L437.2 684.3 L438.2 696.6 L439.2 704.6 L440.2 716.8 L440.4 716.8 L441.2 715.2 L442.2 709.3 L443.2 706.7 L444.2 700.9 L445.0 699.2 L445.2 698.3 L446.2 704.7 L447.2 706.4 L448.2 712.3 L449.2 714.1 L449.6 717.6 L450.2 713.5 L451.2 712.0 L452.2 705.1 L453.2 703.7 L454.2 697.8 L454.3 698.9 L455.2 702.3 L456.2 709.6 L457.2 713.6 L458.2 720.9 L459.2 724.5 L460.1 730.8 L460.2 729.2 L461.2 730.2 L462.2 727.8 L463.2 729.5 L464.2 727.9 L465.2 729.4 L466.2 727.4 L467.2 728.5 L468.2 726.9 L469.2 727.9 L469.3 725.8 L470.2 724.0 L471.2 717.1 L471.6 718.0 L472.2 717.7 L473.2 721.7 L474.2 721.6 L475.2 725.9 L476.2 726.0 L476.2 727.5 L477.2 722.0 L478.2 720.9 L479.2 715.2 L479.7 716.3 L480.2 716.1 L481.2 720.4 L482.2 721.5 L483.2 725.8 L484.2 727.7 L485.2 732.5 L486.2 733.6 L487.2 737.3 L487.8 737.4 L488.2 739.6 L489.2 738.3 L490.2 741.1 L491.2 738.7 L492.2 742.5 L493.2 741.5 L494.2 743.9 L494.7 741.6 L495.2 741.2 L496.2 734.3 L497.2 730.9 L498.2 724.7 L499.2 721.0 L499.3 718.8 L500.2 726.6 L501.2 732.1 L502.2 740.8 L502.8 742.3 L503.2 743.7 L504.2 740.9 L505.2 742.5 L506.2 740.3 L507.2 741.0 L508.2 738.2 L509.2 740.2 L510.2 736.9 L510.9 738.4 L511.2 736.2 L512.2 738.4 L513.2 737.1 L514.2 738.9 L515.2 738.8 L516.2 740.8 L517.2 738.8 L518.2 741.9 L519.2 740.3 L520.2 742.6 L521.2 740.7 L522.2 744.2 L522.4 742.1 L523.2 743.5 L524.2 742.1 L525.2 744.6 L526.2 742.5 L527.2 743.7 L528.2 741.7 L529.2 744.3 L530.2 742.5 L531.2 744.0 L532.2 742.0 L533.2 744.3 L534.0 742.5 L534.2 743.6 L535.2 741.5 L536.2 743.7 L537.2 740.3 L538.2 742.3 L539.2 739.2 L540.2 741.6 L541.2 737.4 L542.2 740.5 L543.2 737.7 L543.2 740.5 L544.2 737.7 L545.2 739.0 L546.2 738.1 L547.2 739.4 L548.2 736.7 L549.2 739.3 L550.1 736.4 L550.2 738.6 L551.2 736.8 L552.2 740.2 L553.2 738.1 L554.2 740.2 L554.7 738.7 L555.2 741.8 L556.2 741.5 L557.2 745.7 L558.2 743.7 L559.2 747.3 L560.2 746.8 L561.2 751.2 L562.2 750.0 L563.2 753.9 L564.0 752.6 L564.2 756.2 L565.2 753.7 L566.2 755.3 L567.2 753.3 L568.2 754.6 L569.2 752.1 L570.2 754.8 L571.2 750.8 L572.2 752.6 L573.2 750.5 L574.2 753.4 L575.2 749.9 L575.5 752.7 L576.2 750.0 L577.2 752.9 L578.2 750.3 L579.2 751.5 L580.2 749.4 L581.2 751.5 L582.2 749.4 L583.2 751.7 L584.2 748.8 L584.8 751.0 L585.2 748.4 L586.2 752.3 L587.2 750.6 L588.2 753.8 L589.2 751.4 L590.2 755.6 L591.2 753.1 L592.2 757.3 L593.2 754.4 L594.0 758.1 L594.2 756.5 L595.2 758.9 L596.2 756.0 L597.2 759.8 L598.2 757.7 L599.2 762.1 L600.2 760.1 L601.2 762.3 L602.2 760.9 L603.2 763.7 L603.2 761.3 L604.2 764.0 L605.2 761.8 L606.2 764.9 L607.2 762.2 L608.2 764.6 L609.2 762.6 L610.2 765.4 L611.2 762.4 L612.2 765.9 L612.5 762.2 L613.2 765.5 L614.2 763.0 L615.2 766.1 L616.2 764.9 L617.2 768.4 L618.2 765.6 L619.2 768.0 L620.2 765.2 L621.2 768.0 L621.7 765.7 L622.2 767.4 L623.2 765.5 L624.2 769.2 L625.2 767.0 L626.2 770.2 L627.2 768.7 L628.2 771.6 L629.2 769.4 L630.2 771.8 L631.0 769.6 L631.2 772.6 L632.2 769.8 L633.2 772.7 L634.2 771.2 L635.2 773.4 L636.2 771.6 L637.2 774.3 L638.2 771.5 L639.2 774.3 L640.2 771.5 L641.2 774.1 L642.2 772.1 L642.5 774.4 L643.2 772.1 L644.2 774.2 L645.2 770.8 L646.2 774.3 L647.2 771.2 L648.2 775.0 L649.2 771.3 L650.2 773.4 L651.2 770.1 L652.2 774.1 L653.2 770.4 L654.0 773.9 L654.2 770.9 L655.2 774.0 L656.2 770.9 L657.2 773.1 L658.2 770.7 L659.2 772.7 L660.2 770.5 L661.2 774.8 L662.2 771.3 L663.2 773.8 L664.2 771.0 L665.2 775.1 L665.6 773.0 L666.2 775.8 L667.2 773.3 L668.2 776.6 L669.2 774.9 L670.2 777.6 L671.2 776.2 L672.2 778.9 L673.2 776.9 L674.2 780.3 L675.2 777.1 L676.2 782.7 L677.1 780.0 L677.2 781.1 L678.2 780.2 L679.2 784.3 L680.2 781.2 L681.2 785.5 L682.2 784.2 L683.2 787.4 L684.2 785.8 L685.2 789.0 L686.2 787.6 L686.4 791.5 L687.2 788.3 L688.2 792.4 L689.2 788.7 L690.0 792.6 L690.2 789.2 L691.2 792.6 L692.2 790.3 L693.2 792.1 L694.2 789.6 L695.2 792.5 L696.2 788.2 L697.2 791.8 L698.2 788.4 L699.2 791.5 L700.2 788.0 L701.2 791.3 L702.2 789.0 L703.2 791.8 L704.2 789.6 L705.2 793.7 L706.2 789.4 L707.2 792.0 L707.3 789.3 L708.2 792.5 L709.2 790.9 L710.2 795.1 L711.2 792.0 L712.2 796.3 L713.2 794.2 L714.2 798.2 L715.2 795.2 L716.2 798.8 L717.2 796.7 L717.7 799.8 L718.2 795.9 L719.2 800.7 L720.2 797.9 L721.2 800.5 L722.2 798.6 L723.2 801.8 L724.2 798.7 L725.2 801.5 L726.2 798.8 L727.2 802.9 L728.2 799.4 L729.2 803.6 L729.3 800.1 L730.2 805.9 L731.2 800.9 L732.2 805.0 L733.2 802.3 L734.2 805.3 L735.2 802.1 L736.2 806.4 L737.2 802.9 L738.2 806.7 L739.2 803.9 L740.2 808.3 L741.2 804.4 L742.2 809.4 L743.1 806.1 L743.2 808.4 L744.2 804.6 L745.2 807.9 L746.2 803.2 L747.2 805.2 L748.2 800.8 L749.2 804.8 L750.2 799.0 L751.2 800.8 L751.2 798.3 L752.2 803.1 L753.2 800.2 L754.2 804.2 L755.2 802.6 L756.2 807.8 L757.2 804.4 L758.2 809.2 L759.2 806.0 L759.3 810.4 L760.2 806.6 L761.2 812.4 L762.2 810.9 L763.2 814.4 L764.2 812.1 L765.2 815.9 L766.2 814.5 L767.2 818.2 L768.2 816.0 L768.5 818.9 L769.2 815.3 L770.2 818.5 L771.2 813.9 L772.2 818.6 L773.2 815.5 L774.2 818.3 L775.2 816.3 L776.2 820.6 L777.2 814.9 L778.2 818.7 L779.2 815.5 L780.2 820.9 L781.2 817.1 L782.2 820.1 L782.4 816.7 L783.2 820.8 L784.2 817.2 L785.2 820.1 L786.2 816.6 L787.2 820.9 L788.2 817.1 L789.2 821.2 L790.2 819.2 L791.2 821.5 L792.2 818.3 L793.2 823.0 L794.2 819.5 L795.2 824.0 L796.2 820.9 L797.2 824.9 L798.2 821.5 L799.2 826.1 L800.2 823.4 L801.2 827.2 L802.2 824.3 L803.2 827.9 L804.2 824.5 L805.2 827.6 L806.2 823.5 L807.2 828.8 L808.2 824.2 L809.2 829.6 L810.1 824.3 L810.2 830.5 L811.2 826.2 L812.2 830.4 L813.2 826.7 L814.2 831.6 L815.2 829.1 L816.2 831.6 L817.2 828.5 L818.2 832.2 L819.2 828.8 L820.2 831.9 L821.2 829.1 L821.6 833.3 L822.2 830.1 L823.2 833.9 L824.2 831.0 L825.2 834.6 L826.2 830.7 L827.2 833.7 L828.2 830.5 L829.2 834.0 L830.2 830.4 L831.2 834.6 L832.2 832.6 L833.2 835.8 L833.2 832.7 L834.2 837.5 L835.2 834.0 L836.2 837.3 L837.2 833.2 L838.2 837.1 L839.2 834.9 L840.2 838.5 L841.2 835.2 L842.2 838.4 L843.2 835.2 L844.2 839.0 L845.2 836.5 L846.2 840.8 L847.2 838.8 L848.2 842.3 L849.2 838.5 L850.2 842.9 L851.2 838.3 L851.7 842.5 L852.2 838.2 L853.2 843.5 L854.2 840.1 L855.2 844.2 L856.2 840.4 L857.2 845.8 L858.2 841.9 L859.2 845.2 L860.2 842.0 L861.2 846.8 L862.2 843.2 L863.2 846.6 L864.2 842.9 L865.2 847.6 L866.2 843.7 L867.2 848.0 L868.2 843.3 L869.2 847.1 L870.1 843.7 L870.2 847.9 L871.2 845.5 L872.2 850.0 L873.2 845.4 L874.2 850.0 L875.2 848.1 L876.2 849.7 L877.2 846.0 L878.2 850.2 L879.2 847.0 L880.2 851.2 L881.2 847.2 L882.2 851.3 L883.2 848.0 L884.2 852.3 L885.2 848.7 L886.2 853.9 L886.3 848.0 L887.2 854.3 L888.2 851.1 L889.2 854.1 L890.2 851.1 L891.2 855.2 L892.2 850.8 L893.2 855.9 L894.2 852.0 L895.2 856.6 L896.2 853.1 L897.2 857.9 L897.9 854.2 L898.2 856.5 L899.2 854.0 L900.2 858.0 L901.2 854.5 L902.2 857.6 L903.2 854.2 L904.2 857.7 L905.2 854.3 L906.2 858.6 L907.2 857.8 L908.2 859.2 L909.2 856.9 L910.2 861.4 L911.2 856.5 L911.7 862.6 L912.2 857.2 L913.2 862.1 L914.2 859.2 L915.2 863.1 L916.2 860.8 L917.2 866.0 L918.2 861.2 L919.2 867.3 L920.2 861.0 L921.2 866.7 L922.2 862.9 L923.2 867.0 L924.2 860.8 L925.2 866.8 L925.6 862.9 L926.2 867.8 L927.2 862.8 L928.2 866.7 L929.2 864.8 L930.2 867.7 L931.2 865.0 L932.2 868.6 L933.2 864.7 L934.2 868.6 L935.2 865.3 L936.2 868.6 L937.2 865.2 L938.2 870.0 L939.2 866.4 L939.4 871.1 L940.2 868.8 L941.2 872.5 L942.2 868.4 L943.2 872.5 L944.2 869.2 L945.2 874.2 L946.2 871.3 L947.2 874.1 L948.2 872.2 L949.2 875.9 L950.2 872.3 L951.2 877.4 L952.2 872.1 L953.2 878.8 L953.3 873.6 L954.2 878.9 L955.2 874.8 L956.2 878.2 L957.2 875.4 L958.2 879.0 L959.2 874.2 L960.2 881.0 L961.2 875.0 L962.2 879.8 L963.2 876.1 L964.2 883.2 L965.2 878.8 L966.2 883.5 L967.1 880.2 L967.2 882.4 L968.2 879.0 L969.2 883.4 L970.2 882.0 L971.2 884.2 L972.2 880.3 L973.2 885.9 L974.2 883.0 L975.2 888.6 L976.2 882.8 L977.2 888.1 L978.2 884.2 L979.2 888.9 L980.2 882.6 L981.0 888.5 L981.2 885.9 L982.2 890.7 L983.2 885.9 L984.2 891.6 L985.2 887.4 L986.2 891.5 L987.2 886.8 L988.2 890.5 L989.2 887.4 L990.2 894.8 L991.2 887.3 L992.2 892.4 L993.2 888.5 L994.2 893.5 L995.2 888.9 L996.2 895.7 L997.2 892.7 L998.2 895.8 L999.2 893.5 L999.2 897.0 L1000.2 894.1 L1001.2 899.8 L1002.2 894.6 L1003.2 897.8 L1004.2 896.3 L1005.2 900.4 L1006.2 895.3 L1007.2 899.2 L1008.2 894.9 L1009.2 900.1 L1010.2 895.4 L1011.2 900.2 L1012.2 895.9 L1013.2 903.1 L1014.2 896.9 L1015.2 902.6 L1016.2 899.6 L1017.2 904.0 L1018.2 897.0 L1018.5 902.5 L1019.2 897.4 L1020.2 903.2 L1021.2 899.6 L1022.2 906.2 L1023.2 900.2 L1024.2 904.1 L1025.2 901.4 L1026.2 905.5 L1027.2 902.6 L1028.2 907.0 L1029.2 903.7 L1030.2 908.9 L1031.2 904.1 L1032.2 907.9 L1033.2 904.3 L1034.2 908.9 L1035.2 905.8 L1036.2 908.8 L1037.2 905.7 L1037.7 910.0 L1038.2 907.0 L1039.2 910.6 L1040.2 906.1 L1041.2 910.7 L1042.2 906.8 L1043.2 911.1 L1044.2 907.4 L1045.2 910.9 L1046.2 908.1 L1047.2 912.3 L1048.2 909.8 L1049.2 912.8 L1050.2 909.8 L1051.2 914.2 L1052.2 910.7 L1053.2 915.0 L1054.2 912.0 L1055.2 916.7 L1056.2 911.7 L1057.0 916.4 L1057.2 912.0 L1058.2 916.0 L1059.2 911.3 L1060.2 915.1 L1061.2 912.9 L1062.2 915.4 L1063.2 914.4 L1064.2 917.6 L1065.2 913.7 L1066.2 918.2 L1067.2 914.0 L1068.2 918.2 L1069.2 913.5 L1070.2 918.1 L1071.2 914.1 L1072.2 919.3 L1073.2 914.9 L1074.2 919.4 L1075.2 915.5 L1076.2 920.9 L1076.2 915.4 L1077.2 920.2 L1078.2 917.6 L1079.2 919.9 L1080.2 916.0 L1081.2 919.7 L1082.2 916.5 L1083.2 921.0 L1084.2 915.3 L1085.2 921.8 L1086.2 918.1 L1087.2 922.6 L1088.2 918.5 L1089.2 922.4 L1090.2 916.6 L1091.2 922.9 L1092.2 919.0 L1093.2 922.8 L1094.2 918.8 L1095.2 922.2 L1095.5 918.9 L1096.2 922.5 L1097.2 917.8 L1098.2 923.9 L1099.2 919.8 L1100.2 924.3 L1101.2 918.5 L1102.2 923.6 L1103.2 920.1 L1104.2 923.8 L1105.2 921.5 L1106.2 925.1 L1107.2 921.1 L1108.2 924.3 L1109.2 921.3 L1110.2 926.1 L1111.2 922.0 L1112.2 925.9 L1113.2 919.6 L1114.2 925.0 L1114.7 920.6 L1115.2 926.6 L1116.2 922.8 L1117.2 925.8 L1118.2 921.8 L1119.2 927.8 L1120.2 924.2 L1121.2 927.2 L1122.2 924.9 L1122.4 927.6 L1123.2 924.5 L1124.2 930.5 L1125.2 926.6 L1126.2 930.9 L1127.2 926.8 L1128.2 933.9 L1129.2 930.1" fill="none" stroke="#772D88" stroke-width="3.6" stroke-linejoin="round"/>
<path d="M119.2 629.7 L120.2 629.9 L121.2 630.1 L122.2 630.3 L123.2 630.6 L124.2 630.8 L125.2 631.0 L126.2 631.2 L127.2 631.4 L128.2 631.7 L129.2 631.9 L130.2 632.1 L131.2 632.3 L132.2 632.6 L133.2 632.8 L134.2 633.0 L135.2 633.2 L136.2 633.4 L137.2 633.7 L138.2 633.9 L139.2 634.1 L140.0 634.3 L140.2 634.2 L141.2 634.0 L142.2 633.7 L143.2 633.5 L144.2 633.2 L145.2 633.0 L146.2 632.7 L147.2 632.5 L148.2 632.2 L149.2 632.0 L150.2 631.7 L151.2 631.5 L152.2 631.2 L153.2 631.0 L154.2 630.7 L155.2 630.5 L156.2 630.2 L157.2 630.0 L158.2 629.7 L158.5 629.7 L159.2 629.8 L160.2 630.0 L161.2 630.3 L162.2 630.5 L163.2 630.7 L164.2 630.9 L165.2 631.1 L166.2 631.3 L167.2 631.5 L168.2 631.8 L169.2 632.0 L170.2 632.2 L171.2 632.4 L172.2 632.6 L173.2 632.8 L174.2 633.0 L174.7 633.1 L175.2 633.8 L176.2 634.8 L177.2 635.9 L178.2 637.0 L179.2 638.1 L180.2 639.2 L181.2 640.3 L182.2 641.3 L183.2 642.4 L184.2 643.5 L185.2 644.6 L186.2 645.7 L187.2 646.8 L188.2 647.8 L188.5 648.1 L189.2 649.0 L190.2 650.2 L191.2 651.4 L192.2 652.7 L193.2 653.9 L194.2 655.1 L195.2 656.3 L196.2 657.5 L197.2 658.7 L198.2 659.9 L199.2 661.2 L200.2 662.4 L201.2 663.6 L202.2 664.8 L203.2 666.0 L204.2 667.2 L204.7 667.8 L205.2 667.8 L206.2 667.9 L207.2 668.1 L208.2 668.2 L209.2 668.3 L210.2 668.4 L211.2 668.5 L212.2 668.6 L213.2 668.7 L214.2 668.8 L215.1 668.9 L215.2 668.7 L216.2 667.1 L217.2 665.4 L218.2 663.8 L219.2 662.2 L220.2 660.6 L221.2 659.0 L222.2 657.4 L223.2 655.7 L224.2 654.1 L225.2 652.5 L226.2 650.9 L227.2 649.3 L228.2 647.7 L229.2 646.1 L230.1 644.7 L230.2 644.5 L231.2 643.5 L232.2 642.5 L233.2 641.5 L234.2 640.5 L235.2 639.5 L236.2 638.5 L237.0 637.7 L237.2 637.7 L238.2 637.6 L239.2 637.4 L240.2 637.3 L241.2 637.1 L242.2 637.0 L243.2 636.9 L244.2 636.7 L245.1 636.6 L245.2 636.8 L246.2 638.7 L247.2 640.5 L248.2 642.3 L249.2 644.1 L250.2 645.9 L251.2 647.8 L252.2 649.6 L253.2 651.4 L254.2 653.2 L255.2 655.0 L256.2 656.8 L257.2 658.7 L257.8 659.7 L258.2 660.6 L259.2 662.6 L260.2 664.6 L261.2 666.6 L262.2 668.6 L263.2 670.6 L264.2 672.6 L265.2 674.6 L266.2 676.6 L267.2 678.6 L268.2 680.6 L269.2 682.6 L269.4 682.8 L270.2 683.8 L271.2 684.9 L272.2 686.0 L273.2 687.1 L274.2 688.2 L275.2 689.3 L276.2 690.4 L277.2 691.5 L278.2 692.6 L279.2 693.7 L280.2 694.8 L280.9 695.5 L281.2 695.8 L282.2 696.6 L283.2 697.4 L284.2 698.3 L285.2 699.1 L286.2 699.9 L287.2 700.8 L288.2 701.6 L289.2 702.4 L290.2 703.3 L291.2 704.1 L292.2 704.9 L293.2 705.8 L294.2 706.6 L294.8 707.0 L295.2 707.4 L296.2 708.1 L297.2 708.8 L298.2 709.5 L299.2 710.2 L300.2 710.9 L301.2 711.7 L302.2 712.4 L303.2 713.1 L304.2 713.8 L305.2 714.5 L306.2 715.2 L307.2 715.9 L308.2 716.7 L309.2 717.4 L310.2 718.1 L310.9 718.6 L311.2 718.9 L312.2 719.7 L313.2 720.6 L314.2 721.5 L315.2 722.4 L316.2 723.2 L317.2 724.1 L318.2 725.0 L319.2 725.9 L320.2 726.7 L320.2 726.7 L321.2 727.2 L322.2 727.7 L323.2 728.2 L324.2 728.7 L325.2 729.2 L326.2 729.7 L327.2 730.2 L328.2 730.7 L329.2 731.2 L330.2 731.7 L331.2 732.2 L331.7 732.4 L332.2 732.6 L333.2 733.0 L334.2 733.4 L335.2 733.8 L336.2 734.1 L337.2 734.5 L338.2 734.9 L339.2 735.3 L340.2 735.6 L341.2 736.0 L342.2 736.4 L343.2 736.8 L344.2 737.1 L345.2 737.5 L346.2 737.9 L347.2 738.3 L348.2 738.6 L349.2 739.0 L350.2 739.4 L350.2 739.4 L351.2 739.2 L352.2 739.0 L353.2 738.9 L354.2 738.7 L355.2 738.5 L356.2 738.4 L357.2 738.2 L358.2 738.0 L359.2 737.9 L360.2 737.7 L361.2 737.5 L362.2 737.4 L363.2 737.2 L364.0 737.1 L364.2 737.2 L365.2 738.1 L366.2 739.0 L367.2 739.9 L368.2 740.8 L369.2 741.7 L370.2 742.6 L371.2 743.5 L372.2 744.4 L373.2 745.3 L374.2 746.2 L375.2 747.1 L375.6 747.4 L376.2 747.6 L377.2 747.8 L378.2 748.0 L379.2 748.2 L380.2 748.4 L381.2 748.6 L382.2 748.8 L383.2 749.0 L384.2 749.2 L385.2 749.4 L386.2 749.6 L387.1 749.8 L387.2 749.8 L388.2 750.2 L389.2 750.7 L390.2 751.1 L391.2 751.5 L392.2 751.9 L393.2 752.4 L394.2 752.8 L395.2 753.2 L396.2 753.7 L397.2 754.1 L398.2 754.5 L399.2 754.9 L400.2 755.4 L401.2 755.8 L402.2 756.2 L403.2 756.7 L403.3 756.7 L404.2 756.4 L404.6 756.2 L405.2 756.4 L406.2 756.8 L407.2 757.1 L408.2 757.5 L409.2 757.8 L410.2 758.0 L411.2 758.1 L412.2 758.2 L413.2 758.3 L414.2 758.5 L415.2 758.6 L416.2 758.7 L417.2 758.8 L418.2 759.0 L418.5 759.0 L419.2 759.3 L420.2 759.8 L421.2 760.2 L422.2 760.6 L423.2 761.0 L424.2 761.5 L425.2 761.9 L426.2 762.3 L427.2 762.8 L428.2 763.2 L429.2 763.6 L430.2 764.1 L431.2 764.4 L432.2 764.9 L433.2 765.3 L434.2 765.8 L434.6 765.9 L435.2 766.2 L436.2 766.5 L437.2 766.9 L438.2 767.2 L439.2 767.7 L440.2 768.0 L441.2 768.5 L442.2 768.7 L443.2 769.2 L444.2 769.5 L445.2 769.9 L446.2 770.2 L447.2 770.7 L448.2 771.0 L449.2 771.5 L450.2 771.8 L451.2 772.2 L452.2 772.5 L453.1 772.9 L453.2 772.9 L454.2 773.5 L455.2 773.9 L456.2 774.5 L457.2 774.9 L458.2 775.5 L459.2 775.8 L460.2 776.4 L461.2 776.8 L462.2 777.4 L463.2 777.8 L464.2 778.5 L465.2 778.9 L466.2 779.5 L467.2 779.8 L468.2 780.5 L469.2 780.8 L469.3 781.0 L470.2 781.3 L471.2 782.0 L472.2 782.4 L473.2 783.0 L474.2 783.3 L475.2 783.9 L476.2 784.3 L477.2 785.0 L478.2 785.4 L479.2 786.0 L480.2 786.3 L481.2 786.9 L482.2 787.2 L483.1 787.9 L483.2 787.7 L484.2 788.0 L485.2 787.9 L486.2 788.2 L487.2 788.1 L488.2 788.4 L489.2 788.3 L490.2 788.6 L491.2 788.4 L492.2 788.7 L493.2 788.5 L494.2 788.8 L495.2 788.8 L496.2 789.1 L497.0 789.0 L497.2 789.3 L498.2 789.4 L499.2 789.9 L500.2 790.0 L501.2 790.6 L502.2 790.7 L503.2 791.2 L504.2 791.2 L505.2 791.8 L506.2 792.0 L507.2 792.6 L508.2 792.6 L509.2 793.2 L510.2 793.2 L510.9 793.7 L511.2 793.6 L512.2 794.2 L513.2 794.3 L514.2 794.9 L515.2 794.8 L516.2 795.5 L517.2 795.7 L518.2 796.2 L519.2 796.4 L520.2 797.0 L521.2 797.1 L522.2 797.6 L523.2 797.6 L524.2 798.1 L524.7 798.0 L525.2 798.6 L526.2 798.6 L527.2 799.1 L528.2 799.1 L529.2 799.8 L530.2 799.7 L531.2 800.4 L532.2 800.5 L533.2 801.0 L534.2 800.9 L535.2 801.6 L536.2 801.6 L536.3 802.0 L537.2 801.1 L538.2 801.0 L539.2 800.1 L540.2 800.0 L541.2 799.2 L542.2 798.9 L543.2 798.2 L544.2 798.0 L545.2 797.0 L546.2 797.0 L547.2 796.1 L547.8 796.2 L548.2 795.6 L549.2 795.4 L550.2 794.6 L551.2 794.4 L552.2 793.6 L553.2 793.4 L554.2 792.6 L555.2 792.4 L556.2 791.6 L557.2 791.4 L558.2 790.5 L559.2 790.4 L560.2 789.5 L561.2 789.3 L561.7 788.9 L562.2 789.5 L563.2 789.6 L564.2 790.5 L565.2 790.5 L566.2 791.6 L567.2 791.5 L568.2 792.5 L569.2 792.5 L570.2 793.3 L570.9 793.4 L571.2 794.2 L572.2 795.0 L573.2 796.6 L574.2 797.1 L575.2 799.0 L576.2 799.9 L577.2 801.3 L578.2 802.3 L579.2 803.8 L580.2 804.7 L581.2 806.2 L582.2 806.8 L582.5 807.6 L583.2 807.4 L584.2 807.9 L585.2 807.8 L586.2 808.3 L587.2 808.2 L588.2 808.9 L589.2 808.7 L590.2 809.4 L591.2 809.2 L592.2 809.7 L593.2 809.4 L594.0 810.2 L594.2 809.5 L595.2 809.7 L596.2 808.8 L597.2 808.8 L598.2 808.0 L599.2 808.2 L600.2 807.3 L601.2 807.4 L602.2 806.4 L603.2 806.4 L603.2 806.1 L604.2 806.0 L605.2 805.2 L606.2 805.5 L607.2 804.8 L608.2 804.9 L609.2 804.1 L610.2 804.1 L610.2 803.7 L611.2 804.8 L612.2 804.6 L613.2 805.5 L614.2 805.5 L615.2 806.2 L616.2 806.1 L617.2 806.9 L618.2 807.0 L619.2 807.9 L619.4 807.1 L620.2 807.8 L621.2 807.1 L622.2 807.6 L623.2 807.1 L624.2 807.3 L625.2 806.8 L626.2 806.9 L627.2 806.6 L628.2 807.0 L629.2 806.4 L630.2 806.7 L631.0 806.2 L631.2 806.9 L632.2 806.6 L633.2 807.2 L634.2 807.1 L635.2 807.7 L636.2 807.6 L637.2 808.3 L638.2 808.1 L639.2 808.8 L640.2 808.6 L641.2 809.2 L642.2 809.0 L643.2 809.7 L644.2 809.4 L644.8 810.0 L645.2 809.8 L646.2 810.9 L647.2 810.9 L648.2 812.2 L649.2 812.3 L650.2 813.6 L651.2 813.5 L652.2 814.7 L653.2 814.8 L654.0 815.8 L654.2 815.4 L655.2 816.5 L656.2 816.4 L657.2 817.5 L658.2 817.3 L659.2 818.4 L660.2 818.5 L661.2 819.7 L662.2 819.5 L663.2 820.6 L664.2 820.5 L665.2 821.5 L665.6 821.1 L666.2 822.0 L667.2 821.6 L668.2 822.2 L669.2 821.9 L670.2 822.9 L671.2 822.7 L672.2 823.7 L673.2 823.3 L674.2 824.3 L675.2 823.8 L676.2 824.6 L677.2 824.3 L678.2 825.2 L679.2 825.0 L680.2 825.8 L681.2 825.6 L681.8 826.3 L682.2 825.7 L683.2 826.6 L684.2 826.5 L685.2 827.7 L686.2 827.3 L687.2 828.2 L688.2 828.0 L689.2 829.2 L690.2 828.8 L691.2 829.8 L692.2 829.8 L693.2 830.8 L693.3 830.0 L694.2 831.1 L695.2 830.4 L696.2 831.4 L697.2 831.2 L698.2 832.2 L699.2 831.4 L700.2 832.3 L701.2 831.9 L701.5 832.7 L702.2 832.1 L703.2 833.5 L704.2 833.2 L705.2 833.7 L706.2 833.6 L707.2 834.5 L708.2 834.2 L709.2 835.0 L710.2 834.8 L711.2 835.7 L712.2 835.0 L713.1 836.4 L713.2 835.6 L714.2 836.0 L715.2 834.8 L716.2 835.3 L717.2 834.1 L718.2 834.9 L719.2 833.8 L720.2 834.1 L721.2 833.2 L722.2 833.5 L723.2 832.4 L724.2 833.0 L725.2 832.2 L726.2 832.6 L727.2 831.7 L728.2 832.1 L729.2 830.7 L729.3 831.6 L730.2 831.6 L731.2 833.2 L732.2 833.5 L733.2 835.1 L734.2 835.0 L735.2 836.4 L736.2 836.4 L736.2 837.1 L737.2 836.8 L738.2 838.4 L739.2 838.1 L740.2 839.1 L741.2 838.8 L742.2 839.9 L743.2 839.8 L744.2 840.8 L745.2 840.3 L746.2 841.9 L747.2 841.1 L748.2 842.5 L749.2 842.2 L750.0 843.2 L750.2 842.7 L751.2 843.7 L752.2 843.0 L753.2 844.2 L754.2 843.4 L755.2 844.7 L756.2 844.1 L757.2 845.3 L758.2 844.8 L759.2 845.9 L760.2 845.3 L761.2 846.6 L762.2 845.8 L763.2 846.9 L764.2 846.4 L765.2 847.3 L766.2 846.9 L766.2 847.9 L767.2 847.1 L768.2 848.5 L769.2 848.4 L770.2 849.3 L771.2 849.1 L772.2 850.1 L773.2 849.8 L774.2 850.9 L775.2 850.3 L776.2 851.4 L777.2 851.3 L778.2 852.4 L779.2 851.8 L780.2 853.1 L781.2 852.6 L782.2 853.7 L782.4 853.0 L783.2 854.0 L784.2 853.5 L785.2 854.3 L786.2 853.8 L787.2 854.9 L788.2 854.3 L789.2 855.4 L790.2 854.8 L791.2 855.9 L792.2 855.0 L793.2 856.0 L794.2 855.4 L795.2 856.7 L796.2 856.3 L797.2 857.4 L798.2 856.9 L799.2 858.2 L800.2 857.5 L801.2 858.2 L802.2 857.7 L803.2 859.0 L804.2 858.1 L805.2 859.2 L805.5 858.4 L806.2 859.7 L807.2 858.8 L808.2 859.9 L809.2 859.3 L810.2 860.6 L811.2 859.9 L812.2 861.1 L813.2 860.4 L814.2 861.6 L815.2 861.3 L816.2 862.2 L817.2 861.7 L818.2 862.5 L819.2 861.7 L820.2 862.9 L821.2 862.5 L822.2 864.0 L823.2 863.4 L824.2 864.4 L825.2 863.6 L826.2 864.4 L827.2 863.8 L828.2 865.2 L828.6 864.4 L829.2 865.2 L830.2 864.9 L831.2 865.9 L832.2 865.3 L833.2 866.4 L834.2 865.7 L835.2 866.9 L836.2 866.5 L837.2 867.6 L838.2 867.2 L839.2 868.5 L840.2 867.6 L841.2 869.0 L842.2 868.4 L843.2 869.4 L844.2 869.0 L845.2 870.1 L846.2 869.4 L847.2 870.9 L848.2 870.0 L849.2 871.5 L850.2 870.6 L851.2 872.1 L851.7 871.0 L852.2 872.1 L853.2 871.7 L854.2 872.8 L855.2 872.2 L856.2 873.5 L857.2 872.7 L858.2 874.1 L859.2 873.7 L860.2 874.7 L861.2 873.8 L862.2 875.1 L863.2 874.7 L864.2 875.5 L865.2 875.0 L866.2 876.4 L867.2 875.7 L868.2 877.0 L869.2 876.6 L870.2 877.6 L871.2 877.0 L872.2 878.5 L873.2 877.4 L874.2 878.6 L874.8 877.9 L875.2 879.0 L876.2 878.5 L877.2 879.9 L878.2 879.3 L879.2 880.9 L880.2 880.6 L881.2 881.9 L882.2 881.2 L883.2 882.5 L884.2 881.8 L885.2 883.3 L886.2 883.1 L887.2 884.1 L888.2 883.8 L889.2 884.8 L890.2 884.3 L891.2 886.0 L892.2 885.2 L893.2 886.6 L894.2 886.0 L895.2 887.1 L896.2 886.9 L897.2 888.4 L897.9 887.6 L898.2 888.3 L899.2 887.3 L900.2 888.7 L901.2 887.8 L902.2 889.2 L903.2 888.7 L904.2 890.1 L905.2 889.3 L906.2 890.6 L907.2 889.9 L908.2 891.1 L909.2 890.7 L910.2 891.7 L911.2 890.9 L912.2 892.4 L913.2 890.9 L914.2 892.5 L915.2 892.0 L916.2 893.1 L917.2 892.1 L918.2 893.9 L919.2 892.9 L920.2 894.0 L921.0 892.8 L921.2 894.3 L922.2 893.3 L923.2 894.5 L924.2 894.0 L925.2 895.2 L926.2 894.2 L927.2 895.5 L928.2 895.0 L929.2 896.1 L930.2 895.5 L931.2 896.8 L932.2 895.4 L933.2 897.3 L934.2 896.5 L935.2 897.4 L936.2 896.6 L937.2 897.9 L938.2 897.3 L939.2 898.5 L940.2 897.8 L941.2 899.7 L942.2 898.1 L943.2 899.7 L944.0 898.9 L944.2 899.9 L945.2 899.4 L946.2 901.4 L947.2 900.0 L948.2 901.3 L949.2 900.6 L950.2 902.2 L951.2 900.9 L952.2 902.4 L953.2 901.6 L954.2 902.8 L955.2 902.6 L956.2 903.7 L957.2 902.9 L958.2 904.3 L959.2 903.3 L960.2 904.9 L961.2 903.8 L962.2 905.7 L963.2 904.1 L964.2 906.2 L965.2 905.2 L966.2 906.3 L967.1 905.2 L967.2 907.2 L968.2 906.3 L969.2 907.4 L970.2 906.8 L971.2 908.9 L972.2 907.6 L973.2 909.1 L974.2 908.1 L975.2 909.1 L976.2 908.5 L977.2 910.2 L978.2 909.3 L979.2 911.1 L980.2 910.4 L981.0 911.8 L981.2 910.8 L982.2 911.7 L983.2 911.4 L984.2 912.5 L985.2 911.9 L986.2 913.3 L987.2 912.7 L988.2 914.4 L989.2 913.5 L990.2 914.8 L991.2 914.1 L992.2 915.3 L993.2 914.0 L994.2 915.8 L995.2 914.9 L996.2 917.3 L997.2 915.9 L998.2 917.6 L999.2 916.5 L999.2 917.6 L1000.2 916.5 L1001.2 918.4 L1002.2 917.0 L1003.2 919.3 L1004.2 918.1 L1005.2 919.7 L1006.2 918.2 L1007.2 920.3 L1008.2 918.5 L1009.2 921.7 L1010.2 919.4 L1011.2 921.4 L1012.2 920.0 L1013.2 922.0 L1014.2 920.4 L1015.2 923.1 L1016.2 921.2 L1017.2 923.4 L1018.2 922.1 L1018.5 924.0 L1019.2 922.4 L1020.2 924.1 L1021.2 922.2 L1022.2 924.6 L1023.2 923.3 L1024.2 926.0 L1025.2 923.4 L1026.2 925.2 L1027.2 923.7 L1028.2 925.4 L1029.2 923.7 L1030.2 926.4 L1031.2 924.1 L1032.2 926.8 L1033.2 924.6 L1034.2 927.2 L1035.2 924.5 L1036.2 926.9 L1037.2 925.8 L1037.7 927.9 L1038.2 926.1 L1039.2 929.0 L1040.2 926.1 L1041.2 928.7 L1042.2 926.6 L1043.2 928.2 L1044.2 926.7 L1045.2 929.5 L1046.2 927.1 L1047.2 930.7 L1048.2 927.2 L1049.2 930.2 L1050.2 928.1 L1051.2 931.1 L1052.2 928.3 L1053.2 930.5 L1054.2 927.9 L1055.2 930.6 L1056.2 929.1 L1057.0 931.4 L1057.2 928.7 L1058.2 933.0 L1059.2 929.3 L1060.2 932.8 L1061.2 930.6 L1062.2 933.0 L1063.2 930.1 L1064.2 935.0 L1065.2 930.6 L1066.2 934.9 L1066.6 930.7 L1067.2 934.0 L1068.2 931.9 L1069.2 937.7 L1070.2 930.6 L1071.2 936.6 L1072.2 931.3 L1073.2 937.8 L1074.2 931.7 L1075.2 936.2 L1076.2 931.3 L1076.2 937.7 L1077.2 931.5 L1078.2 938.8 L1079.2 933.9 L1080.2 938.6 L1081.2 931.5 L1082.2 936.1 L1083.2 933.6 L1084.2 938.0 L1085.2 932.3 L1086.2 939.5 L1087.2 933.4 L1088.2 940.9 L1089.2 930.9 L1090.2 940.3 L1091.2 929.6 L1092.2 940.1 L1093.2 933.9 L1094.2 939.6 L1095.2 931.4 L1095.5 939.7 L1096.2 931.5 L1097.2 940.3 L1098.2 929.2 L1099.2 939.0 L1100.2 934.7 L1101.2 944.1 L1102.2 934.8 L1103.2 943.4 L1104.2 935.2 L1105.2 943.9 L1106.2 932.8 L1107.2 945.5 L1108.2 929.2 L1109.2 939.8 L1110.2 933.5 L1111.2 944.8 L1112.2 931.8 L1113.2 943.2 L1114.2 930.4 L1114.7 941.3 L1115.2 930.0 L1116.2 944.0 L1117.2 929.7 L1118.2 942.6 L1119.2 929.1 L1120.2 941.6 L1121.2 929.2 L1122.2 941.6 L1123.2 937.5 L1124.2 940.4 L1125.2 928.3 L1126.2 942.7 L1127.2 926.9 L1128.2 942.2 L1129.2 929.7 L1130.2 945.3 L1131.2 929.9 L1132.2 942.4 L1133.2 930.7 L1134.0 947.3 L1134.2 934.7 L1135.2 947.5 L1136.2 936.2 L1137.2 946.5 L1138.2 936.3 L1139.2 948.7 L1140.2 933.6 L1141.2 945.2 L1142.2 935.3 L1143.2 952.5 L1144.2 933.8 L1145.2 950.0 L1146.2 937.0 L1147.2 943.3 L1148.2 933.9 L1149.2 941.8 L1150.2 929.1 L1151.2 942.3 L1152.2 933.2 L1153.2 941.1 L1153.2 929.6 L1154.2 944.8 L1155.2 932.4 L1156.2 937.7 L1157.2 926.2 L1158.2 939.9 L1159.2 927.8 L1160.2 944.9 L1161.2 923.6 L1162.2 937.8 L1163.2 925.7 L1164.2 934.6 L1164.8 925.2 L1165.2 946.6 L1166.2 928.4 L1167.2 937.8 L1168.2 926.7 L1169.2 943.9 L1170.2 933.2 L1171.2 949.7 L1172.2 938.2 L1172.5 951.0 L1173.2 934.6 L1174.2 941.3 L1175.2 932.5 L1176.2 944.7 L1177.2 931.4 L1178.2 945.0 L1179.2 928.7 L1180.2 942.9 L1181.2 938.5 L1182.2 950.4 L1183.2 936.4 L1184.2 951.2 L1185.2 937.5 L1186.2 951.6 L1187.2 938.7 L1188.2 950.7 L1189.2 939.7 L1190.2 950.4 L1191.2 938.3 L1191.7 950.0 L1192.2 940.3 L1193.2 951.8 L1194.2 934.9 L1195.2 944.4 L1196.2 936.6 L1197.2 946.4 L1198.2 940.8 L1199.2 948.5 L1200.2 938.5 L1201.2 948.6 L1202.2 936.1 L1203.2 943.9 L1204.2 931.5 L1205.2 945.0 L1206.2 927.9 L1207.2 944.2 L1208.2 931.9 L1209.2 948.2 L1210.2 937.1 L1211.2 951.2 L1212.2 933.7 L1213.2 947.1 L1214.2 935.9 L1215.2 948.6 L1216.2 931.4 L1217.2 944.6 L1218.2 932.6 L1219.2 944.7 L1219.6 932.3" fill="none" stroke="#50B4E1" stroke-width="3.6" stroke-linejoin="round"/>
<path d="M119.4 1224.2 L135.5 1217.5" fill="none" stroke="#E81C18" stroke-width="3.9" stroke-linejoin="round"/>
<path d="M153.0 1222.5 L157.0 1226.3 L169.0 1226.0" fill="none" stroke="#E81C18" stroke-width="3.9" stroke-linejoin="round"/>
<path d="M184.0 1237.0 L189.0 1240.0 L202.0 1247.0" fill="none" stroke="#E81C18" stroke-width="3.9" stroke-linejoin="round"/>
<path d="M205.0 1252.0 L210.0 1254.0" fill="none" stroke="#E81C18" stroke-width="3.9" stroke-linejoin="round"/>
<path d="M221.2 1257.6 L222.2 1258.4 L223.2 1257.1 L224.2 1259.3 L225.2 1257.6 L226.2 1259.4 L227.2 1257.7 L228.2 1259.3 L229.2 1258.1 L230.2 1259.1 L231.2 1257.8 L232.2 1259.1 L233.2 1257.8 L234.2 1258.9 L234.7 1257.0 L235.2 1258.9 L236.2 1256.9 L237.2 1258.6 L238.2 1256.4 L239.2 1257.3 L240.2 1255.5 L241.2 1256.7 L242.2 1254.9 L243.2 1255.2 L244.2 1253.0 L245.2 1254.4 L246.2 1253.3 L246.3 1254.8 L247.2 1253.6 L248.2 1255.3 L249.2 1254.4 L250.2 1256.3 L251.2 1255.5 L252.2 1257.4 L253.2 1256.4 L254.2 1258.5 L255.2 1256.8 L256.2 1259.4 L257.2 1257.7 L258.2 1260.6 L259.2 1259.1 L260.1 1260.6 L260.2 1259.5 L261.2 1260.5 L262.2 1258.5 L263.2 1259.3 L264.2 1257.5 L265.2 1258.0 L266.2 1256.0 L267.2 1256.8 L268.2 1254.6 L269.2 1255.7 L270.2 1252.8 L271.2 1254.2 L272.2 1252.3 L273.2 1253.5 L274.2 1251.1 L275.2 1251.9 L276.2 1249.6 L276.3 1251.4 L277.2 1249.4 L278.2 1250.9 L279.2 1249.3 L280.2 1251.6 L281.2 1250.2 L282.2 1251.8 L283.2 1250.5 L284.2 1252.5 L285.2 1251.0 L286.2 1252.8 L287.2 1251.3 L288.2 1253.2 L289.2 1252.4 L290.2 1253.8 L291.2 1252.6 L292.2 1254.0 L293.2 1252.4 L294.2 1255.1 L294.8 1253.3 L295.2 1255.5 L296.2 1253.5 L297.2 1255.1 L298.2 1254.1 L299.2 1256.7 L300.2 1254.5 L301.2 1255.8 L302.2 1254.1 L303.2 1256.3 L304.2 1254.5 L305.2 1257.5 L306.2 1255.3 L307.2 1257.5 L308.2 1256.0 L308.6 1258.2 L309.2 1256.5 L310.2 1258.8 L311.2 1257.6 L312.2 1260.2 L313.2 1257.9 L313.2 1260.7 L314.2 1259.9 L315.2 1262.1 L316.2 1261.4 L317.2 1263.4 L318.2 1262.2 L319.2 1264.7 L320.2 1264.2 L321.2 1266.8 L322.2 1264.8 L322.5 1267.0 L323.2 1265.5 L324.2 1266.9 L325.2 1264.9 L326.2 1266.8 L327.1 1264.9 L327.2 1268.1 L328.2 1266.6 L329.2 1269.5 L330.2 1270.0 L331.2 1273.2 L332.2 1272.3 L333.2 1275.5 L334.2 1275.1 L335.2 1278.6 L336.2 1278.1 L336.3 1279.9 L337.2 1278.7 L338.2 1280.6 L339.2 1278.9 L340.2 1281.2 L341.2 1279.6 L342.2 1282.1 L343.2 1280.4 L344.2 1283.4 L345.2 1281.7 L345.6 1283.0 L346.2 1281.6 L347.2 1283.4 L348.2 1281.5 L349.2 1283.5 L350.2 1281.1 L350.2 1282.9 L351.2 1281.0 L352.2 1284.5 L353.2 1282.8 L354.2 1285.1 L354.8 1283.3 L355.2 1285.5 L356.2 1284.1 L357.2 1285.8 L358.2 1284.7 L359.2 1286.1 L360.2 1284.5 L361.2 1285.7 L361.7 1283.5 L362.2 1285.8 L363.2 1286.3 L364.2 1289.4 L365.2 1289.6 L366.2 1292.5 L367.2 1292.4 L368.2 1296.3 L368.7 1295.6 L369.2 1297.0 L370.2 1293.7 L371.2 1295.4 L372.2 1291.9 L373.2 1294.1 L374.2 1291.7 L375.2 1292.0 L376.2 1290.2 L377.2 1290.8 L377.9 1288.2 L378.2 1290.0 L379.2 1288.6 L380.2 1291.1 L381.2 1290.4 L382.2 1293.0 L382.5 1291.0 L383.2 1291.6 L384.2 1288.2 L385.2 1289.5 L386.2 1284.8 L387.2 1284.9 L388.2 1281.6 L389.2 1282.2 L389.4 1279.4 L390.2 1280.8 L391.2 1278.8 L392.2 1279.9 L393.2 1277.5 L394.2 1278.7 L395.2 1276.9 L396.2 1277.6 L397.2 1274.9 L398.2 1276.2 L398.7 1273.9 L399.2 1276.7 L400.2 1275.7 L401.2 1277.5 L402.2 1276.7 L403.2 1278.6 L404.2 1277.4 L405.2 1280.3 L406.2 1278.8 L407.2 1281.7 L408.2 1280.4 L409.2 1282.4 L410.2 1281.3 L411.2 1284.4 L412.2 1283.0 L413.2 1285.2 L413.9 1284.4 L414.2 1286.4 L415.2 1282.2 L416.2 1284.2 L417.2 1281.2 L417.3 1283.4 L418.2 1284.4 L419.2 1290.8 L420.2 1292.8 L420.8 1297.5 L421.2 1296.0 L422.2 1297.4 L423.2 1296.0 L424.2 1299.1 L425.2 1296.7 L426.2 1299.7 L427.2 1297.5 L428.2 1300.3 L429.2 1298.8 L430.0 1300.9 L430.2 1298.8 L431.2 1299.8 L432.2 1296.3 L433.2 1297.4 L434.2 1293.6 L434.6 1295.1 L435.2 1293.3 L436.2 1294.9 L437.2 1292.9 L438.2 1295.2 L439.2 1292.4 L440.2 1294.2 L441.2 1292.2 L441.6 1294.3 L442.2 1292.0 L443.2 1294.8 L444.2 1293.8 L445.2 1297.3 L446.2 1297.1 L446.2 1299.0 L447.2 1297.1 L448.2 1299.0 L449.2 1297.9 L450.2 1298.2 L451.2 1296.3 L452.2 1299.5 L453.1 1296.7 L453.2 1299.8 L454.2 1299.5 L455.2 1303.6 L456.2 1303.2 L457.2 1306.6 L458.2 1305.9 L459.2 1308.2 L460.2 1307.7 L461.2 1312.5 L462.2 1311.0 L462.4 1313.6 L463.2 1310.6 L464.2 1313.8 L465.2 1312.0 L466.2 1314.0 L467.2 1313.2 L468.2 1316.0 L469.2 1313.8 L469.3 1316.2 L470.2 1313.7 L471.2 1316.7 L472.2 1314.9 L473.2 1317.1 L474.2 1314.9 L475.2 1317.6 L476.2 1315.6 L477.2 1318.3 L478.2 1315.9 L478.5 1318.0 L479.2 1316.6 L480.2 1319.3 L481.2 1318.0 L482.2 1320.4 L483.2 1319.1 L484.2 1321.5 L485.2 1320.3 L486.2 1322.8 L487.2 1321.5 L487.8 1323.9 L488.2 1320.9 L489.2 1322.1 L490.2 1320.8 L491.2 1322.4 L492.2 1319.2 L492.4 1320.0 L493.2 1317.8 L494.2 1318.8 L495.2 1314.2 L496.2 1317.2 L497.0 1313.0 L497.2 1315.3 L498.2 1311.9 L499.2 1314.2 L500.2 1312.0 L501.2 1313.3 L501.6 1311.8 L502.2 1314.5 L503.2 1313.5 L504.2 1316.8 L505.2 1316.5 L506.2 1320.2 L507.2 1319.3 L508.2 1322.4 L508.6 1320.2 L509.2 1324.2 L510.2 1320.6 L511.2 1323.2 L512.2 1321.4 L513.2 1324.3 L514.2 1322.1 L515.2 1325.0 L515.5 1323.1 L516.2 1326.1 L517.2 1323.5 L518.2 1326.3 L519.2 1324.7 L520.1 1326.4 L520.2 1324.7 L521.2 1327.9 L522.2 1326.6 L523.2 1331.0 L524.2 1329.7 L525.2 1332.7 L526.2 1331.3 L527.0 1335.0 L527.2 1331.4 L528.2 1335.0 L529.2 1331.5 L530.2 1335.2 L531.2 1333.3 L532.2 1336.8 L533.2 1335.9 L534.0 1337.0 L534.2 1334.8 L535.2 1337.8 L536.2 1335.8 L537.2 1339.0 L538.2 1336.1 L539.2 1340.0 L540.2 1336.5 L541.2 1339.8 L542.2 1337.0 L543.2 1340.2 L544.2 1337.5 L545.2 1340.8 L545.5 1338.4 L546.2 1341.5 L547.2 1337.7 L548.2 1339.8 L549.2 1336.7 L550.2 1340.7 L551.2 1337.7 L552.2 1340.0 L552.4 1337.1 L553.2 1340.0 L554.2 1336.9 L555.2 1339.8 L556.2 1337.0 L557.2 1339.4 L558.2 1338.1 L559.2 1340.2 L560.2 1338.7 L561.2 1341.4 L561.7 1338.1 L562.2 1341.0 L563.2 1339.0 L564.2 1339.3 L565.2 1336.0 L566.2 1339.5 L567.2 1335.8 L568.2 1337.5 L569.2 1334.9 L570.2 1337.0 L570.9 1333.8 L571.2 1336.4 L572.2 1333.6 L573.2 1334.9 L574.2 1333.4 L575.2 1335.4 L576.2 1333.2 L577.2 1335.5 L578.2 1333.6 L579.2 1334.4 L580.1 1331.8 L580.2 1335.7 L581.2 1333.6 L582.2 1338.3 L583.2 1336.5 L584.2 1341.4 L584.8 1339.3 L585.2 1341.6 L586.2 1339.8 L587.2 1341.7 L588.2 1339.5 L589.2 1342.1 L590.2 1340.4 L591.2 1343.0 L592.2 1340.6 L593.2 1343.4 L594.2 1340.9 L595.2 1342.6 L596.2 1340.8 L596.3 1343.4 L597.2 1340.3 L598.2 1342.9 L599.2 1340.7 L600.2 1342.9 L601.2 1340.4 L602.2 1343.2 L603.2 1340.6 L604.2 1343.4 L605.2 1341.0 L606.2 1343.0 L607.2 1341.0 L607.9 1343.4 L608.2 1340.7 L609.2 1345.7 L610.2 1344.1 L611.2 1348.7 L612.2 1347.4 L613.2 1351.3 L614.2 1349.2 L615.2 1353.1 L616.2 1351.6 L617.1 1355.1 L617.2 1353.0 L618.2 1354.9 L619.2 1351.3 L620.2 1352.0 L621.2 1348.2 L621.7 1350.8 L622.2 1347.4 L623.2 1350.1 L624.2 1347.7 L625.2 1349.9 L626.2 1348.2 L627.2 1351.8 L628.2 1348.2 L629.2 1350.8 L630.2 1348.8 L631.0 1351.0 L631.2 1348.5 L632.2 1351.7 L633.2 1347.0 L634.2 1349.4 L635.2 1345.7 L636.2 1348.6 L637.2 1345.8 L637.9 1347.8 L638.2 1345.3 L639.2 1349.2 L640.2 1346.3 L641.2 1350.9 L642.2 1348.7 L643.2 1352.2 L644.2 1350.2 L645.2 1352.7 L646.2 1349.7 L647.2 1355.1 L648.2 1352.6 L649.2 1355.8 L649.4 1352.7 L650.2 1355.6 L651.2 1352.7 L652.2 1356.1 L653.2 1354.3 L654.2 1357.4 L655.2 1354.4 L656.2 1357.3 L657.2 1353.9 L658.2 1358.5 L658.7 1355.4 L659.2 1357.4 L660.2 1354.6 L661.2 1358.1 L662.2 1355.8 L663.2 1358.5 L664.2 1356.4 L665.2 1358.7 L666.2 1356.7 L667.2 1359.5 L667.9 1358.2 L668.2 1360.5 L669.2 1357.2 L670.2 1361.4 L671.2 1358.4 L672.2 1360.7 L673.2 1358.4 L674.2 1359.9 L675.2 1357.7 L676.2 1360.7 L677.1 1357.8 L677.2 1360.4 L678.2 1358.5 L679.2 1362.0 L680.2 1358.5 L681.2 1361.7 L682.2 1359.7 L683.2 1362.2 L684.1 1359.1 L684.2 1362.2 L685.2 1361.0 L686.2 1362.9 L687.2 1361.2 L688.2 1364.0 L689.2 1360.9 L690.2 1363.4 L691.0 1361.7 L691.2 1364.7 L692.2 1363.5 L693.2 1366.6 L694.2 1364.0 L695.2 1366.6 L696.2 1365.4 L696.9 1370.1 L697.2 1366.1 L698.2 1370.9 L699.2 1368.1 L700.2 1372.3 L701.2 1370.3 L702.2 1372.6 L703.2 1370.9 L703.9 1374.3 L704.2 1371.6 L705.2 1375.6 L706.2 1372.6 L707.2 1375.6 L708.2 1374.3 L709.2 1377.6 L710.2 1376.7 L711.2 1379.2 L712.2 1377.2 L713.1 1380.5 L713.2 1378.6 L714.2 1381.6 L715.2 1379.0 L716.2 1380.4 L717.2 1377.4 L718.2 1380.8 L719.2 1377.8 L720.2 1381.2 L721.2 1377.3 L722.2 1381.1 L722.3 1377.2 L723.2 1380.2 L724.2 1377.0 L725.2 1378.3 L726.2 1375.6 L727.2 1378.0 L728.2 1373.3 L729.2 1375.8 L729.3 1372.3 L730.2 1375.7 L731.2 1372.1 L732.2 1374.0 L733.2 1371.5 L734.2 1373.2 L735.2 1371.0 L736.2 1373.0 L737.2 1369.5 L738.2 1374.1 L739.2 1369.8 L740.2 1372.2 L740.8 1367.4 L741.2 1371.1 L742.2 1370.2 L743.2 1371.2 L744.2 1368.6 L745.2 1373.2 L746.2 1370.7 L747.2 1374.6 L748.2 1371.3 L749.2 1373.5 L750.0 1371.5 L750.2 1374.4 L751.2 1372.1 L752.2 1375.4 L753.2 1371.1 L754.2 1374.4 L755.2 1371.2 L756.2 1375.0 L757.0 1372.0 L757.2 1375.5 L758.2 1376.4 L759.2 1382.0 L759.3 1379.7 L760.2 1384.3 L761.2 1379.4 L762.2 1381.7 L763.2 1379.0 L764.2 1382.1 L765.2 1379.0 L766.2 1382.8 L767.2 1379.6 L768.2 1382.2 L768.5 1379.5 L769.2 1382.4 L770.2 1378.7 L771.2 1384.3 L772.2 1381.5 L773.2 1385.9 L774.2 1383.1 L775.2 1386.0 L776.2 1383.9 L777.2 1388.1 L777.8 1384.9 L778.2 1387.7 L779.2 1386.1 L780.2 1388.9 L781.2 1385.1 L782.2 1389.3 L783.2 1387.2 L784.2 1390.5 L785.2 1388.2 L786.2 1392.7 L787.0 1386.4 L787.2 1391.9 L788.2 1388.7 L789.2 1392.3 L790.2 1389.4 L791.2 1392.8 L792.2 1388.9 L793.2 1393.0 L794.2 1389.0 L795.2 1391.5 L796.2 1387.8 L797.2 1392.6 L798.2 1388.9 L799.2 1392.5 L800.2 1391.4 L800.9 1393.8 L801.2 1390.5 L802.2 1394.7 L803.2 1390.4 L804.2 1395.6 L805.2 1392.8 L806.2 1396.2 L807.2 1393.3 L808.2 1398.4 L809.2 1394.6 L810.1 1400.6 L810.2 1395.5 L811.2 1400.1 L812.2 1396.1 L813.2 1401.4 L814.2 1397.0 L815.2 1400.2 L816.2 1396.8 L817.2 1399.3 L818.2 1397.1 L819.2 1399.9 L820.2 1397.1 L821.2 1400.3 L822.2 1397.6 L823.2 1400.4 L824.0 1397.7 L824.2 1401.8 L825.2 1397.4 L826.2 1402.3 L827.2 1398.8 L828.2 1402.8 L829.2 1400.7 L830.2 1403.5 L831.2 1401.0 L832.2 1405.0 L833.2 1401.7 L833.2 1403.9 L834.2 1402.1 L835.2 1405.9 L836.2 1402.0 L837.2 1405.9 L838.2 1402.9 L839.2 1407.0 L840.2 1403.0 L841.2 1407.1 L842.2 1405.7 L843.2 1409.7 L844.2 1407.2 L845.2 1409.2 L846.2 1407.2 L847.0 1410.1 L847.2 1406.3 L848.2 1410.0 L849.2 1406.9 L850.2 1408.8 L851.2 1405.0 L852.2 1406.7 L853.2 1402.5 L854.0 1405.3 L854.2 1403.1 L855.2 1408.4 L856.2 1407.5 L857.2 1412.0 L858.2 1410.6 L858.6 1412.6 L859.2 1411.2 L860.2 1413.7 L861.2 1410.2 L862.2 1415.1 L863.2 1411.7 L864.2 1413.2 L865.2 1410.8 L866.2 1416.0 L867.2 1411.8 L868.2 1415.9 L869.2 1412.0 L870.2 1414.3 L871.2 1411.7 L872.2 1416.6 L872.5 1412.1 L873.2 1416.4 L874.2 1414.0 L875.2 1417.6 L876.2 1413.9 L877.2 1418.9 L878.2 1416.6 L879.2 1419.6 L880.2 1416.8 L881.2 1421.6 L882.2 1418.4 L883.2 1422.3 L884.2 1419.0 L885.2 1422.8 L886.2 1418.7 L886.3 1422.6 L887.2 1419.8 L888.2 1423.2 L889.2 1420.1 L890.2 1423.3 L891.2 1420.1 L892.2 1424.3 L893.2 1421.1 L894.2 1426.6 L895.2 1420.9 L896.2 1424.1 L897.2 1422.1 L897.9 1425.8 L898.2 1422.0 L899.2 1426.8 L900.2 1421.2 L901.2 1425.8 L902.2 1421.2 L903.2 1424.9 L904.2 1422.0 L905.2 1424.6 L906.2 1421.1 L907.2 1425.5 L908.2 1421.1 L909.2 1425.2 L909.4 1420.3 L910.2 1425.5 L911.2 1421.8 L912.2 1426.1 L913.2 1421.4 L914.2 1425.0 L915.2 1423.6 L916.2 1426.9 L917.2 1424.2 L918.2 1427.5 L919.2 1423.9 L920.2 1427.6 L921.0 1424.8 L921.2 1428.1 L922.2 1424.5 L923.2 1427.8 L924.2 1424.9 L925.2 1428.9 L926.2 1424.0 L927.2 1430.2 L928.2 1424.1 L929.2 1428.0 L930.2 1423.4 L931.2 1427.3 L932.2 1424.6 L932.5 1428.8 L933.2 1423.9 L934.2 1428.0 L935.2 1423.9 L936.2 1429.4 L937.2 1426.1 L938.2 1431.5 L939.2 1428.4 L940.2 1431.5 L941.2 1426.6 L942.2 1433.6 L943.2 1428.1 L944.0 1431.8 L944.2 1428.5 L945.2 1432.6 L946.2 1430.0 L947.2 1433.4 L948.2 1429.4 L949.2 1435.7 L950.2 1431.3 L951.2 1436.2 L952.2 1431.6 L953.2 1437.9 L954.2 1432.9 L955.2 1437.2 L955.6 1434.1 L956.2 1437.3 L957.2 1434.0 L958.2 1437.7 L959.2 1434.3 L960.2 1438.9 L961.2 1433.8 L962.2 1438.5 L963.2 1434.2 L964.2 1439.0 L965.2 1436.0 L966.2 1441.2 L967.1 1437.7 L967.2 1441.6 L968.2 1437.2 L969.2 1439.3 L970.2 1435.8 L971.2 1441.1 L972.2 1437.1 L973.2 1441.0 L974.2 1438.0 L975.2 1443.8 L976.2 1439.6 L977.2 1442.6 L978.2 1439.2 L979.2 1443.1 L980.2 1441.4 L981.0 1444.7 L981.2 1441.2 L982.2 1446.6 L983.2 1443.1 L984.2 1446.7 L985.2 1445.5 L986.2 1450.0 L987.2 1446.3 L988.2 1452.4 L989.2 1449.4 L990.2 1452.5 L991.2 1446.8 L992.2 1449.6 L993.2 1444.6 L993.9 1449.5 L994.2 1446.2 L995.2 1449.8 L996.2 1446.7 L997.2 1450.6 L998.2 1446.9 L999.2 1451.1 L1000.2 1446.9 L1001.2 1453.0 L1002.2 1448.2 L1003.1 1454.4 L1003.2 1449.0 L1004.2 1454.9 L1005.2 1449.5 L1006.2 1453.9 L1007.2 1449.7 L1008.2 1454.3 L1009.2 1451.7 L1010.2 1458.9 L1011.2 1452.2 L1012.2 1457.4 L1013.2 1454.2 L1014.2 1458.9 L1015.2 1456.7 L1016.2 1459.7 L1017.0 1457.9 L1017.2 1461.4 L1018.2 1458.5 L1019.2 1462.0 L1020.2 1457.5 L1021.2 1462.4 L1022.2 1459.8 L1023.2 1463.9 L1024.2 1459.9 L1025.2 1463.1 L1026.2 1459.6 L1026.2 1464.2 L1027.2 1459.1 L1028.2 1464.5 L1029.2 1460.9 L1030.2 1466.5 L1031.2 1461.5 L1032.2 1467.6 L1033.2 1461.7 L1034.2 1468.7 L1035.2 1464.9 L1036.2 1468.8 L1037.2 1465.5 L1038.2 1469.4 L1039.2 1462.0 L1040.0 1471.9 L1040.2 1466.1 L1041.2 1472.4 L1042.2 1466.4 L1043.2 1472.1 L1044.2 1466.5 L1045.2 1472.1 L1046.2 1468.4 L1047.2 1473.6 L1048.2 1470.7 L1049.2 1474.8 L1050.2 1471.7 L1051.2 1476.4 L1052.2 1468.6 L1053.2 1479.2 L1054.2 1472.5 L1055.2 1478.8 L1056.2 1469.7 L1056.2 1475.7 L1057.2 1471.0 L1058.2 1476.4 L1059.2 1471.4 L1060.2 1476.9 L1061.2 1472.6 L1062.2 1478.2 L1063.2 1473.9 L1064.2 1480.9 L1065.2 1473.0 L1066.2 1482.4 L1067.2 1476.6 L1068.2 1484.0 L1069.2 1477.3 L1070.2 1482.3 L1071.2 1479.0 L1072.2 1481.8 L1072.4 1476.9 L1073.2 1480.9 L1074.2 1476.6 L1075.2 1482.2 L1076.2 1478.0 L1077.2 1482.0 L1078.2 1476.2 L1079.2 1482.0 L1080.2 1475.0 L1081.2 1480.8 L1082.2 1475.3 L1083.2 1482.3 L1084.2 1477.4 L1085.2 1481.5 L1086.2 1476.4 L1087.2 1482.6 L1088.2 1479.7 L1089.2 1484.6 L1090.2 1477.1 L1091.2 1483.2 L1092.2 1477.8 L1093.2 1483.4 L1094.2 1477.8 L1095.2 1485.1 L1095.5 1476.5 L1096.2 1483.8 L1097.2 1479.6 L1098.2 1485.0 L1099.2 1481.0 L1100.2 1486.5 L1101.2 1480.8 L1102.2 1486.4 L1103.2 1480.5 L1104.2 1484.8 L1105.2 1479.8 L1106.2 1486.7 L1107.2 1480.1 L1108.2 1485.6 L1109.2 1480.1 L1110.2 1485.2 L1111.2 1479.0 L1112.2 1486.0 L1113.2 1479.5 L1114.2 1486.7 L1115.2 1481.2 L1116.2 1484.8 L1117.2 1477.7 L1118.2 1485.0 L1118.6 1476.3 L1119.2 1483.7 L1120.2 1477.9 L1121.2 1483.4 L1122.2 1478.6 L1123.2 1484.9 L1124.2 1479.8 L1125.2 1486.3 L1126.2 1478.8 L1127.2 1486.3 L1128.2 1479.9 L1129.2 1485.2 L1130.2 1481.0 L1131.2 1483.3 L1132.2 1480.7 L1133.2 1484.2 L1134.2 1480.9 L1135.2 1482.8 L1136.2 1478.2 L1137.2 1482.6 L1138.2 1477.8 L1139.2 1484.2 L1140.2 1479.1 L1141.2 1482.4 L1141.7 1478.7 L1142.2 1484.9 L1143.2 1475.4 L1144.2 1483.5 L1145.2 1477.8 L1146.2 1482.0 L1147.2 1475.9 L1148.2 1482.4 L1149.2 1476.7 L1150.2 1481.4 L1151.2 1474.6 L1152.2 1481.7 L1153.2 1473.0 L1154.2 1479.8 L1155.2 1472.4 L1156.2 1478.2 L1157.2 1474.1 L1157.8 1479.5 L1158.2 1473.7 L1159.2 1480.9 L1160.2 1475.6 L1161.2 1482.6 L1162.2 1475.6 L1163.2 1481.8 L1164.2 1476.9 L1165.2 1480.1 L1166.2 1474.7 L1167.2 1481.3 L1168.2 1478.2 L1169.2 1485.1 L1170.2 1481.3 L1171.2 1487.6 L1171.7 1480.0 L1172.2 1482.3 L1173.2 1478.2 L1174.2 1481.0 L1175.2 1474.2 L1176.2 1479.8 L1177.2 1472.1 L1178.2 1476.8 L1179.2 1471.5 L1180.2 1475.8 L1180.9 1469.8 L1181.2 1474.5 L1182.2 1469.1 L1183.2 1474.6 L1184.2 1469.9 L1185.2 1478.2 L1186.2 1473.4 L1187.2 1478.2 L1187.8 1471.4 L1188.2 1480.5 L1189.2 1475.2 L1190.2 1480.5 L1191.2 1475.4 L1192.2 1480.4 L1193.2 1477.2 L1194.2 1482.5 L1195.2 1475.7 L1196.2 1483.6 L1197.2 1477.5 L1198.2 1482.8 L1199.2 1478.2 L1200.2 1485.3 L1201.2 1480.1 L1201.7 1484.8 L1202.2 1478.5 L1203.2 1481.8 L1204.2 1476.1 L1205.2 1481.2 L1206.2 1477.9 L1207.2 1487.1 L1208.2 1475.2 L1209.2 1483.2 L1210.2 1479.2 L1211.0 1482.1 L1211.2 1475.7 L1212.2 1484.3 L1213.2 1480.2 L1214.2 1484.3 L1215.2 1479.8 L1216.2 1485.6 L1217.2 1481.8 L1217.9 1487.5" fill="none" stroke="#E81C18" stroke-width="3.9" stroke-linejoin="round"/>
<path d="M119.2 1203.9 L120.2 1204.1 L121.2 1204.3 L122.2 1204.4 L123.2 1204.6 L124.2 1204.8 L125.2 1204.9 L126.2 1205.1 L127.2 1205.3 L128.2 1205.4 L129.2 1205.6 L130.2 1205.8 L131.2 1205.9 L132.2 1206.1 L133.2 1206.3 L134.2 1206.4 L135.2 1206.6 L136.2 1206.8 L137.2 1206.9 L138.2 1207.1 L139.2 1207.3 L140.2 1207.4 L141.2 1207.6 L142.2 1207.8 L143.2 1207.9 L144.2 1208.1 L145.2 1208.3 L146.2 1208.4 L147.2 1208.6 L148.2 1208.8 L149.2 1208.9 L150.2 1209.1 L151.2 1209.3 L152.2 1209.4 L153.2 1209.6 L154.2 1209.8 L155.2 1209.9 L156.2 1210.1 L157.2 1210.3 L158.2 1210.4 L159.2 1210.6 L160.2 1210.8 L161.2 1210.9 L162.2 1211.1 L163.2 1211.3 L164.2 1211.4 L165.2 1211.6 L166.2 1211.8 L167.2 1211.9 L168.2 1212.1 L169.2 1212.3 L170.2 1212.4 L171.2 1212.6 L172.2 1212.8 L173.2 1212.9 L174.2 1213.1 L174.7 1213.2 L175.2 1212.9 L176.2 1212.5 L177.2 1212.0 L178.2 1211.6 L179.2 1211.2 L180.2 1210.7 L181.2 1210.3 L182.2 1209.8 L183.2 1209.4 L184.2 1209.0 L185.2 1208.5 L186.2 1208.1 L187.2 1207.7 L188.2 1207.2 L189.2 1206.8 L190.2 1206.3 L191.2 1205.9 L192.2 1205.5 L193.1 1205.1 L193.2 1205.1 L194.2 1205.5 L195.2 1205.9 L196.2 1206.2 L197.2 1206.6 L198.2 1207.0 L199.2 1207.4 L200.2 1207.7 L201.2 1208.1 L202.2 1208.5 L202.4 1208.5 L203.2 1209.1 L204.2 1209.8 L205.2 1210.5 L206.2 1211.1 L207.2 1211.8 L208.2 1212.5 L209.2 1213.1 L210.2 1213.8 L211.2 1214.5 L212.2 1215.1 L213.2 1215.8 L214.2 1216.5 L215.2 1217.1 L216.2 1217.8 L217.2 1219.0 L218.2 1220.2 L219.2 1221.4 L220.2 1222.5 L221.2 1223.7 L222.2 1224.9 L223.2 1226.1 L224.2 1227.3 L225.2 1228.5 L226.2 1229.7 L227.2 1230.9 L228.2 1232.0 L229.2 1233.2 L230.2 1234.4 L231.2 1235.6 L232.2 1236.8 L233.2 1238.0 L234.2 1239.2 L234.7 1239.7 L235.2 1239.2 L236.2 1238.3 L237.2 1237.4 L238.2 1236.5 L239.2 1235.6 L240.2 1234.7 L241.2 1233.8 L242.2 1232.9 L243.2 1232.0 L244.2 1231.1 L245.2 1230.2 L246.2 1229.3 L246.3 1229.3 L247.2 1230.1 L248.2 1230.8 L249.2 1231.6 L250.2 1232.3 L251.2 1233.1 L252.2 1233.8 L253.2 1234.6 L254.2 1235.3 L255.2 1236.1 L255.5 1236.2 L256.2 1235.8 L257.2 1235.2 L258.2 1234.6 L259.2 1233.8 L260.2 1233.3 L261.2 1232.6 L262.2 1232.2 L263.2 1231.3 L264.2 1230.9 L264.7 1230.4 L265.2 1231.1 L266.2 1231.9 L267.2 1233.0 L268.2 1233.9 L269.2 1235.1 L270.2 1235.9 L271.2 1237.1 L271.7 1237.2 L272.2 1237.6 L273.2 1237.6 L274.2 1237.9 L275.2 1237.8 L276.2 1238.5 L277.2 1238.2 L278.2 1238.8 L278.6 1238.5 L279.2 1237.3 L280.2 1234.4 L281.2 1232.6 L282.2 1229.9 L283.2 1228.0 L284.2 1225.2 L285.2 1223.2 L285.5 1222.3 L286.2 1222.9 L287.2 1222.7 L288.2 1223.4 L289.2 1223.2 L290.2 1223.6 L291.2 1223.4 L292.2 1224.3 L293.2 1224.0 L294.2 1224.7 L294.8 1224.2 L295.2 1223.2 L296.2 1219.5 L297.2 1217.0 L298.2 1212.9 L299.2 1210.0 L300.2 1206.2 L301.2 1203.5 L301.7 1201.1 L302.2 1195.9 L303.2 1183.8 L304.2 1173.0 L305.2 1160.8 L306.2 1150.0 L307.2 1137.8 L308.1 1128.4 L308.2 1128.5 L309.2 1140.4 L310.2 1150.8 L311.2 1162.4 L312.2 1173.0 L313.2 1184.6 L314.2 1194.6 L314.4 1197.3 L315.2 1199.3 L316.2 1203.0 L317.2 1205.5 L318.2 1209.2 L319.2 1211.8 L320.2 1215.6 L321.2 1217.9 L322.2 1222.1 L322.5 1221.9 L323.2 1222.4 L324.2 1221.9 L325.2 1222.4 L326.2 1221.5 L327.2 1221.9 L328.2 1220.9 L329.2 1221.9 L329.4 1220.8 L330.2 1221.8 L331.2 1220.7 L332.2 1221.3 L333.2 1220.5 L334.2 1220.9 L335.2 1220.0 L336.2 1221.0 L337.2 1220.0 L338.2 1220.4 L338.6 1219.7 L339.2 1220.3 L340.2 1218.8 L341.2 1219.2 L342.2 1217.9 L343.2 1218.4 L344.2 1216.7 L345.2 1217.3 L346.2 1215.8 L347.2 1216.2 L347.9 1215.1 L348.2 1216.3 L349.2 1215.8 L350.2 1217.3 L351.2 1217.3 L352.2 1218.7 L353.2 1218.7 L354.2 1220.0 L354.8 1220.0 L355.2 1221.0 L356.2 1222.1 L357.2 1224.5 L358.2 1225.5 L359.2 1227.9 L360.2 1228.9 L361.2 1231.4 L362.2 1232.5 L363.2 1234.9 L364.0 1235.7 L364.2 1236.4 L365.2 1236.5 L366.2 1237.8 L367.2 1237.3 L368.2 1239.3 L369.2 1239.2 L370.2 1240.6 L371.2 1240.5 L372.2 1241.8 L373.2 1241.6 L374.2 1243.1 L375.2 1242.6 L375.6 1243.9 L376.2 1237.8 L377.2 1230.7 L378.2 1221.4 L379.2 1214.6 L380.2 1205.9 L380.2 1207.0 L381.2 1211.1 L382.2 1217.7 L383.2 1221.8 L384.2 1228.1 L385.2 1232.3 L386.2 1238.9 L387.1 1243.0 L387.2 1242.7 L388.2 1235.8 L389.2 1231.0 L390.2 1224.1 L391.2 1219.0 L392.2 1212.5 L393.2 1207.1 L394.2 1200.5 L395.2 1195.9 L395.2 1194.6 L396.2 1203.8 L397.2 1210.9 L398.2 1220.4 L399.2 1227.8 L400.2 1237.4 L401.0 1242.6 L401.2 1243.8 L402.2 1244.1 L403.2 1246.0 L404.2 1245.8 L405.2 1248.1 L405.6 1247.3 L406.2 1246.6 L407.2 1242.7 L408.2 1240.7 L409.2 1236.6 L410.2 1234.8 L410.4 1233.5 L411.2 1232.5 L412.2 1229.5 L413.2 1228.7 L414.2 1225.7 L415.2 1224.7 L416.2 1221.8 L417.2 1221.0 L417.3 1219.7 L418.2 1219.5 L419.2 1216.7 L420.2 1216.2 L421.2 1213.6 L422.2 1212.8 L423.1 1210.3 L423.2 1211.8 L424.2 1214.0 L425.2 1217.7 L426.2 1219.7 L427.2 1224.4 L427.7 1224.6 L428.2 1225.3 L429.2 1224.0 L430.2 1224.5 L431.2 1223.1 L432.2 1223.5 L433.2 1222.2 L433.5 1222.6 L434.2 1223.1 L435.2 1226.7 L436.2 1227.6 L437.2 1231.4 L438.1 1231.9 L438.2 1232.9 L439.2 1231.5 L440.2 1232.0 L441.2 1230.1 L442.2 1230.5 L442.7 1228.0 L443.2 1225.4 L444.2 1216.3 L445.2 1209.7 L446.2 1201.1 L446.2 1202.4 L447.2 1209.3 L448.2 1219.1 L449.2 1225.4 L450.2 1234.3 L451.2 1241.4 L452.0 1248.1 L452.2 1246.9 L453.2 1246.4 L454.2 1244.8 L455.2 1244.9 L456.2 1242.0 L457.2 1242.2 L458.2 1240.2 L459.2 1239.8 L460.1 1238.1 L460.2 1239.1 L461.2 1238.7 L462.2 1240.6 L463.2 1240.0 L464.2 1241.7 L465.2 1241.4 L466.2 1243.2 L467.0 1242.5 L467.2 1244.3 L468.2 1244.9 L469.2 1247.5 L470.2 1247.9 L471.2 1250.2 L472.2 1250.6 L472.8 1252.7 L473.2 1250.1 L474.2 1248.1 L475.2 1243.7 L476.2 1241.9 L476.2 1240.3 L477.2 1239.9 L478.2 1237.6 L479.2 1237.3 L480.2 1234.3 L481.2 1234.4 L482.0 1232.3 L482.2 1235.0 L483.2 1240.0 L484.2 1246.9 L485.2 1251.3 L485.4 1254.1 L486.2 1253.3 L487.2 1254.8 L488.2 1252.9 L489.2 1254.5 L490.2 1253.4 L491.2 1254.5 L492.2 1253.5 L493.2 1254.5 L494.2 1253.8 L495.2 1255.4 L496.2 1253.6 L497.0 1255.0 L497.2 1254.1 L498.2 1256.4 L499.2 1256.9 L500.2 1259.2 L501.2 1259.2 L502.2 1261.6 L503.2 1261.5 L504.2 1264.4 L505.2 1264.6 L506.2 1267.3 L507.2 1264.6 L508.2 1265.1 L509.2 1262.9 L510.2 1263.0 L510.9 1261.1 L511.2 1263.5 L512.2 1265.6 L513.2 1269.5 L514.2 1271.5 L515.2 1275.8 L515.5 1275.2 L516.2 1275.1 L517.2 1273.3 L518.2 1273.0 L519.2 1271.0 L520.1 1271.6 L520.2 1270.9 L521.2 1274.2 L522.2 1275.1 L523.2 1278.2 L524.2 1278.7 L525.2 1281.7 L526.2 1282.8 L527.0 1285.7 L527.2 1284.1 L528.2 1285.6 L529.2 1284.3 L530.2 1285.3 L531.2 1283.9 L532.2 1285.2 L533.2 1284.1 L534.2 1285.3 L535.2 1284.1 L536.2 1285.2 L537.2 1284.2 L538.2 1285.5 L538.6 1284.0 L539.2 1285.6 L540.2 1284.0 L541.2 1285.1 L542.2 1283.7 L543.2 1285.1 L544.2 1284.3 L545.2 1285.4 L546.2 1283.7 L547.2 1285.0 L548.2 1284.0 L549.2 1285.5 L550.1 1284.2 L550.2 1285.9 L551.2 1283.7 L552.2 1284.5 L553.2 1282.8 L554.2 1283.9 L555.2 1282.9 L556.2 1284.6 L557.2 1283.3 L558.2 1284.3 L559.2 1281.6 L560.2 1283.4 L561.2 1281.6 L561.7 1284.0 L562.2 1281.7 L563.2 1282.5 L564.2 1280.9 L565.2 1281.5 L566.2 1279.8 L567.2 1281.2 L568.2 1278.5 L569.2 1279.6 L570.2 1277.6 L570.9 1278.9 L571.2 1277.1 L572.2 1278.9 L573.2 1276.8 L574.2 1278.9 L575.2 1277.3 L576.2 1278.7 L577.2 1276.8 L578.2 1278.7 L579.2 1276.8 L580.2 1278.6 L581.2 1277.3 L582.2 1278.1 L582.5 1277.1 L583.2 1279.0 L584.2 1278.7 L585.2 1281.3 L586.2 1280.8 L587.2 1283.7 L588.2 1283.5 L589.2 1285.6 L590.2 1284.4 L591.2 1287.5 L591.7 1286.4 L592.2 1288.2 L593.2 1286.4 L594.2 1288.3 L595.2 1286.6 L596.2 1289.0 L597.2 1287.3 L598.2 1289.1 L599.2 1287.2 L600.2 1289.4 L600.9 1287.8 L601.2 1289.6 L602.2 1285.6 L603.2 1285.9 L604.2 1283.5 L605.2 1283.6 L606.2 1280.6 L607.2 1281.3 L608.2 1278.5 L609.0 1279.4 L609.2 1278.7 L610.2 1282.9 L611.2 1284.4 L612.2 1289.5 L612.5 1288.8 L613.2 1290.3 L614.2 1287.8 L615.2 1289.5 L616.2 1287.3 L617.2 1288.7 L618.2 1286.8 L619.2 1288.2 L620.2 1286.8 L621.2 1288.8 L621.7 1286.2 L622.2 1287.0 L623.2 1285.3 L624.2 1286.8 L625.2 1283.8 L626.2 1285.3 L627.2 1283.3 L628.2 1284.2 L629.2 1282.6 L630.2 1283.7 L631.0 1281.6 L631.2 1283.5 L632.2 1281.2 L633.2 1282.2 L634.2 1280.1 L635.2 1281.7 L636.2 1278.1 L637.2 1280.1 L637.9 1278.6 L638.2 1280.7 L639.2 1279.3 L640.2 1282.2 L641.2 1281.4 L642.2 1283.7 L643.2 1282.8 L644.2 1286.4 L644.8 1284.5 L645.2 1286.5 L646.2 1283.8 L647.2 1286.1 L648.2 1283.6 L649.2 1285.2 L650.2 1283.4 L651.2 1284.1 L652.2 1283.0 L653.2 1283.9 L654.0 1281.8 L654.2 1283.9 L655.2 1282.6 L656.2 1283.9 L657.2 1282.8 L658.2 1285.5 L659.2 1283.6 L660.2 1286.2 L661.2 1284.8 L662.2 1286.1 L663.2 1284.6 L664.2 1287.2 L665.2 1286.1 L665.6 1287.9 L666.2 1286.4 L667.2 1288.3 L668.2 1286.8 L669.2 1288.6 L670.2 1287.2 L671.2 1289.6 L672.2 1288.0 L673.2 1290.4 L674.2 1288.4 L674.8 1290.7 L675.2 1288.0 L676.2 1289.4 L677.2 1286.7 L678.2 1288.2 L679.2 1284.9 L680.2 1286.7 L681.2 1283.7 L682.2 1284.8 L683.2 1282.7 L684.1 1283.8 L684.2 1281.9 L685.2 1285.0 L686.2 1283.6 L687.2 1286.2 L688.2 1284.7 L689.2 1288.1 L690.2 1286.8 L691.0 1290.6 L691.2 1289.0 L692.2 1292.4 L693.2 1291.8 L694.2 1295.4 L695.2 1295.1 L695.6 1297.6 L696.2 1294.4 L696.9 1295.8 L697.2 1294.4 L698.2 1296.5 L699.2 1296.0 L700.2 1299.7 L701.2 1298.7 L702.2 1302.4 L703.2 1300.1 L703.9 1303.4 L704.2 1302.1 L705.2 1304.3 L706.2 1302.7 L707.2 1304.8 L708.2 1303.6 L709.2 1306.6 L710.2 1304.4 L711.2 1307.0 L712.2 1305.4 L713.1 1307.6 L713.2 1304.7 L714.2 1307.4 L715.2 1305.2 L716.2 1308.2 L717.2 1304.7 L718.2 1308.2 L719.2 1306.6 L720.2 1307.8 L721.2 1306.9 L722.2 1308.9 L723.2 1306.3 L724.2 1308.6 L724.6 1306.0 L725.2 1307.6 L726.2 1304.6 L727.2 1308.2 L728.2 1306.7 L729.2 1307.9 L730.2 1305.4 L731.2 1307.4 L732.2 1305.1 L733.2 1308.6 L734.2 1305.7 L735.2 1307.1 L736.2 1305.4 L736.2 1307.4 L737.2 1305.6 L738.2 1307.5 L739.2 1306.6 L740.2 1308.8 L741.2 1307.4 L742.2 1309.1 L743.2 1307.3 L744.2 1311.0 L745.2 1308.2 L746.2 1310.8 L747.2 1309.1 L748.2 1311.4 L749.2 1309.2 L750.0 1312.0 L750.2 1309.5 L751.2 1312.9 L752.2 1311.7 L753.2 1314.5 L754.2 1313.7 L755.2 1317.1 L756.2 1315.6 L757.2 1318.5 L758.2 1317.0 L759.2 1320.5 L760.2 1319.5 L761.2 1322.2 L761.6 1320.5 L762.2 1322.4 L763.2 1321.0 L764.2 1324.2 L765.2 1321.8 L766.2 1323.9 L767.2 1322.2 L768.2 1325.7 L769.2 1323.0 L770.2 1324.9 L771.2 1323.9 L772.2 1325.8 L773.1 1324.9 L773.2 1327.2 L774.2 1325.7 L775.2 1328.1 L776.2 1325.8 L777.2 1329.0 L778.2 1326.5 L779.2 1329.2 L780.2 1327.4 L781.2 1329.8 L782.2 1327.6 L783.2 1330.0 L784.2 1327.6 L785.2 1330.8 L786.2 1328.1 L787.0 1330.4 L787.2 1328.6 L788.2 1330.9 L789.2 1328.7 L790.2 1331.9 L791.2 1330.2 L792.2 1332.7 L793.2 1329.9 L794.2 1333.2 L795.2 1331.2 L796.2 1334.3 L797.2 1331.7 L798.2 1334.1 L799.2 1331.8 L800.2 1335.6 L800.9 1332.6 L801.2 1334.6 L802.2 1332.5 L803.2 1334.7 L804.2 1331.1 L805.2 1332.1 L806.2 1329.6 L807.2 1332.1 L808.2 1328.5 L808.9 1330.7 L809.2 1329.4 L810.2 1334.0 L811.2 1333.1 L812.2 1336.8 L813.2 1335.8 L814.2 1339.2 L814.7 1338.0 L815.2 1340.4 L816.2 1337.9 L817.2 1341.0 L818.2 1339.5 L819.2 1342.6 L820.2 1340.4 L821.2 1344.1 L822.2 1341.8 L823.2 1345.7 L824.0 1343.4 L824.2 1345.8 L825.2 1343.0 L826.2 1346.5 L827.2 1344.2 L828.2 1345.8 L829.2 1344.9 L830.2 1347.4 L831.2 1344.5 L832.2 1347.3 L833.2 1345.8 L834.2 1348.3 L835.2 1345.3 L836.2 1348.7 L837.2 1346.4 L837.8 1349.5 L838.2 1347.4 L839.2 1349.6 L840.2 1347.3 L841.2 1350.6 L842.2 1348.2 L843.2 1350.8 L844.2 1348.5 L845.2 1351.2 L846.2 1349.1 L847.2 1352.7 L848.2 1350.4 L849.2 1354.7 L850.2 1352.2 L851.2 1354.7 L851.7 1352.6 L852.2 1355.3 L853.2 1353.3 L854.2 1355.1 L855.2 1354.0 L856.2 1355.2 L857.2 1353.5 L858.2 1355.8 L859.2 1354.8 L860.2 1357.3 L861.2 1354.8 L862.2 1357.0 L863.2 1355.2 L864.2 1358.9 L865.2 1356.4 L865.5 1357.4 L866.2 1356.4 L867.2 1357.8 L868.2 1355.5 L869.2 1356.9 L870.2 1355.5 L871.2 1357.6 L872.2 1354.5 L873.2 1356.8 L874.2 1354.9 L874.8 1356.4 L875.2 1354.7 L876.2 1357.4 L877.2 1355.6 L878.2 1359.3 L879.2 1358.1 L880.2 1361.1 L881.2 1359.6 L882.2 1362.7 L883.2 1359.2 L884.0 1362.1 L884.2 1359.8 L885.2 1363.6 L886.2 1360.4 L887.2 1364.0 L888.2 1362.2 L889.2 1365.2 L890.2 1364.0 L891.2 1366.3 L892.2 1364.1 L893.2 1366.1 L894.2 1364.5 L895.2 1367.3 L896.2 1364.9 L897.2 1368.2 L897.9 1365.7 L898.2 1368.2 L899.2 1366.9 L900.2 1370.0 L901.2 1367.9 L902.2 1370.8 L903.2 1369.0 L904.2 1370.9 L905.2 1368.4 L906.2 1370.4 L907.2 1368.1 L908.2 1371.9 L909.2 1369.2 L910.2 1373.1 L911.2 1371.0 L911.7 1373.5 L912.2 1370.7 L913.2 1374.3 L914.2 1372.2 L915.2 1375.4 L916.2 1372.6 L917.2 1375.2 L918.2 1373.6 L919.2 1375.8 L920.2 1372.1 L921.2 1375.5 L922.2 1373.3 L923.2 1376.2 L924.2 1374.1 L925.2 1377.4 L925.6 1375.1 L926.2 1377.7 L927.2 1375.7 L928.2 1379.8 L929.2 1376.4 L930.2 1377.9 L931.2 1375.6 L932.2 1379.4 L933.2 1375.8 L934.2 1378.8 L935.2 1377.0 L936.2 1379.2 L937.1 1376.9 L937.2 1379.6 L938.2 1376.1 L939.2 1378.6 L940.2 1376.2 L941.2 1378.7 L942.2 1375.5 L943.2 1379.2 L944.0 1373.0 L944.2 1377.0 L945.2 1373.7 L946.2 1376.3 L947.2 1373.1 L948.2 1375.7 L949.2 1373.0 L950.2 1376.5 L951.2 1373.2 L952.2 1375.9 L953.2 1373.0 L954.2 1376.4 L955.2 1372.7 L956.2 1376.4 L957.2 1374.6 L958.2 1375.9 L959.2 1372.7 L960.2 1375.6 L961.2 1371.9 L962.2 1374.9 L962.5 1373.2 L963.2 1375.5 L964.2 1373.2 L965.2 1375.7 L966.2 1372.2 L967.2 1375.2 L968.2 1371.3 L969.2 1373.4 L970.2 1370.1 L971.2 1374.0 L972.2 1371.5 L973.2 1374.3 L974.2 1371.4 L975.2 1373.1 L976.2 1370.8 L977.2 1372.1 L978.2 1369.4 L978.7 1373.6 L979.2 1368.8 L980.2 1368.6 L981.2 1361.5 L982.1 1360.5 L982.2 1357.6 L983.2 1366.4 L984.2 1368.5 L985.2 1375.7 L985.6 1375.0 L986.2 1377.9 L987.2 1375.5 L988.2 1379.9 L989.2 1376.2 L990.2 1380.1 L991.2 1378.4 L992.2 1381.5 L993.2 1379.5 L994.2 1383.1 L995.2 1379.0 L996.2 1383.7 L997.2 1381.0 L998.2 1385.2 L999.2 1382.5 L999.2 1383.9 L1000.2 1383.1 L1001.2 1385.5 L1002.2 1383.2 L1003.2 1386.9 L1004.2 1384.5 L1005.2 1387.8 L1006.2 1385.4 L1007.2 1388.9 L1008.2 1386.0 L1009.2 1388.9 L1010.2 1387.1 L1011.2 1390.8 L1012.2 1387.7 L1013.2 1391.2 L1014.2 1389.1 L1015.2 1392.1 L1016.2 1389.4 L1016.6 1393.6 L1017.2 1387.7 L1018.2 1388.0 L1019.2 1382.4 L1020.2 1382.5 L1020.4 1379.7 L1021.2 1382.0 L1022.2 1380.7 L1023.2 1383.7 L1024.2 1381.2 L1025.2 1385.3 L1026.2 1382.1 L1027.2 1387.7 L1028.2 1385.4 L1029.2 1388.2 L1030.2 1386.5 L1031.2 1390.2 L1032.2 1386.9 L1033.2 1391.2 L1033.9 1388.2 L1034.2 1391.7 L1035.2 1390.4 L1036.2 1394.3 L1037.2 1391.0 L1038.2 1394.9 L1039.2 1392.7 L1040.2 1396.2 L1041.2 1395.3 L1042.2 1398.6 L1043.2 1397.0 L1044.2 1402.1 L1045.2 1400.1 L1045.4 1402.9 L1046.2 1397.2 L1047.2 1399.4 L1048.2 1393.5 L1049.2 1394.4 L1050.2 1390.1 L1051.2 1390.2 L1051.2 1387.8 L1052.2 1393.4 L1053.2 1391.5 L1054.2 1397.2 L1055.2 1396.0 L1056.2 1401.7 L1057.2 1401.5 L1058.2 1406.7 L1058.9 1406.4 L1059.2 1408.4 L1060.2 1405.7 L1061.2 1407.4 L1062.2 1404.3 L1063.2 1407.4 L1064.2 1404.1 L1065.2 1406.5 L1066.2 1402.1 L1067.2 1404.5 L1068.2 1402.3 L1069.2 1403.5 L1070.2 1400.0 L1071.2 1402.6 L1072.2 1399.6 L1073.2 1401.5 L1074.2 1400.4 L1074.3 1403.0 L1075.2 1399.0 L1076.2 1403.7 L1077.2 1400.3 L1078.2 1404.3 L1079.2 1402.5 L1080.2 1406.4 L1081.2 1402.0 L1082.2 1406.8 L1083.2 1404.3 L1083.9 1407.6 L1084.2 1405.1 L1085.2 1408.7 L1086.2 1403.9 L1087.2 1408.1 L1088.2 1405.6 L1089.2 1409.2 L1090.2 1408.4 L1091.2 1412.0 L1092.2 1407.5 L1093.2 1412.5 L1094.2 1410.3 L1095.2 1413.0 L1096.2 1409.5 L1097.2 1413.4 L1098.2 1409.7 L1099.2 1414.4 L1099.3 1410.9 L1100.2 1415.0 L1101.2 1411.4 L1102.2 1414.8 L1103.2 1411.7 L1104.2 1413.8 L1105.2 1411.3 L1106.2 1414.4 L1107.0 1413.4 L1107.2 1416.8 L1108.2 1412.5 L1109.2 1415.8 L1110.2 1411.6 L1111.2 1413.5 L1112.2 1410.9 L1113.2 1414.2 L1114.2 1410.9 L1115.2 1413.4 L1116.2 1409.1 L1117.2 1412.4 L1118.2 1408.5 L1118.6 1412.4 L1119.2 1407.8 L1120.2 1411.3 L1121.2 1405.9 L1122.2 1409.3 L1123.2 1405.1 L1124.2 1407.9 L1125.2 1404.4 L1126.2 1405.7 L1127.2 1400.9 L1128.2 1403.2 L1129.2 1400.0 L1130.2 1401.9 L1131.2 1398.0 L1132.0 1400.5 L1132.2 1397.1 L1133.2 1399.4 L1134.2 1397.2 L1135.2 1400.0 L1136.2 1396.5 L1137.2 1398.5 L1138.2 1395.7 L1139.2 1399.7 L1140.2 1396.2 L1141.2 1399.2 L1142.2 1396.6 L1143.2 1399.2 L1144.2 1395.8 L1145.2 1398.3 L1146.2 1395.8 L1147.2 1399.5 L1147.4 1396.7 L1148.2 1399.9 L1149.2 1396.4 L1150.2 1399.3 L1151.2 1395.9 L1152.2 1397.2 L1153.2 1394.5 L1154.2 1397.9 L1155.2 1393.5 L1156.2 1398.0 L1157.1 1394.4 L1157.2 1397.3 L1158.2 1395.7 L1159.2 1400.3 L1160.2 1398.3 L1161.2 1403.0 L1162.2 1401.8 L1163.2 1406.0 L1164.2 1405.1 L1165.2 1408.2 L1166.2 1407.1 L1167.2 1411.6 L1168.2 1409.1 L1168.6 1413.7 L1169.2 1410.7 L1170.2 1415.5 L1171.2 1414.2 L1172.2 1418.8 L1173.2 1418.1 L1174.2 1421.0 L1174.4 1417.3 L1175.2 1420.4 L1176.2 1415.6 L1177.2 1417.4 L1178.2 1411.4 L1179.2 1412.3 L1180.2 1407.3 L1180.2 1411.1 L1181.2 1407.2 L1182.2 1407.7 L1183.2 1403.8 L1184.2 1405.9 L1185.2 1402.2 L1186.2 1404.4 L1187.2 1400.5 L1188.2 1402.1 L1189.2 1398.4 L1189.8 1401.7 L1190.2 1398.3 L1191.2 1401.0 L1192.2 1400.2 L1193.2 1404.6 L1194.2 1403.0 L1195.2 1406.6 L1196.2 1404.9 L1197.2 1408.8 L1198.2 1406.2 L1199.2 1411.0 L1199.4 1407.1 L1200.2 1412.1 L1201.2 1411.1 L1202.2 1415.8 L1203.2 1416.9 L1204.2 1421.9 L1205.2 1421.4 L1206.2 1425.3 L1207.2 1424.7 L1208.2 1431.1 L1209.2 1430.5 L1210.2 1436.1 L1211.0 1434.5 L1211.2 1438.3 L1212.2 1438.4 L1213.2 1444.7 L1214.2 1445.6 L1215.2 1451.7 L1216.2 1453.0 L1217.2 1458.9 L1218.2 1460.4 L1219.2 1466.5 L1219.6 1465.9" fill="none" stroke="#D0521D" stroke-width="3.6" stroke-linejoin="round"/>
<path d="M119.2 1194.0 L120.2 1193.8 L121.2 1194.7 L122.2 1194.5 L123.2 1195.5 L124.2 1195.3 L125.2 1196.3 L126.2 1196.1 L127.2 1197.3 L128.2 1196.8 L129.2 1198.1 L130.2 1197.9 L131.2 1198.9 L132.2 1199.0 L133.2 1200.1 L134.2 1199.7 L135.2 1200.9 L136.2 1200.4 L137.2 1201.5 L137.7 1201.1 L138.2 1201.9 L139.2 1201.9 L140.2 1202.9 L141.2 1202.6 L142.2 1203.8 L143.2 1203.6 L144.2 1204.6 L145.2 1204.2 L146.2 1205.6 L147.2 1204.3 L148.2 1205.9 L149.2 1205.4 L150.2 1206.9 L151.2 1206.4 L152.2 1207.5 L153.2 1207.0 L154.2 1208.4 L155.2 1208.0 L156.2 1208.8 L156.2 1208.1 L157.2 1209.2 L158.2 1208.7 L159.2 1209.8 L160.2 1209.5 L161.2 1210.6 L162.2 1210.5 L163.2 1211.3 L164.2 1211.4 L165.2 1212.3 L166.2 1211.8 L167.2 1213.2 L168.2 1213.0 L169.2 1214.1 L170.2 1213.5 L171.2 1214.4 L172.2 1214.1 L173.2 1215.2 L174.2 1214.7 L175.2 1216.2 L176.2 1215.6 L177.2 1217.0 L178.2 1216.4 L179.2 1217.7 L180.2 1217.0 L181.2 1218.1 L182.2 1217.8 L183.2 1218.8 L183.9 1218.5 L184.2 1218.7 L185.2 1216.2 L186.2 1215.1 L187.2 1212.5 L188.2 1211.1 L189.2 1208.1 L190.2 1207.6 L191.2 1204.9 L192.2 1203.7 L193.1 1201.3 L193.2 1201.9 L194.2 1200.8 L195.2 1201.5 L196.2 1200.3 L197.2 1201.6 L198.2 1200.0 L199.2 1200.9 L200.1 1199.6 L200.2 1200.8 L201.2 1201.9 L202.2 1204.7 L203.2 1205.9 L204.2 1208.8 L205.2 1209.6 L206.2 1212.5 L207.2 1213.5 L208.2 1216.5 L209.2 1217.5 L209.3 1218.4 L210.2 1216.6 L211.2 1216.8 L212.2 1215.3 L213.2 1215.1 L214.2 1213.7 L215.2 1213.7 L216.2 1212.0 L217.2 1212.3 L218.2 1210.2 L218.6 1211.6 L219.2 1210.9 L220.2 1212.4 L221.2 1212.0 L222.2 1213.1 L223.2 1212.8 L223.2 1214.0 L224.2 1215.2 L225.2 1218.2 L226.2 1219.5 L227.2 1222.6 L228.2 1223.7 L229.2 1226.5 L230.2 1227.6 L231.2 1230.9 L232.2 1232.0 L232.4 1232.9 L233.2 1231.3 L234.2 1231.0 L235.2 1229.2 L236.2 1228.9 L237.2 1227.0 L238.2 1226.7 L239.2 1224.8 L240.2 1224.3 L241.2 1222.5 L242.2 1222.0 L243.2 1220.0 L243.9 1220.4 L244.2 1219.6 L245.2 1222.0 L246.2 1221.9 L247.2 1223.9 L248.2 1224.0 L248.6 1225.2 L249.2 1223.7 L250.2 1222.3 L251.2 1220.2 L252.2 1219.3 L253.2 1217.3 L253.2 1218.6 L254.2 1217.4 L255.2 1219.2 L256.2 1218.0 L257.2 1219.4 L258.2 1218.5 L259.2 1219.8 L260.2 1219.0 L261.2 1220.4 L262.2 1219.6 L262.4 1220.1 L263.2 1218.5 L264.2 1218.7 L265.2 1217.3 L266.2 1217.3 L267.2 1215.8 L268.2 1215.5 L269.2 1214.0 L269.4 1215.0 L270.2 1214.4 L271.2 1215.3 L272.2 1214.8 L273.2 1216.2 L274.2 1215.5 L275.2 1216.8 L276.2 1216.1 L276.3 1216.9 L277.2 1216.3 L278.2 1217.9 L279.2 1216.7 L280.2 1218.7 L281.2 1217.9 L282.2 1219.5 L283.2 1218.6 L284.2 1220.1 L285.2 1219.6 L285.5 1220.4 L286.2 1220.3 L287.2 1222.3 L288.2 1221.9 L289.2 1223.9 L290.2 1223.5 L291.2 1225.6 L292.2 1225.5 L292.4 1226.2 L293.2 1223.3 L294.2 1222.0 L295.2 1218.6 L296.2 1217.3 L297.2 1213.9 L298.2 1212.2 L299.2 1209.2 L300.2 1207.6 L301.2 1204.2 L301.7 1204.4 L302.2 1200.7 L303.2 1197.0 L304.2 1191.1 L305.2 1187.0 L306.2 1181.8 L307.2 1177.7 L308.1 1172.4 L308.2 1173.6 L309.2 1177.5 L310.2 1183.2 L311.2 1186.8 L312.2 1193.1 L313.2 1196.5 L313.2 1197.3 L314.2 1199.2 L315.2 1203.3 L316.2 1205.3 L317.2 1209.6 L318.2 1211.4 L319.2 1215.3 L320.2 1217.3 L320.2 1218.7 L321.2 1220.6 L322.2 1223.8 L323.2 1225.1 L324.2 1229.4 L325.2 1231.2 L325.9 1234.4 L326.2 1233.0 L327.2 1232.9 L328.2 1229.8 L329.2 1229.3 L330.2 1226.7 L331.2 1226.0 L331.7 1224.1 L332.2 1227.8 L333.2 1230.4 L334.2 1235.8 L335.2 1238.2 L336.2 1243.3 L336.3 1242.6 L337.2 1242.4 L338.2 1240.3 L339.2 1240.5 L340.2 1238.1 L341.2 1237.6 L342.2 1235.2 L343.2 1235.0 L344.2 1233.1 L345.2 1232.9 L345.6 1231.4 L346.2 1233.3 L347.2 1232.8 L348.2 1234.4 L349.2 1234.0 L350.2 1236.1 L351.2 1235.1 L352.2 1237.1 L353.2 1236.5 L354.2 1238.3 L354.8 1237.6 L355.2 1238.3 L356.2 1236.2 L357.2 1235.0 L358.2 1232.9 L359.2 1232.3 L359.4 1230.6 L360.2 1235.1 L361.2 1237.5 L362.2 1242.2 L363.2 1244.4 L364.0 1248.7 L364.2 1246.8 L365.2 1248.4 L366.2 1247.5 L367.2 1249.0 L368.2 1248.0 L369.2 1249.0 L370.2 1248.3 L371.2 1249.2 L372.2 1248.0 L373.2 1249.1 L373.3 1248.1 L374.2 1249.7 L375.2 1250.0 L376.2 1252.0 L377.2 1251.9 L377.9 1253.5 L378.2 1249.3 L379.2 1241.8 L380.2 1231.6 L381.2 1224.6 L382.2 1215.2 L382.5 1213.8 L383.2 1218.0 L384.2 1227.1 L385.2 1233.1 L386.2 1241.6 L387.1 1247.5 L387.2 1248.0 L388.2 1243.1 L389.2 1240.6 L390.2 1235.2 L391.2 1232.2 L392.2 1226.4 L393.2 1224.1 L394.2 1218.0 L395.2 1216.0 L395.2 1214.6 L396.2 1219.4 L397.2 1221.0 L398.2 1226.2 L399.2 1227.4 L400.2 1232.4 L401.0 1233.2 L401.2 1235.7 L402.2 1237.1 L403.2 1241.1 L404.2 1242.6 L405.2 1247.3 L405.6 1246.9 L406.2 1249.0 L407.2 1248.5 L408.2 1250.2 L409.2 1250.1 L410.2 1252.0 L411.2 1251.3 L411.6 1253.1 L412.2 1250.6 L413.2 1249.8 L414.2 1246.5 L415.2 1245.9 L416.2 1242.3 L417.2 1241.5 L418.2 1238.3 L418.5 1239.7 L419.2 1237.0 L420.2 1238.4 L421.2 1236.1 L422.2 1237.2 L423.1 1235.4 L423.2 1237.2 L424.2 1241.5 L425.2 1248.5 L425.4 1247.8 L426.2 1248.7 L427.2 1247.9 L428.2 1249.2 L429.2 1247.7 L430.2 1247.9 L431.2 1246.6 L432.2 1247.5 L432.3 1246.6 L433.2 1247.8 L434.2 1247.2 L435.2 1249.4 L436.2 1248.8 L437.2 1250.5 L438.2 1250.2 L439.2 1252.5 L439.3 1250.8 L440.2 1252.0 L441.2 1250.6 L442.2 1251.4 L443.2 1249.8 L443.9 1251.3 L444.2 1245.8 L445.2 1236.5 L446.2 1223.4 L447.2 1214.3 L447.3 1211.5 L448.2 1223.7 L449.2 1234.0 L450.2 1246.1 L450.8 1252.0 L451.2 1253.7 L452.2 1253.1 L453.2 1255.3 L454.2 1254.6 L455.2 1256.3 L456.2 1256.3 L457.2 1257.6 L458.2 1256.9 L459.2 1259.6 L460.1 1258.5 L460.2 1260.6 L461.2 1259.2 L462.2 1260.8 L463.2 1259.2 L464.2 1261.4 L465.2 1260.3 L466.2 1261.7 L467.2 1260.5 L468.2 1262.6 L469.2 1260.8 L469.3 1262.8 L470.2 1261.4 L471.2 1263.7 L472.2 1263.0 L473.2 1264.9 L474.2 1264.3 L475.2 1266.2 L476.2 1265.4 L476.2 1266.6 L477.2 1259.6 L478.2 1254.9 L478.5 1251.4 L479.2 1255.4 L480.2 1256.6 L481.2 1261.1 L482.2 1262.3 L483.1 1267.5 L483.2 1265.4 L484.2 1267.2 L485.2 1265.4 L486.2 1266.7 L487.2 1264.1 L488.2 1265.7 L489.2 1263.6 L490.2 1265.9 L491.2 1263.9 L492.2 1264.9 L492.4 1263.9 L493.2 1265.8 L494.2 1264.3 L495.2 1265.7 L496.2 1264.8 L497.2 1266.7 L498.2 1264.5 L499.2 1266.4 L500.2 1265.1 L501.2 1266.8 L501.6 1265.5 L502.2 1267.8 L503.2 1266.8 L504.2 1268.6 L505.2 1267.4 L506.2 1269.7 L507.2 1268.3 L508.2 1270.7 L509.2 1269.5 L510.2 1272.4 L510.9 1271.1 L511.2 1273.4 L512.2 1272.5 L513.2 1275.1 L514.2 1274.2 L515.2 1276.7 L516.2 1275.6 L517.2 1278.5 L518.2 1277.3 L519.2 1280.3 L520.1 1278.9 L520.2 1280.9 L521.2 1279.3 L522.2 1281.1 L523.2 1279.5 L524.2 1282.5 L525.2 1280.7 L526.2 1283.2 L527.2 1281.0 L528.2 1283.5 L529.2 1281.4 L529.3 1283.2 L530.2 1282.0 L531.2 1284.0 L532.2 1282.4 L533.2 1285.3 L534.2 1283.5 L535.2 1285.1 L536.2 1284.1 L537.2 1285.8 L538.2 1285.2 L538.6 1287.3 L539.2 1285.6 L540.2 1287.5 L541.2 1286.1 L542.2 1288.1 L543.2 1285.8 L544.2 1288.6 L545.2 1286.9 L546.2 1288.4 L547.2 1287.5 L547.8 1289.4 L548.2 1287.7 L549.2 1289.6 L550.2 1286.9 L551.2 1290.3 L552.2 1288.5 L553.2 1291.0 L554.2 1288.1 L555.2 1290.7 L556.2 1288.7 L557.2 1291.2 L558.2 1289.9 L559.2 1292.1 L560.2 1290.8 L561.2 1292.1 L561.7 1290.9 L562.2 1293.6 L563.2 1290.9 L564.2 1293.1 L565.2 1291.2 L566.2 1293.5 L567.2 1291.4 L568.2 1293.8 L569.2 1292.0 L570.2 1294.8 L571.2 1292.2 L572.2 1294.9 L573.2 1293.0 L574.2 1295.1 L575.2 1292.3 L575.5 1295.4 L576.2 1292.7 L577.2 1295.2 L578.2 1292.8 L579.2 1294.8 L580.2 1292.4 L581.2 1294.9 L582.2 1291.7 L583.2 1294.3 L584.2 1291.4 L585.2 1293.7 L586.2 1291.6 L587.2 1293.1 L588.2 1290.8 L589.2 1293.4 L589.4 1290.4 L590.2 1292.8 L591.2 1291.1 L592.2 1293.3 L593.2 1290.6 L594.2 1293.5 L595.2 1291.9 L596.2 1294.0 L597.2 1292.4 L598.2 1294.6 L599.2 1292.2 L600.2 1295.5 L601.2 1292.2 L602.2 1295.0 L603.2 1293.8 L603.2 1296.0 L604.2 1293.8 L605.2 1295.4 L606.2 1293.8 L607.2 1295.3 L608.2 1293.5 L609.2 1296.8 L610.2 1294.0 L611.2 1296.7 L612.2 1294.3 L613.2 1296.9 L614.2 1293.6 L615.2 1296.6 L616.2 1293.6 L617.1 1296.0 L617.2 1294.4 L618.2 1296.3 L619.2 1294.2 L620.2 1296.8 L621.2 1294.8 L622.2 1296.6 L623.2 1294.6 L624.2 1297.8 L625.2 1294.8 L626.2 1296.2 L627.2 1294.3 L628.2 1296.8 L629.2 1293.5 L630.2 1297.0 L631.0 1294.4 L631.2 1298.0 L632.2 1294.2 L633.2 1296.1 L634.2 1291.7 L635.2 1292.6 L636.2 1289.6 L637.2 1291.1 L638.2 1288.0 L639.2 1289.3 L640.2 1286.0 L640.2 1288.7 L641.2 1289.7 L642.2 1294.4 L643.2 1295.9 L644.2 1299.4 L644.8 1298.8 L645.2 1302.3 L646.2 1299.9 L647.2 1303.9 L648.2 1299.5 L649.2 1304.0 L650.2 1302.3 L651.2 1304.2 L652.2 1302.0 L653.2 1305.4 L654.0 1302.7 L654.2 1305.6 L655.2 1303.4 L656.2 1306.7 L657.2 1303.9 L658.2 1306.3 L659.2 1304.5 L660.2 1307.1 L661.2 1303.8 L662.2 1306.5 L663.2 1303.6 L664.2 1307.3 L665.2 1305.0 L665.6 1307.4 L666.2 1303.3 L667.2 1305.4 L668.2 1303.6 L669.2 1305.0 L670.2 1302.5 L671.2 1304.5 L672.2 1302.1 L673.2 1304.9 L674.2 1302.0 L675.2 1303.1 L676.2 1301.4 L677.1 1303.1 L677.2 1300.9 L678.2 1303.3 L679.2 1300.4 L680.2 1302.7 L681.2 1300.5 L682.2 1302.6 L683.2 1299.5 L684.2 1302.2 L685.2 1299.8 L686.2 1302.9 L687.2 1300.2 L688.2 1303.0 L688.7 1300.5 L689.2 1302.7 L690.2 1299.8 L691.2 1302.3 L692.2 1301.1 L693.2 1304.5 L694.2 1302.1 L695.2 1305.4 L695.6 1302.1 L696.2 1305.3 L697.2 1303.0 L698.2 1306.3 L699.2 1304.6 L700.2 1307.3 L701.2 1305.0 L702.2 1308.2 L703.2 1304.9 L703.9 1307.2 L704.2 1304.7 L705.2 1306.9 L706.2 1304.5 L707.2 1307.5 L708.2 1305.5 L709.2 1308.2 L710.2 1305.5 L711.2 1308.9 L712.2 1305.5 L713.2 1309.9 L714.2 1308.2 L715.2 1310.7 L716.2 1307.3 L717.2 1311.1 L717.7 1307.9 L718.2 1311.1 L719.2 1309.9 L720.2 1313.0 L721.2 1310.1 L722.2 1313.6 L723.2 1310.8 L724.2 1314.3 L725.2 1312.2 L726.2 1315.1 L727.2 1314.1 L728.2 1317.8 L729.2 1315.2 L730.2 1319.5 L731.2 1315.8 L731.6 1319.1 L732.2 1317.6 L733.2 1321.2 L734.2 1319.2 L735.2 1322.0 L736.2 1320.3 L737.2 1323.2 L738.2 1321.7 L739.2 1324.7 L740.2 1322.9 L741.2 1328.2 L742.2 1325.9 L743.2 1329.9 L744.2 1325.8 L745.2 1331.2 L745.4 1328.6 L746.2 1332.3 L747.2 1329.0 L748.2 1332.2 L749.2 1329.8 L750.2 1333.2 L751.2 1331.4 L752.2 1334.6 L753.2 1332.5 L754.2 1336.4 L755.2 1333.4 L756.2 1336.9 L757.2 1334.4 L758.2 1338.2 L759.2 1334.8 L759.3 1338.1 L760.2 1336.2 L761.2 1339.4 L762.2 1337.1 L763.2 1340.5 L764.2 1337.7 L765.2 1340.1 L766.2 1337.7 L767.2 1341.1 L768.2 1338.9 L769.2 1342.4 L770.2 1339.1 L771.2 1341.8 L772.2 1338.8 L773.2 1343.4 L774.2 1340.8 L775.2 1343.2 L776.2 1340.7 L777.2 1343.6 L777.8 1342.0 L778.2 1346.0 L779.2 1342.2 L780.2 1347.3 L781.2 1342.1 L782.2 1345.9 L783.2 1343.4 L784.2 1348.9 L785.2 1346.3 L786.2 1349.0 L787.2 1346.5 L788.2 1351.2 L789.2 1348.1 L790.2 1351.0 L791.2 1349.0 L791.6 1352.5 L792.2 1349.3 L793.2 1353.5 L794.2 1349.5 L795.2 1354.9 L796.2 1350.2 L797.2 1354.4 L798.2 1351.1 L799.2 1355.0 L800.2 1351.2 L801.2 1354.4 L802.2 1351.8 L803.2 1355.1 L804.2 1352.9 L805.2 1356.9 L806.2 1354.0 L807.2 1356.8 L808.2 1354.7 L809.2 1358.6 L810.1 1355.8 L810.2 1359.1 L811.2 1355.9 L812.2 1361.1 L813.2 1357.0 L814.2 1359.4 L815.2 1357.5 L816.2 1361.2 L817.2 1358.1 L818.2 1362.0 L819.2 1357.9 L820.2 1359.7 L821.2 1358.2 L822.2 1361.8 L823.2 1357.9 L824.2 1361.1 L825.2 1357.6 L826.2 1362.6 L827.2 1359.2 L828.2 1362.8 L828.6 1359.2 L829.2 1363.1 L830.2 1359.6 L831.2 1363.5 L832.2 1360.8 L833.2 1364.0 L834.2 1362.4 L835.2 1366.1 L836.2 1363.1 L837.2 1365.7 L838.2 1363.6 L839.2 1367.0 L840.2 1364.2 L841.2 1368.1 L842.2 1364.6 L843.2 1368.8 L844.2 1365.6 L845.2 1370.0 L846.2 1366.8 L847.0 1370.2 L847.2 1366.8 L848.2 1371.0 L849.2 1367.9 L850.2 1370.8 L851.2 1367.6 L852.2 1371.6 L853.2 1368.4 L854.2 1372.6 L855.2 1370.0 L856.2 1373.0 L857.2 1370.9 L858.2 1374.1 L859.2 1371.3 L860.2 1375.2 L861.2 1371.8 L862.2 1376.6 L863.2 1372.3 L864.2 1377.1 L865.2 1373.8 L865.5 1376.1 L866.2 1373.3 L867.2 1376.5 L868.2 1372.8 L869.2 1376.6 L870.2 1373.5 L871.2 1378.5 L872.2 1374.9 L873.2 1378.0 L874.2 1372.8 L875.2 1376.6 L876.2 1372.8 L877.2 1376.5 L878.2 1372.4 L879.2 1375.7 L880.2 1373.0 L881.2 1376.3 L881.7 1372.6 L882.2 1376.3 L883.2 1373.7 L884.2 1376.8 L885.2 1372.8 L886.2 1379.2 L887.2 1374.9 L888.2 1379.8 L889.2 1376.1 L890.2 1380.2 L891.2 1376.7 L892.2 1379.0 L893.2 1375.3 L894.2 1380.1 L895.2 1376.3 L896.2 1379.4 L897.2 1376.4 L897.9 1380.6 L898.2 1377.6 L899.2 1382.8 L900.2 1379.8 L901.2 1383.8 L902.2 1380.1 L903.2 1383.6 L904.2 1380.9 L905.2 1384.5 L906.2 1380.8 L907.2 1385.3 L908.2 1381.4 L909.2 1386.2 L910.2 1382.1 L911.2 1388.9 L911.7 1382.6 L912.2 1387.3 L913.2 1384.4 L914.2 1387.1 L915.2 1383.3 L916.2 1388.1 L917.2 1384.1 L918.2 1389.2 L919.2 1386.0 L920.2 1390.1 L921.2 1385.2 L922.2 1389.5 L923.2 1385.6 L924.2 1390.3 L925.2 1387.3 L926.2 1391.4 L927.2 1387.4 L928.2 1392.8 L929.2 1388.9 L930.2 1391.9 L930.2 1388.0 L931.2 1390.6 L932.2 1388.8 L933.2 1390.9 L934.2 1388.7 L935.2 1391.8 L936.2 1389.7 L937.2 1393.0 L938.2 1389.0 L939.2 1394.2 L940.2 1390.5 L941.2 1394.3 L942.2 1390.0 L943.2 1395.3 L944.0 1392.5 L944.2 1395.9 L945.2 1391.6 L946.2 1395.1 L947.2 1391.2 L948.2 1395.8 L949.2 1391.2 L950.2 1396.5 L951.2 1392.7 L952.2 1396.9 L953.2 1395.3 L954.2 1398.5 L955.2 1395.2 L956.2 1398.9 L957.2 1393.5 L958.2 1399.3 L959.2 1395.8 L960.2 1399.9 L961.2 1395.4 L962.2 1399.4 L962.5 1396.5 L963.2 1399.5 L964.2 1396.7 L965.2 1399.7 L966.2 1396.7 L967.2 1397.8 L968.2 1394.4 L969.2 1398.9 L970.2 1393.2 L971.2 1397.6 L972.2 1396.4 L973.2 1400.6 L974.2 1395.9 L975.2 1399.4 L976.2 1394.6 L976.4 1399.4 L977.2 1394.5 L978.2 1398.6 L979.2 1395.5 L980.2 1396.5 L981.2 1392.6 L982.2 1398.4 L983.2 1392.7 L984.2 1398.6 L985.2 1395.0 L985.6 1398.6 L986.2 1393.4 L987.2 1399.0 L988.2 1395.2 L989.2 1398.6 L990.2 1395.6 L991.2 1399.9 L992.2 1396.2 L993.2 1400.2 L994.2 1397.4 L995.2 1400.7 L996.2 1397.0 L997.2 1403.1 L998.2 1400.6 L999.2 1403.6 L999.2 1399.3 L1000.2 1401.6 L1001.2 1400.4 L1002.2 1404.7 L1003.2 1401.4 L1004.2 1404.2 L1005.2 1399.0 L1006.2 1406.3 L1007.2 1401.6 L1008.2 1405.8 L1009.2 1402.3 L1010.2 1407.8 L1011.2 1403.8 L1012.2 1407.0 L1013.2 1403.8 L1014.2 1406.3 L1015.2 1401.4 L1016.2 1406.5 L1017.2 1403.6 L1018.2 1407.3 L1019.2 1403.1 L1020.2 1408.7 L1020.4 1404.1 L1021.2 1408.9 L1022.2 1406.2 L1023.2 1410.5 L1024.2 1407.4 L1025.2 1411.8 L1026.2 1409.3 L1027.2 1413.7 L1028.2 1410.3 L1029.2 1415.1 L1030.2 1413.1 L1031.2 1418.3 L1032.2 1413.9 L1033.2 1419.6 L1034.2 1416.4 L1035.2 1420.8 L1036.2 1416.8 L1037.2 1421.4 L1037.7 1417.9 L1038.2 1422.5 L1039.2 1418.5 L1040.2 1420.7 L1041.2 1416.9 L1042.2 1421.1 L1043.2 1414.9 L1044.2 1421.9 L1045.2 1416.6 L1046.2 1422.0 L1047.2 1417.8 L1048.2 1422.7 L1049.2 1416.6 L1050.2 1420.3 L1051.2 1415.3 L1052.2 1419.4 L1053.1 1414.7 L1053.2 1419.4 L1054.2 1416.2 L1055.2 1421.6 L1056.2 1419.5 L1057.2 1422.5 L1058.2 1420.9 L1059.2 1423.2 L1060.2 1420.4 L1061.2 1425.2 L1062.2 1420.8 L1062.8 1424.9 L1063.2 1420.2 L1064.2 1425.6 L1065.2 1419.2 L1066.2 1423.9 L1067.2 1419.8 L1068.2 1423.1 L1069.2 1419.0 L1070.2 1422.4 L1071.2 1417.9 L1072.2 1421.2 L1073.2 1417.5 L1074.2 1419.9 L1075.2 1414.0 L1076.2 1417.7 L1076.2 1413.4 L1077.2 1417.4 L1078.2 1414.3 L1079.2 1419.2 L1080.2 1414.7 L1081.2 1419.5 L1082.2 1414.8 L1083.2 1421.4 L1084.2 1418.7 L1085.2 1422.4 L1086.2 1418.5 L1087.2 1424.6 L1087.8 1420.6 L1088.2 1424.5 L1089.2 1422.3 L1090.2 1426.0 L1091.2 1422.6 L1092.2 1425.6 L1093.2 1423.6 L1094.2 1427.5 L1095.2 1423.6 L1096.2 1429.1 L1097.2 1425.2 L1098.2 1431.7 L1099.2 1426.7 L1100.2 1432.5 L1101.2 1429.1 L1102.2 1432.5 L1103.2 1426.9 L1103.2 1433.9 L1104.2 1429.6 L1105.2 1434.9 L1106.2 1431.6 L1107.2 1436.7 L1108.2 1433.1 L1109.2 1438.9 L1110.2 1434.1 L1111.2 1438.2 L1112.2 1436.1 L1113.2 1439.4 L1114.2 1435.9 L1115.2 1440.6 L1116.2 1437.0 L1117.2 1443.2 L1118.2 1438.9 L1118.6 1443.9 L1119.2 1439.8 L1120.2 1446.5 L1121.2 1441.0 L1122.2 1445.7 L1123.2 1443.8 L1124.2 1447.3 L1125.2 1443.9 L1126.2 1447.8 L1126.3 1444.2 L1127.2 1449.4 L1128.2 1447.4 L1129.2 1452.8 L1130.2 1449.1 L1131.2 1456.0 L1132.2 1453.5 L1133.2 1459.6 L1134.2 1457.7 L1135.2 1462.4 L1135.9 1460.8" fill="none" stroke="#772D88" stroke-width="3.6" stroke-linejoin="round"/>
<path d="M119.2 1219.0 L120.2 1218.7 L121.2 1218.8 L122.2 1218.4 L123.2 1218.4 L124.2 1218.2 L125.2 1218.3 L126.2 1217.8 L127.2 1217.9 L128.2 1217.5 L129.2 1217.5 L130.2 1217.3 L131.2 1217.2 L132.2 1216.9 L133.2 1217.0 L134.2 1216.6 L135.2 1216.6 L136.2 1216.3 L137.2 1216.4 L138.2 1216.1 L139.2 1216.1 L140.2 1215.8 L141.2 1215.7 L142.2 1215.5 L143.2 1215.5 L144.2 1215.2 L145.2 1215.2 L146.2 1214.8 L147.2 1215.0 L148.2 1214.6 L149.2 1214.6 L150.2 1214.3 L151.2 1214.3 L152.2 1214.0 L153.2 1214.0 L154.2 1213.7 L155.2 1213.8 L156.2 1213.5 L157.2 1213.5 L158.2 1213.1 L158.5 1213.3 L159.2 1214.1 L160.2 1215.7 L161.2 1216.8 L162.2 1218.4 L163.2 1219.6 L164.2 1221.2 L165.2 1222.3 L166.2 1223.9 L167.2 1225.2 L168.2 1226.7 L169.2 1227.8 L170.2 1229.4 L171.2 1230.5 L172.2 1232.2 L173.2 1233.3 L174.2 1235.0 L175.2 1236.0 L176.2 1237.6 L177.0 1238.4 L177.2 1239.0 L178.2 1239.6 L179.2 1240.7 L180.2 1241.4 L181.2 1242.7 L182.2 1243.3 L183.2 1244.5 L184.2 1245.0 L185.2 1246.3 L186.2 1246.9 L187.2 1248.1 L188.2 1248.8 L189.2 1250.0 L190.2 1250.6 L190.8 1251.4 L191.2 1251.3 L192.2 1251.7 L193.2 1251.5 L194.2 1251.9 L195.2 1251.9 L196.2 1252.2 L197.2 1252.1 L198.2 1252.5 L199.2 1252.3 L200.2 1252.8 L201.2 1252.6 L202.2 1253.1 L203.2 1252.9 L204.2 1253.4 L205.2 1253.2 L206.2 1253.6 L207.0 1253.5 L207.2 1253.8 L208.2 1253.9 L209.2 1254.6 L210.2 1254.5 L211.2 1255.2 L212.2 1255.3 L213.2 1256.0 L214.2 1256.1 L215.2 1256.7 L216.2 1256.9 L217.2 1257.5 L218.2 1257.5 L219.2 1258.3 L220.2 1258.4 L221.2 1259.2 L222.2 1259.1 L223.2 1259.8 L224.2 1259.9 L225.2 1260.5 L225.5 1260.4 L226.2 1260.2 L227.2 1259.6 L228.2 1259.3 L229.2 1258.4 L230.2 1258.3 L231.2 1257.4 L232.2 1257.3 L233.2 1256.5 L234.2 1256.4 L235.2 1255.6 L236.2 1255.4 L237.2 1254.5 L238.2 1254.4 L239.2 1253.6 L239.3 1253.6 L240.2 1252.7 L241.2 1252.4 L242.2 1251.4 L243.2 1251.1 L244.2 1250.0 L245.2 1249.7 L246.2 1248.7 L247.2 1248.3 L248.2 1247.4 L249.2 1247.1 L250.2 1246.2 L251.2 1245.7 L252.2 1244.9 L253.2 1244.4 L253.2 1244.3 L254.2 1245.4 L255.2 1245.8 L256.2 1247.0 L257.2 1247.4 L258.2 1248.6 L259.2 1248.9 L260.2 1250.0 L261.2 1250.6 L262.2 1251.7 L263.2 1252.2 L264.2 1253.3 L264.7 1253.4 L265.2 1253.9 L266.2 1254.0 L267.2 1254.5 L268.2 1254.3 L269.2 1255.1 L270.2 1255.1 L271.2 1255.6 L272.2 1255.7 L273.2 1256.2 L274.2 1256.2 L275.2 1256.8 L276.2 1256.7 L276.3 1257.2 L277.2 1257.4 L278.2 1258.2 L279.2 1258.4 L280.2 1259.1 L281.2 1259.3 L282.2 1260.3 L283.2 1260.4 L284.2 1261.1 L285.2 1261.4 L286.2 1262.2 L287.2 1262.1 L288.2 1263.0 L289.2 1263.2 L290.1 1264.0 L290.2 1263.6 L291.2 1263.7 L292.2 1262.8 L293.2 1263.0 L294.2 1262.1 L295.2 1262.1 L296.2 1261.2 L297.2 1261.3 L298.2 1260.4 L299.2 1260.4 L300.2 1259.5 L301.2 1259.7 L302.2 1258.7 L303.2 1258.9 L304.0 1258.1 L304.2 1257.3 L305.2 1252.8 L306.2 1249.2 L307.2 1244.6 L308.1 1241.3 L308.2 1241.0 L309.2 1244.8 L310.2 1247.4 L311.2 1250.9 L312.2 1253.4 L313.2 1257.4 L313.2 1256.8 L314.2 1257.4 L315.2 1257.1 L316.2 1257.7 L317.2 1257.2 L318.2 1258.2 L319.2 1258.0 L320.2 1258.7 L321.2 1258.3 L322.2 1259.1 L323.2 1258.4 L324.2 1259.3 L325.2 1258.9 L326.2 1259.5 L327.1 1258.8 L327.2 1259.2 L328.2 1257.5 L329.2 1256.9 L330.2 1254.9 L331.2 1254.2 L331.7 1253.2 L332.2 1254.2 L333.2 1254.7 L334.2 1256.8 L335.2 1257.1 L336.2 1259.0 L337.2 1259.9 L338.2 1261.9 L338.6 1261.6 L339.2 1262.2 L340.2 1261.2 L341.2 1261.9 L342.2 1260.3 L343.2 1260.7 L344.2 1259.7 L345.2 1260.1 L346.2 1259.1 L347.2 1259.4 L348.2 1258.2 L349.2 1259.0 L350.2 1257.4 L350.2 1258.5 L351.2 1254.8 L352.2 1253.7 L353.2 1250.2 L354.2 1248.5 L354.8 1245.9 L355.2 1247.5 L356.2 1248.0 L357.2 1250.7 L358.2 1250.9 L359.2 1253.9 L359.4 1253.3 L360.2 1251.6 L361.2 1248.0 L362.2 1245.9 L363.2 1241.8 L364.2 1239.8 L365.2 1235.4 L366.2 1233.3 L367.2 1229.3 L367.5 1229.7 L368.2 1232.7 L369.2 1239.2 L370.2 1243.4 L371.2 1249.3 L372.2 1252.9 L373.2 1259.8 L373.3 1259.0 L374.2 1260.2 L375.2 1258.9 L376.2 1260.0 L377.2 1258.9 L378.2 1259.4 L379.2 1258.6 L380.2 1259.7 L381.2 1258.9 L382.2 1260.0 L382.5 1258.7 L383.2 1261.1 L384.2 1261.1 L385.2 1264.5 L386.2 1264.6 L387.1 1267.2 L387.2 1265.6 L388.2 1265.6 L389.2 1263.5 L390.2 1263.8 L391.2 1261.2 L392.2 1261.8 L393.2 1259.6 L394.1 1259.9 L394.2 1258.4 L395.2 1262.5 L396.2 1262.9 L397.2 1266.5 L398.2 1266.7 L398.7 1269.4 L399.2 1268.3 L400.2 1270.5 L401.2 1269.8 L402.2 1271.6 L403.2 1269.5 L404.2 1272.0 L405.2 1271.8 L405.6 1273.1 L406.2 1272.4 L407.2 1274.7 L408.2 1273.8 L409.2 1276.1 L410.2 1273.6 L411.2 1273.7 L412.2 1270.9 L413.2 1271.5 L414.2 1268.7 L415.2 1268.8 L416.2 1266.3 L417.2 1266.5 L417.3 1264.4 L418.2 1268.2 L419.2 1267.9 L420.2 1271.6 L421.2 1270.2 L422.2 1274.6 L423.1 1274.5 L423.2 1276.2 L424.2 1274.6 L425.2 1277.6 L426.2 1275.5 L427.2 1278.1 L428.2 1276.3 L429.2 1278.5 L430.2 1277.5 L431.2 1279.7 L432.2 1277.4 L432.3 1279.7 L433.2 1275.0 L434.2 1273.9 L435.2 1269.5 L436.2 1268.0 L436.9 1264.5 L437.2 1266.7 L438.2 1265.4 L439.2 1268.6 L440.2 1269.6 L441.2 1272.2 L441.6 1270.5 L442.2 1271.8 L443.2 1268.5 L444.2 1269.0 L445.2 1266.4 L446.2 1267.1 L446.2 1265.8 L447.2 1268.8 L448.2 1268.7 L449.2 1272.3 L450.2 1272.5 L451.2 1276.0 L452.2 1275.2 L453.2 1278.9 L454.2 1277.4 L455.2 1281.7 L455.4 1280.2 L456.2 1282.4 L457.2 1279.7 L458.2 1281.9 L459.2 1278.5 L460.2 1281.5 L461.2 1278.8 L462.2 1279.8 L463.2 1276.1 L464.2 1278.4 L464.7 1275.9 L465.2 1278.4 L466.2 1272.8 L467.2 1273.4 L468.2 1269.1 L469.2 1269.9 L469.3 1267.3 L470.2 1271.6 L471.2 1270.0 L472.2 1274.4 L473.2 1272.3 L473.9 1276.6 L474.2 1274.0 L475.2 1276.7 L476.2 1274.8 L477.2 1279.4 L478.2 1277.3 L479.2 1280.9 L479.7 1279.3 L480.2 1277.3 L481.2 1265.0 L482.0 1260.8 L482.2 1257.4 L483.2 1259.5 L484.2 1255.0 L485.2 1258.7 L486.2 1255.4 L487.2 1257.0 L488.2 1253.6 L489.2 1255.5 L490.1 1252.6 L490.2 1255.7 L491.2 1252.9 L492.2 1256.6 L493.2 1253.6 L494.2 1256.3 L495.2 1255.2 L496.2 1257.9 L497.0 1255.7 L497.2 1258.4 L498.2 1258.3 L499.2 1262.7 L500.2 1262.3 L501.2 1267.0 L501.6 1265.4 L502.2 1269.6 L503.2 1266.7 L504.2 1270.6 L505.2 1268.1 L506.2 1273.1 L507.2 1270.5 L508.2 1273.7 L509.2 1271.5 L510.2 1275.3 L510.9 1273.4 L511.2 1275.7 L512.2 1274.4 L513.2 1277.1 L514.2 1274.9 L515.2 1278.6 L516.2 1277.2 L517.2 1279.5 L518.2 1278.0 L519.2 1282.0 L520.1 1278.8 L520.2 1282.0 L521.2 1278.8 L522.2 1284.7 L523.2 1282.8 L524.2 1286.3 L525.2 1285.0 L526.2 1287.4 L527.2 1285.2 L528.2 1290.3 L529.2 1287.2 L529.3 1291.4 L530.2 1288.4 L531.2 1291.2 L532.2 1289.4 L533.2 1293.0 L534.2 1289.6 L535.2 1293.1 L536.2 1290.0 L537.2 1293.0 L538.2 1290.0 L538.6 1293.5 L539.2 1291.0 L540.2 1293.5 L541.2 1289.2 L542.2 1293.4 L543.2 1289.5 L544.2 1293.8 L545.2 1289.9 L546.2 1292.9 L547.2 1289.6 L547.8 1294.0 L548.2 1290.9 L549.2 1294.5 L550.2 1291.8 L551.2 1296.2 L552.2 1294.7 L553.2 1299.6 L554.2 1296.1 L555.2 1301.4 L556.2 1298.5 L557.2 1303.3 L558.2 1301.0 L559.2 1304.3 L559.4 1300.4 L560.2 1304.3 L561.2 1299.7 L562.2 1302.6 L563.2 1298.9 L564.2 1300.3 L565.2 1295.8 L566.2 1299.1 L566.3 1294.5 L567.2 1299.3 L568.2 1294.6 L569.2 1298.4 L570.2 1295.8 L571.2 1298.4 L572.2 1295.2 L573.2 1299.4 L574.2 1294.4 L575.2 1297.2 L576.2 1293.3 L577.2 1297.7 L577.8 1294.1 L578.2 1298.8 L579.2 1295.6 L580.2 1298.2 L581.2 1293.9 L582.2 1299.3 L583.2 1292.1 L584.2 1297.9 L585.2 1293.2 L586.2 1296.1 L587.1 1291.3 L587.2 1295.3 L588.2 1292.0 L589.2 1293.4 L590.2 1286.9 L591.2 1291.0 L592.2 1285.5 L593.2 1290.9 L594.0 1282.9 L594.2 1287.4 L595.2 1285.4 L596.2 1292.7 L597.2 1291.0 L598.2 1296.8 L599.2 1294.8 L600.2 1299.1 L600.9 1296.5 L601.2 1302.3 L602.2 1296.7 L603.2 1299.8 L604.2 1294.1 L605.2 1296.0 L606.2 1292.2 L607.2 1295.2 L608.2 1290.4 L609.2 1293.8 L610.2 1287.3 L610.2 1294.4 L611.2 1288.4 L612.2 1294.8 L613.2 1290.5 L614.2 1298.0 L615.2 1293.1 L616.2 1300.7 L617.2 1297.5 L618.2 1302.5 L619.2 1298.1 L619.4 1304.1 L620.2 1297.8 L621.2 1303.2 L622.2 1299.2 L623.2 1305.0 L624.2 1300.8 L625.2 1306.7 L626.2 1303.3 L627.2 1307.8 L628.2 1301.7 L629.2 1308.1 L630.2 1303.3 L631.0 1308.4 L631.2 1303.3 L632.2 1309.7 L633.2 1304.0 L634.2 1309.4 L635.2 1304.3 L636.2 1311.2 L637.2 1306.2 L638.2 1312.8 L639.2 1306.8 L640.2 1313.8 L641.2 1307.2 L642.2 1314.8 L642.5 1308.2 L643.2 1314.6 L644.2 1310.0 L645.2 1316.6 L646.2 1313.9 L647.2 1318.9 L648.2 1316.3 L649.2 1322.2 L649.4 1312.9 L650.2 1319.8 L651.2 1311.7 L652.2 1320.1 L653.2 1314.6 L654.2 1322.2 L655.2 1313.8 L656.2 1320.5 L657.2 1312.5 L658.2 1316.2 L658.7 1313.3 L659.2 1318.1 L660.2 1310.2 L661.2 1317.1 L662.2 1308.0 L663.2 1311.8 L664.2 1306.0 L665.2 1309.9 L666.2 1304.9 L667.2 1311.5 L667.9 1304.2 L668.2 1308.3 L669.2 1304.5 L670.2 1311.0 L671.2 1304.9 L672.2 1310.9 L673.2 1301.5 L674.2 1308.4 L675.2 1304.8 L676.2 1309.7 L677.1 1302.6 L677.2 1310.3 L678.2 1306.9 L679.2 1314.2 L680.2 1310.2 L681.2 1318.0 L682.2 1316.8 L683.2 1320.6 L684.1 1317.9 L684.2 1322.5 L685.2 1313.4 L686.2 1320.7 L687.2 1314.1 L688.2 1314.6 L689.2 1305.5 L690.2 1313.3 L691.0 1303.9 L691.2 1311.5 L692.2 1303.0 L693.2 1310.9 L694.2 1306.0 L695.2 1311.7 L695.6 1304.7 L696.2 1317.5 L697.2 1305.5 L698.2 1312.0 L699.2 1305.9 L700.2 1316.9 L701.2 1308.3 L702.2 1314.1 L703.2 1307.3 L703.9 1315.1 L704.2 1306.1 L705.2 1315.1 L706.2 1306.0 L707.2 1315.7 L708.2 1307.0 L709.2 1316.9 L710.2 1309.2 L711.2 1316.3 L712.2 1309.4 L713.2 1315.4 L714.2 1310.6 L715.2 1319.7 L716.2 1311.7 L717.2 1317.3 L717.7 1309.6 L718.2 1314.9 L719.2 1302.6 L720.2 1313.4 L721.2 1304.2 L722.2 1313.8 L723.2 1304.5 L724.2 1317.4 L725.2 1307.0 L726.2 1311.9 L727.2 1302.9 L728.2 1313.6 L729.2 1302.9 L730.2 1309.8 L731.2 1303.2 L731.6 1310.2 L732.2 1301.5 L733.2 1312.2 L734.2 1303.8 L735.2 1311.7 L736.2 1301.7 L737.2 1309.4 L738.2 1302.3 L739.2 1310.3 L740.2 1299.6 L741.2 1312.0 L742.2 1302.9 L743.2 1310.8 L744.2 1302.5 L745.2 1316.1 L746.2 1305.9 L747.2 1314.2 L747.7 1308.1 L748.2 1315.2 L749.2 1308.3 L750.2 1313.6 L751.2 1306.6 L752.2 1318.6 L753.2 1312.0 L754.2 1320.9 L755.2 1310.2 L756.2 1326.6 L757.2 1316.8 L758.2 1325.5 L759.2 1315.2 L759.3 1324.0 L760.2 1316.3 L761.2 1327.9 L762.2 1320.4 L763.2 1327.4 L764.2 1322.3 L765.2 1330.1 L766.2 1321.4 L767.2 1331.4 L768.2 1325.1 L769.2 1335.0 L770.2 1328.0 L771.2 1342.1 L772.2 1327.8 L773.1 1337.6 L773.2 1330.3 L774.2 1338.1 L775.2 1331.8 L776.2 1339.6 L777.2 1332.2 L778.2 1340.0 L779.2 1331.0 L780.2 1340.5 L781.2 1329.6 L782.2 1340.0 L782.4 1332.6 L783.2 1343.1 L784.2 1332.0 L785.2 1341.0 L786.2 1334.8 L787.2 1341.5 L788.2 1332.8 L789.2 1343.9 L790.2 1335.6 L791.2 1346.1 L792.2 1337.9 L793.2 1350.6 L793.9 1343.3 L794.2 1350.5 L795.2 1342.1 L796.2 1353.1 L797.2 1346.0 L798.2 1357.1 L799.2 1349.5 L800.2 1356.9 L801.2 1348.9 L802.2 1361.4 L803.2 1351.7 L804.2 1361.3 L805.2 1356.8 L805.5 1361.6 L806.2 1346.1 L807.2 1364.6 L808.2 1354.8 L809.2 1359.7 L810.2 1350.8 L811.2 1364.0 L812.2 1345.5 L813.2 1360.2 L814.2 1347.9 L815.2 1360.9 L816.2 1345.2 L817.2 1357.3 L818.2 1350.7 L819.2 1362.1 L819.3 1350.1 L820.2 1354.6 L821.2 1351.3 L822.2 1357.9 L823.2 1351.6 L824.2 1359.4 L825.2 1349.2 L826.2 1358.0 L827.2 1347.9 L828.2 1360.7 L829.2 1351.8 L830.2 1355.5 L831.2 1343.2 L832.2 1356.8 L833.2 1349.7 L833.2 1359.3 L834.2 1348.7 L835.2 1357.8 L836.2 1350.5 L837.2 1358.7 L838.2 1347.9 L839.2 1359.8 L840.2 1350.5 L841.2 1361.1 L842.2 1349.1 L843.2 1361.4 L844.2 1348.9 L845.2 1358.7 L846.2 1352.6 L847.0 1362.4 L847.2 1350.6 L848.2 1361.3 L849.2 1349.7 L850.2 1363.0 L851.2 1355.0 L852.2 1365.6 L853.2 1357.4 L854.2 1369.3 L855.2 1366.8 L856.2 1378.5 L857.2 1366.4 L858.2 1379.4 L859.2 1367.1 L860.2 1383.1 L860.9 1365.1 L861.2 1377.7 L862.2 1369.3 L863.2 1380.2 L864.2 1371.7 L865.2 1385.5 L866.2 1375.7 L867.2 1386.5 L868.2 1376.7 L869.2 1387.9 L870.2 1378.8 L871.2 1392.9 L872.2 1377.9 L873.2 1393.5 L874.2 1384.0 L874.8 1393.6 L875.2 1380.6 L876.2 1396.9 L877.2 1382.3 L878.2 1396.4 L879.2 1382.3 L880.2 1399.1 L881.2 1380.9 L882.2 1393.4 L883.2 1381.5 L884.2 1391.7 L885.2 1382.2 L886.2 1393.2 L887.2 1381.0 L888.2 1398.4 L888.6 1392.0 L889.2 1396.4 L890.2 1380.5 L891.2 1394.1 L892.2 1385.5 L893.2 1394.8 L894.2 1387.1 L895.2 1403.2 L896.2 1386.1 L897.2 1401.5 L898.2 1386.7 L899.2 1396.2 L900.2 1389.3 L901.2 1400.3 L902.2 1393.1 L902.5 1407.3 L903.2 1391.4 L904.2 1405.4 L905.2 1393.4 L906.2 1404.0 L907.2 1395.2 L908.2 1409.1 L909.2 1392.9 L910.2 1406.7 L911.2 1389.7 L912.2 1407.6 L913.2 1389.5 L914.2 1405.6 L915.2 1396.9 L916.2 1404.8 L916.3 1392.9 L917.2 1406.6 L918.2 1397.6 L919.2 1410.0 L920.2 1392.0 L921.2 1404.8 L922.2 1387.2 L923.2 1404.2 L924.2 1395.9 L925.2 1409.4 L926.2 1397.1 L927.2 1409.5 L928.2 1397.4 L929.2 1409.4 L930.2 1401.5 L930.2 1413.2 L931.2 1400.8 L932.2 1413.6 L933.2 1394.6 L934.2 1407.4 L935.2 1400.3 L936.2 1414.0 L937.2 1401.0 L938.2 1412.0 L939.2 1400.1 L940.2 1414.0 L941.2 1402.7 L942.2 1412.4 L943.2 1402.2 L944.0 1411.9 L944.2 1401.7 L945.2 1415.5 L946.2 1398.4 L947.2 1414.5 L948.2 1403.8 L949.2 1413.9 L950.2 1405.0 L951.2 1418.5 L952.2 1402.3 L953.2 1419.0 L954.2 1406.3 L955.2 1419.6 L956.2 1403.2 L957.2 1416.9 L957.9 1403.0 L958.2 1420.7 L959.2 1402.6 L960.2 1415.7 L961.2 1404.1 L962.2 1415.7 L963.2 1402.6 L964.2 1409.5 L965.2 1399.8 L966.2 1410.0 L967.1 1394.8 L967.2 1406.9 L968.2 1397.9 L969.2 1413.0 L970.2 1397.0 L971.2 1413.1 L972.2 1401.8 L973.2 1418.8 L974.2 1407.1 L975.2 1423.9 L976.2 1405.3 L976.4 1419.4 L977.2 1412.0 L978.2 1422.0 L979.2 1406.7 L980.2 1425.2 L981.2 1406.1 L982.2 1427.3 L983.2 1414.8 L984.2 1421.6 L985.2 1404.2 L985.6 1431.3 L986.2 1413.5 L987.2 1430.8 L988.2 1418.2 L989.2 1426.4 L990.2 1415.6 L991.2 1429.2 L992.2 1414.0 L993.2 1426.5 L994.2 1415.4 L995.2 1433.1 L996.2 1417.0 L997.2 1431.8 L998.2 1412.6 L999.2 1429.5 L999.2 1416.1 L1000.2 1433.2 L1001.2 1417.9 L1002.2 1426.3 L1003.2 1414.9 L1004.2 1432.8 L1005.2 1412.2 L1006.2 1429.5 L1007.2 1418.0 L1008.2 1434.3 L1009.2 1416.8 L1010.2 1436.8 L1011.2 1415.1 L1012.2 1437.7 L1013.2 1416.7 L1014.2 1433.9 L1015.2 1414.3 L1016.2 1428.7 L1017.2 1414.3 L1018.2 1427.9 L1018.5 1418.8 L1019.2 1429.3 L1020.2 1416.8 L1021.2 1431.1 L1022.2 1418.3 L1023.2 1440.0 L1024.2 1426.3 L1025.2 1440.5 L1026.2 1427.4 L1027.2 1438.3 L1028.2 1422.5 L1029.2 1440.0 L1030.2 1422.1 L1031.2 1438.8 L1032.2 1419.7 L1033.2 1439.0 L1034.2 1421.5 L1035.2 1433.6 L1036.2 1422.4 L1037.2 1434.1 L1037.7 1418.2 L1038.2 1442.2 L1039.2 1427.7 L1040.2 1441.2 L1041.2 1427.4 L1042.2 1447.8 L1043.2 1428.2 L1044.2 1442.5 L1045.2 1430.8 L1046.2 1442.1 L1047.2 1425.1 L1047.4 1444.9 L1048.2 1431.8 L1049.2 1449.3 L1050.2 1430.6 L1051.2 1443.4 L1052.2 1422.6 L1053.2 1445.5 L1054.2 1425.3 L1055.2 1444.9 L1056.2 1429.3 L1057.0 1443.8 L1057.2 1427.1 L1058.2 1449.1 L1059.2 1433.7 L1060.2 1455.3 L1061.2 1437.7 L1062.2 1449.5 L1063.2 1442.7 L1064.2 1458.6 L1064.7 1440.1 L1065.2 1460.9 L1066.2 1445.3 L1067.2 1456.1 L1068.2 1431.4 L1069.2 1454.8 L1070.2 1428.2 L1071.2 1447.8 L1072.2 1433.5 L1073.2 1451.3 L1074.2 1430.6 L1075.2 1447.3 L1076.2 1430.5 L1076.2 1448.2 L1077.2 1428.0 L1078.2 1442.3 L1079.2 1427.0 L1080.2 1446.1 L1081.2 1427.8 L1082.2 1441.4 L1083.2 1425.1 L1084.2 1446.8 L1085.2 1425.5 L1086.2 1446.9 L1087.2 1423.3 L1088.2 1444.1 L1089.2 1423.8 L1090.2 1441.6 L1091.2 1421.0 L1092.2 1433.7 L1093.2 1422.4 L1094.2 1444.6 L1095.2 1429.8 L1095.5 1440.2 L1096.2 1412.4 L1097.2 1437.1 L1098.2 1422.5 L1099.2 1448.2 L1100.2 1423.5 L1101.2 1436.0 L1102.2 1426.7 L1103.2 1439.7 L1104.2 1427.7 L1105.2 1435.8 L1106.2 1419.7 L1107.2 1434.5 L1108.2 1418.7 L1109.2 1437.7 L1110.2 1417.3 L1111.2 1430.9 L1112.2 1418.4 L1113.2 1432.3 L1114.2 1413.1 L1114.7 1432.6 L1115.2 1416.1 L1116.2 1432.1 L1117.2 1411.7 L1118.2 1433.3 L1119.2 1403.6 L1120.2 1430.1 L1121.2 1416.5 L1122.2 1431.6 L1123.2 1425.5 L1124.2 1437.3 L1125.2 1415.4 L1126.2 1436.2 L1126.3 1419.5 L1127.2 1440.3 L1128.2 1421.7 L1129.2 1445.8 L1130.2 1421.3 L1131.2 1445.0 L1132.2 1427.6 L1133.2 1443.1 L1134.0 1428.4 L1134.2 1441.4 L1135.2 1429.5 L1136.2 1442.1 L1137.2 1423.0 L1138.2 1440.6 L1139.2 1430.1 L1140.2 1441.8 L1141.2 1422.0 L1142.2 1441.6 L1143.2 1421.6 L1143.6 1442.8 L1144.2 1424.1 L1145.2 1445.2 L1146.2 1432.4 L1147.2 1451.0 L1148.2 1437.2 L1149.2 1456.0 L1150.2 1428.2 L1151.2 1455.8 L1152.2 1436.3 L1153.2 1458.9 L1154.2 1438.6 L1155.2 1456.9 L1156.2 1439.1 L1157.1 1454.7 L1157.2 1437.8 L1158.2 1465.0 L1159.2 1458.0 L1160.2 1477.4 L1160.9 1463.3 L1161.2 1482.4 L1162.2 1455.3 L1163.2 1467.0 L1164.2 1444.8 L1165.2 1460.8 L1166.2 1444.6 L1166.7 1458.7 L1167.2 1441.8 L1168.2 1460.2 L1169.2 1430.6 L1170.2 1446.5 L1171.2 1414.8 L1172.2 1430.1 L1172.5 1412.2 L1173.2 1437.1 L1174.2 1432.7 L1175.2 1455.2 L1176.2 1452.0 L1176.3 1473.2 L1177.2 1444.3 L1178.2 1451.5 L1179.2 1428.6 L1180.2 1434.6 L1180.2 1421.8 L1181.2 1440.0 L1182.2 1424.9 L1183.2 1451.0 L1184.2 1437.2 L1185.2 1452.8 L1185.9 1438.0 L1186.2 1455.2 L1187.2 1442.9 L1188.2 1453.8 L1189.2 1440.3 L1190.2 1462.6 L1191.2 1451.1 L1191.7 1467.8 L1192.2 1449.4 L1193.2 1458.9 L1194.2 1445.8 L1195.2 1466.1 L1196.2 1440.7 L1197.2 1461.1 L1198.2 1449.2 L1199.2 1463.5 L1199.4 1444.9 L1200.2 1473.3 L1201.2 1446.0 L1202.2 1466.9 L1203.2 1449.9 L1204.2 1470.8 L1205.2 1446.8 L1206.2 1469.3 L1207.2 1456.4 L1208.2 1479.6 L1209.2 1453.3 L1210.2 1475.0 L1211.0 1461.4 L1211.2 1476.7 L1212.2 1459.1 L1213.2 1478.4 L1214.2 1474.1 L1215.2 1491.5 L1216.2 1481.7 L1217.2 1502.1 L1218.2 1485.7 L1218.7 1506.0" fill="none" stroke="#50B4E1" stroke-width="3.6" stroke-linejoin="round"/>
<line x1="119.40" y1="444.80" x2="131.90" y2="444.80" stroke="#474444" stroke-width="2"/>
<line x1="119.40" y1="363.86" x2="131.90" y2="363.86" stroke="#474444" stroke-width="2"/>
<line x1="119.40" y1="282.92" x2="131.90" y2="282.92" stroke="#474444" stroke-width="2"/>
<line x1="119.40" y1="201.98" x2="131.90" y2="201.98" stroke="#474444" stroke-width="2"/>
<line x1="119.40" y1="121.04" x2="131.90" y2="121.04" stroke="#474444" stroke-width="2"/>
<line x1="119.40" y1="40.10" x2="131.90" y2="40.10" stroke="#474444" stroke-width="2"/>
<line x1="119.40" y1="444.80" x2="119.40" y2="432.30" stroke="#474444" stroke-width="2"/>
<line x1="408.15" y1="444.80" x2="408.15" y2="432.30" stroke="#474444" stroke-width="2"/>
<line x1="696.90" y1="444.80" x2="696.90" y2="432.30" stroke="#474444" stroke-width="2"/>
<line x1="985.65" y1="444.80" x2="985.65" y2="432.30" stroke="#474444" stroke-width="2"/>
<line x1="1274.40" y1="444.80" x2="1274.40" y2="432.30" stroke="#474444" stroke-width="2"/>
<line x1="206.32" y1="444.80" x2="206.32" y2="438.30" stroke="#474444" stroke-width="2"/>
<line x1="257.17" y1="444.80" x2="257.17" y2="438.30" stroke="#474444" stroke-width="2"/>
<line x1="293.24" y1="444.80" x2="293.24" y2="438.30" stroke="#474444" stroke-width="2"/>
<line x1="321.23" y1="444.80" x2="321.23" y2="438.30" stroke="#474444" stroke-width="2"/>
<line x1="344.09" y1="444.80" x2="344.09" y2="438.30" stroke="#474444" stroke-width="2"/>
<line x1="363.42" y1="444.80" x2="363.42" y2="438.30" stroke="#474444" stroke-width="2"/>
<line x1="380.17" y1="444.80" x2="380.17" y2="438.30" stroke="#474444" stroke-width="2"/>
<line x1="394.94" y1="444.80" x2="394.94" y2="438.30" stroke="#474444" stroke-width="2"/>
<line x1="495.07" y1="444.80" x2="495.07" y2="438.30" stroke="#474444" stroke-width="2"/>
<line x1="545.92" y1="444.80" x2="545.92" y2="438.30" stroke="#474444" stroke-width="2"/>
<line x1="581.99" y1="444.80" x2="581.99" y2="438.30" stroke="#474444" stroke-width="2"/>
<line x1="609.98" y1="444.80" x2="609.98" y2="438.30" stroke="#474444" stroke-width="2"/>
<line x1="632.84" y1="444.80" x2="632.84" y2="438.30" stroke="#474444" stroke-width="2"/>
<line x1="652.17" y1="444.80" x2="652.17" y2="438.30" stroke="#474444" stroke-width="2"/>
<line x1="668.92" y1="444.80" x2="668.92" y2="438.30" stroke="#474444" stroke-width="2"/>
<line x1="683.69" y1="444.80" x2="683.69" y2="438.30" stroke="#474444" stroke-width="2"/>
<line x1="783.82" y1="444.80" x2="783.82" y2="438.30" stroke="#474444" stroke-width="2"/>
<line x1="834.67" y1="444.80" x2="834.67" y2="438.30" stroke="#474444" stroke-width="2"/>
<line x1="870.74" y1="444.80" x2="870.74" y2="438.30" stroke="#474444" stroke-width="2"/>
<line x1="898.73" y1="444.80" x2="898.73" y2="438.30" stroke="#474444" stroke-width="2"/>
<line x1="921.59" y1="444.80" x2="921.59" y2="438.30" stroke="#474444" stroke-width="2"/>
<line x1="940.92" y1="444.80" x2="940.92" y2="438.30" stroke="#474444" stroke-width="2"/>
<line x1="957.67" y1="444.80" x2="957.67" y2="438.30" stroke="#474444" stroke-width="2"/>
<line x1="972.44" y1="444.80" x2="972.44" y2="438.30" stroke="#474444" stroke-width="2"/>
<line x1="1072.57" y1="444.80" x2="1072.57" y2="438.30" stroke="#474444" stroke-width="2"/>
<line x1="1123.42" y1="444.80" x2="1123.42" y2="438.30" stroke="#474444" stroke-width="2"/>
<line x1="1159.49" y1="444.80" x2="1159.49" y2="438.30" stroke="#474444" stroke-width="2"/>
<line x1="1187.48" y1="444.80" x2="1187.48" y2="438.30" stroke="#474444" stroke-width="2"/>
<line x1="1210.34" y1="444.80" x2="1210.34" y2="438.30" stroke="#474444" stroke-width="2"/>
<line x1="1229.67" y1="444.80" x2="1229.67" y2="438.30" stroke="#474444" stroke-width="2"/>
<line x1="1246.42" y1="444.80" x2="1246.42" y2="438.30" stroke="#474444" stroke-width="2"/>
<line x1="1261.19" y1="444.80" x2="1261.19" y2="438.30" stroke="#474444" stroke-width="2"/>
<path d="M119.40 40.10 V444.80 H1274.40" fill="none" stroke="#474444" stroke-width="2.2"/>
<text transform="translate(113,455.40) scale(0.9,1)" text-anchor="end" class="tl">40</text>
<text transform="translate(113,374.46) scale(0.9,1)" text-anchor="end" class="tl">60</text>
<text transform="translate(113,293.52) scale(0.9,1)" text-anchor="end" class="tl">80</text>
<text transform="translate(113,212.58) scale(0.9,1)" text-anchor="end" class="tl">100</text>
<text transform="translate(113,131.64) scale(0.9,1)" text-anchor="end" class="tl">120</text>
<text transform="translate(113,50.70) scale(0.9,1)" text-anchor="end" class="tl">140</text>
<text transform="translate(119.30,487.60) scale(0.9,1)" text-anchor="middle" class="tl">10<tspan dy="-13.2" class="sup">-2</tspan></text>
<text transform="translate(408.05,487.60) scale(0.9,1)" text-anchor="middle" class="tl">10<tspan dy="-13.2" class="sup">-1</tspan></text>
<text transform="translate(696.80,487.60) scale(0.9,1)" text-anchor="middle" class="tl">10<tspan dy="-13.2" class="sup">0</tspan></text>
<text transform="translate(985.55,487.60) scale(0.9,1)" text-anchor="middle" class="tl">10<tspan dy="-13.2" class="sup">1</tspan></text>
<text transform="translate(1274.30,487.60) scale(0.9,1)" text-anchor="middle" class="tl">10<tspan dy="-13.2" class="sup">2</tspan></text>
<line x1="119.40" y1="980.10" x2="131.90" y2="980.10" stroke="#474444" stroke-width="2"/>
<line x1="119.40" y1="899.16" x2="131.90" y2="899.16" stroke="#474444" stroke-width="2"/>
<line x1="119.40" y1="818.22" x2="131.90" y2="818.22" stroke="#474444" stroke-width="2"/>
<line x1="119.40" y1="737.28" x2="131.90" y2="737.28" stroke="#474444" stroke-width="2"/>
<line x1="119.40" y1="656.34" x2="131.90" y2="656.34" stroke="#474444" stroke-width="2"/>
<line x1="119.40" y1="575.40" x2="131.90" y2="575.40" stroke="#474444" stroke-width="2"/>
<line x1="119.40" y1="980.10" x2="119.40" y2="967.60" stroke="#474444" stroke-width="2"/>
<line x1="408.15" y1="980.10" x2="408.15" y2="967.60" stroke="#474444" stroke-width="2"/>
<line x1="696.90" y1="980.10" x2="696.90" y2="967.60" stroke="#474444" stroke-width="2"/>
<line x1="985.65" y1="980.10" x2="985.65" y2="967.60" stroke="#474444" stroke-width="2"/>
<line x1="1274.40" y1="980.10" x2="1274.40" y2="967.60" stroke="#474444" stroke-width="2"/>
<line x1="206.32" y1="980.10" x2="206.32" y2="973.60" stroke="#474444" stroke-width="2"/>
<line x1="257.17" y1="980.10" x2="257.17" y2="973.60" stroke="#474444" stroke-width="2"/>
<line x1="293.24" y1="980.10" x2="293.24" y2="973.60" stroke="#474444" stroke-width="2"/>
<line x1="321.23" y1="980.10" x2="321.23" y2="973.60" stroke="#474444" stroke-width="2"/>
<line x1="344.09" y1="980.10" x2="344.09" y2="973.60" stroke="#474444" stroke-width="2"/>
<line x1="363.42" y1="980.10" x2="363.42" y2="973.60" stroke="#474444" stroke-width="2"/>
<line x1="380.17" y1="980.10" x2="380.17" y2="973.60" stroke="#474444" stroke-width="2"/>
<line x1="394.94" y1="980.10" x2="394.94" y2="973.60" stroke="#474444" stroke-width="2"/>
<line x1="495.07" y1="980.10" x2="495.07" y2="973.60" stroke="#474444" stroke-width="2"/>
<line x1="545.92" y1="980.10" x2="545.92" y2="973.60" stroke="#474444" stroke-width="2"/>
<line x1="581.99" y1="980.10" x2="581.99" y2="973.60" stroke="#474444" stroke-width="2"/>
<line x1="609.98" y1="980.10" x2="609.98" y2="973.60" stroke="#474444" stroke-width="2"/>
<line x1="632.84" y1="980.10" x2="632.84" y2="973.60" stroke="#474444" stroke-width="2"/>
<line x1="652.17" y1="980.10" x2="652.17" y2="973.60" stroke="#474444" stroke-width="2"/>
<line x1="668.92" y1="980.10" x2="668.92" y2="973.60" stroke="#474444" stroke-width="2"/>
<line x1="683.69" y1="980.10" x2="683.69" y2="973.60" stroke="#474444" stroke-width="2"/>
<line x1="783.82" y1="980.10" x2="783.82" y2="973.60" stroke="#474444" stroke-width="2"/>
<line x1="834.67" y1="980.10" x2="834.67" y2="973.60" stroke="#474444" stroke-width="2"/>
<line x1="870.74" y1="980.10" x2="870.74" y2="973.60" stroke="#474444" stroke-width="2"/>
<line x1="898.73" y1="980.10" x2="898.73" y2="973.60" stroke="#474444" stroke-width="2"/>
<line x1="921.59" y1="980.10" x2="921.59" y2="973.60" stroke="#474444" stroke-width="2"/>
<line x1="940.92" y1="980.10" x2="940.92" y2="973.60" stroke="#474444" stroke-width="2"/>
<line x1="957.67" y1="980.10" x2="957.67" y2="973.60" stroke="#474444" stroke-width="2"/>
<line x1="972.44" y1="980.10" x2="972.44" y2="973.60" stroke="#474444" stroke-width="2"/>
<line x1="1072.57" y1="980.10" x2="1072.57" y2="973.60" stroke="#474444" stroke-width="2"/>
<line x1="1123.42" y1="980.10" x2="1123.42" y2="973.60" stroke="#474444" stroke-width="2"/>
<line x1="1159.49" y1="980.10" x2="1159.49" y2="973.60" stroke="#474444" stroke-width="2"/>
<line x1="1187.48" y1="980.10" x2="1187.48" y2="973.60" stroke="#474444" stroke-width="2"/>
<line x1="1210.34" y1="980.10" x2="1210.34" y2="973.60" stroke="#474444" stroke-width="2"/>
<line x1="1229.67" y1="980.10" x2="1229.67" y2="973.60" stroke="#474444" stroke-width="2"/>
<line x1="1246.42" y1="980.10" x2="1246.42" y2="973.60" stroke="#474444" stroke-width="2"/>
<line x1="1261.19" y1="980.10" x2="1261.19" y2="973.60" stroke="#474444" stroke-width="2"/>
<path d="M119.40 575.40 V980.10 H1274.40" fill="none" stroke="#474444" stroke-width="2.2"/>
<text transform="translate(113,990.70) scale(0.9,1)" text-anchor="end" class="tl">40</text>
<text transform="translate(113,909.76) scale(0.9,1)" text-anchor="end" class="tl">60</text>
<text transform="translate(113,828.82) scale(0.9,1)" text-anchor="end" class="tl">80</text>
<text transform="translate(113,747.88) scale(0.9,1)" text-anchor="end" class="tl">100</text>
<text transform="translate(113,666.94) scale(0.9,1)" text-anchor="end" class="tl">120</text>
<text transform="translate(113,586.00) scale(0.9,1)" text-anchor="end" class="tl">140</text>
<text transform="translate(119.30,1022.90) scale(0.9,1)" text-anchor="middle" class="tl">10<tspan dy="-13.2" class="sup">-2</tspan></text>
<text transform="translate(408.05,1022.90) scale(0.9,1)" text-anchor="middle" class="tl">10<tspan dy="-13.2" class="sup">-1</tspan></text>
<text transform="translate(696.80,1022.90) scale(0.9,1)" text-anchor="middle" class="tl">10<tspan dy="-13.2" class="sup">0</tspan></text>
<text transform="translate(985.55,1022.90) scale(0.9,1)" text-anchor="middle" class="tl">10<tspan dy="-13.2" class="sup">1</tspan></text>
<text transform="translate(1274.30,1022.90) scale(0.9,1)" text-anchor="middle" class="tl">10<tspan dy="-13.2" class="sup">2</tspan></text>
<line x1="119.40" y1="1514.80" x2="131.90" y2="1514.80" stroke="#474444" stroke-width="2"/>
<line x1="119.40" y1="1433.86" x2="131.90" y2="1433.86" stroke="#474444" stroke-width="2"/>
<line x1="119.40" y1="1352.92" x2="131.90" y2="1352.92" stroke="#474444" stroke-width="2"/>
<line x1="119.40" y1="1271.98" x2="131.90" y2="1271.98" stroke="#474444" stroke-width="2"/>
<line x1="119.40" y1="1191.04" x2="131.90" y2="1191.04" stroke="#474444" stroke-width="2"/>
<line x1="119.40" y1="1110.10" x2="131.90" y2="1110.10" stroke="#474444" stroke-width="2"/>
<line x1="119.40" y1="1514.80" x2="119.40" y2="1502.30" stroke="#474444" stroke-width="2"/>
<line x1="408.15" y1="1514.80" x2="408.15" y2="1502.30" stroke="#474444" stroke-width="2"/>
<line x1="696.90" y1="1514.80" x2="696.90" y2="1502.30" stroke="#474444" stroke-width="2"/>
<line x1="985.65" y1="1514.80" x2="985.65" y2="1502.30" stroke="#474444" stroke-width="2"/>
<line x1="1274.40" y1="1514.80" x2="1274.40" y2="1502.30" stroke="#474444" stroke-width="2"/>
<line x1="206.32" y1="1514.80" x2="206.32" y2="1508.30" stroke="#474444" stroke-width="2"/>
<line x1="257.17" y1="1514.80" x2="257.17" y2="1508.30" stroke="#474444" stroke-width="2"/>
<line x1="293.24" y1="1514.80" x2="293.24" y2="1508.30" stroke="#474444" stroke-width="2"/>
<line x1="321.23" y1="1514.80" x2="321.23" y2="1508.30" stroke="#474444" stroke-width="2"/>
<line x1="344.09" y1="1514.80" x2="344.09" y2="1508.30" stroke="#474444" stroke-width="2"/>
<line x1="363.42" y1="1514.80" x2="363.42" y2="1508.30" stroke="#474444" stroke-width="2"/>
<line x1="380.17" y1="1514.80" x2="380.17" y2="1508.30" stroke="#474444" stroke-width="2"/>
<line x1="394.94" y1="1514.80" x2="394.94" y2="1508.30" stroke="#474444" stroke-width="2"/>
<line x1="495.07" y1="1514.80" x2="495.07" y2="1508.30" stroke="#474444" stroke-width="2"/>
<line x1="545.92" y1="1514.80" x2="545.92" y2="1508.30" stroke="#474444" stroke-width="2"/>
<line x1="581.99" y1="1514.80" x2="581.99" y2="1508.30" stroke="#474444" stroke-width="2"/>
<line x1="609.98" y1="1514.80" x2="609.98" y2="1508.30" stroke="#474444" stroke-width="2"/>
<line x1="632.84" y1="1514.80" x2="632.84" y2="1508.30" stroke="#474444" stroke-width="2"/>
<line x1="652.17" y1="1514.80" x2="652.17" y2="1508.30" stroke="#474444" stroke-width="2"/>
<line x1="668.92" y1="1514.80" x2="668.92" y2="1508.30" stroke="#474444" stroke-width="2"/>
<line x1="683.69" y1="1514.80" x2="683.69" y2="1508.30" stroke="#474444" stroke-width="2"/>
<line x1="783.82" y1="1514.80" x2="783.82" y2="1508.30" stroke="#474444" stroke-width="2"/>
<line x1="834.67" y1="1514.80" x2="834.67" y2="1508.30" stroke="#474444" stroke-width="2"/>
<line x1="870.74" y1="1514.80" x2="870.74" y2="1508.30" stroke="#474444" stroke-width="2"/>
<line x1="898.73" y1="1514.80" x2="898.73" y2="1508.30" stroke="#474444" stroke-width="2"/>
<line x1="921.59" y1="1514.80" x2="921.59" y2="1508.30" stroke="#474444" stroke-width="2"/>
<line x1="940.92" y1="1514.80" x2="940.92" y2="1508.30" stroke="#474444" stroke-width="2"/>
<line x1="957.67" y1="1514.80" x2="957.67" y2="1508.30" stroke="#474444" stroke-width="2"/>
<line x1="972.44" y1="1514.80" x2="972.44" y2="1508.30" stroke="#474444" stroke-width="2"/>
<line x1="1072.57" y1="1514.80" x2="1072.57" y2="1508.30" stroke="#474444" stroke-width="2"/>
<line x1="1123.42" y1="1514.80" x2="1123.42" y2="1508.30" stroke="#474444" stroke-width="2"/>
<line x1="1159.49" y1="1514.80" x2="1159.49" y2="1508.30" stroke="#474444" stroke-width="2"/>
<line x1="1187.48" y1="1514.80" x2="1187.48" y2="1508.30" stroke="#474444" stroke-width="2"/>
<line x1="1210.34" y1="1514.80" x2="1210.34" y2="1508.30" stroke="#474444" stroke-width="2"/>
<line x1="1229.67" y1="1514.80" x2="1229.67" y2="1508.30" stroke="#474444" stroke-width="2"/>
<line x1="1246.42" y1="1514.80" x2="1246.42" y2="1508.30" stroke="#474444" stroke-width="2"/>
<line x1="1261.19" y1="1514.80" x2="1261.19" y2="1508.30" stroke="#474444" stroke-width="2"/>
<path d="M119.40 1110.10 V1514.80 H1274.40" fill="none" stroke="#474444" stroke-width="2.2"/>
<text transform="translate(113,1525.40) scale(0.9,1)" text-anchor="end" class="tl">40</text>
<text transform="translate(113,1444.46) scale(0.9,1)" text-anchor="end" class="tl">60</text>
<text transform="translate(113,1363.52) scale(0.9,1)" text-anchor="end" class="tl">80</text>
<text transform="translate(113,1282.58) scale(0.9,1)" text-anchor="end" class="tl">100</text>
<text transform="translate(113,1201.64) scale(0.9,1)" text-anchor="end" class="tl">120</text>
<text transform="translate(113,1120.70) scale(0.9,1)" text-anchor="end" class="tl">140</text>
<text transform="translate(119.30,1557.60) scale(0.9,1)" text-anchor="middle" class="tl">10<tspan dy="-13.2" class="sup">-2</tspan></text>
<text transform="translate(408.05,1557.60) scale(0.9,1)" text-anchor="middle" class="tl">10<tspan dy="-13.2" class="sup">-1</tspan></text>
<text transform="translate(696.80,1557.60) scale(0.9,1)" text-anchor="middle" class="tl">10<tspan dy="-13.2" class="sup">0</tspan></text>
<text transform="translate(985.55,1557.60) scale(0.9,1)" text-anchor="middle" class="tl">10<tspan dy="-13.2" class="sup">1</tspan></text>
<text transform="translate(1274.30,1557.60) scale(0.9,1)" text-anchor="middle" class="tl">10<tspan dy="-13.2" class="sup">2</tspan></text>
<text x="43.5" y="24.0" class="lg" style="font-weight:bold;font-size:29.5px;fill:#000">A</text>
<text x="43.5" y="554.5" class="lg" style="font-weight:bold;font-size:29.5px;fill:#000">B</text>
<text x="43.5" y="1088.5" class="lg" style="font-weight:bold;font-size:29.5px;fill:#000">C</text>
<text x="138" y="301.40" class="lg" textLength="190" lengthAdjust="spacingAndGlyphs" style="font-weight:bold;font-size:34px">Hammering</text>
<line x1="136.5" y1="334.90" x2="214.5" y2="334.90" stroke="#f05a28" stroke-width="3.2"/>
<text x="223.3" y="345.10" class="lg" textLength="120" lengthAdjust="spacingAndGlyphs" style="font-size:34.3px">R = 6 m</text>
<line x1="136.5" y1="376.10" x2="214.5" y2="376.10" stroke="#92278f" stroke-width="3.2"/>
<text x="223.3" y="388.60" class="lg" textLength="138.5" lengthAdjust="spacingAndGlyphs" style="font-size:34.3px">R = 18 m</text>
<line x1="136.5" y1="416.00" x2="214.5" y2="416.00" stroke="#00a0e9" stroke-width="3.2"/>
<text x="223.3" y="426.90" class="lg" textLength="155" lengthAdjust="spacingAndGlyphs" style="font-size:34.3px">R = 280 m</text>
<line x1="430" y1="414.00" x2="504" y2="414.00" stroke="#f9c3b5" stroke-width="1"/>
<line x1="430" y1="414.00" x2="504" y2="414.00" stroke="#e60012" stroke-width="5" stroke-dasharray="10.5 10.5"/>
<text x="518.2" y="426.50" class="lg" textLength="199" lengthAdjust="spacingAndGlyphs" style="font-size:38px">Background</text>
<text x="137.8" y="838.70" class="lg" textLength="150" lengthAdjust="spacingAndGlyphs" style="font-weight:bold;font-size:34px">Vibrating</text>
<line x1="138" y1="873.90" x2="215.5" y2="873.90" stroke="#f05a28" stroke-width="3.2"/>
<text x="224.1" y="883.90" class="lg" textLength="120" lengthAdjust="spacingAndGlyphs" style="font-size:34.3px">R = 6 m</text>
<line x1="138" y1="914.90" x2="215.5" y2="914.90" stroke="#92278f" stroke-width="3.2"/>
<text x="224.1" y="927.40" class="lg" textLength="138.5" lengthAdjust="spacingAndGlyphs" style="font-size:34.3px">R = 18 m</text>
<line x1="138" y1="954.30" x2="215.5" y2="954.30" stroke="#00a0e9" stroke-width="3.2"/>
<text x="224.1" y="965.70" class="lg" textLength="155" lengthAdjust="spacingAndGlyphs" style="font-size:34.3px">R = 280 m</text>
<line x1="430" y1="950.90" x2="504" y2="950.90" stroke="#f9c3b5" stroke-width="1"/>
<line x1="430" y1="950.90" x2="504" y2="950.90" stroke="#e60012" stroke-width="5" stroke-dasharray="10.5 10.5"/>
<text x="518.7" y="962.30" class="lg" textLength="199" lengthAdjust="spacingAndGlyphs" style="font-size:38px">Background</text>
<text x="138.5" y="1373.20" class="lg" textLength="118" lengthAdjust="spacingAndGlyphs" style="font-weight:bold;font-size:34px">Drilling</text>
<line x1="138" y1="1407.90" x2="215.5" y2="1407.90" stroke="#f05a28" stroke-width="3.2"/>
<text x="224.1" y="1417.40" class="lg" textLength="120" lengthAdjust="spacingAndGlyphs" style="font-size:34.3px">R = 6 m</text>
<line x1="138" y1="1449.10" x2="215.5" y2="1449.10" stroke="#92278f" stroke-width="3.2"/>
<text x="224.1" y="1461.40" class="lg" textLength="138.5" lengthAdjust="spacingAndGlyphs" style="font-size:34.3px">R = 18 m</text>
<line x1="138" y1="1488.50" x2="215.5" y2="1488.50" stroke="#00a0e9" stroke-width="3.2"/>
<text x="224.1" y="1499.90" class="lg" textLength="138.5" lengthAdjust="spacingAndGlyphs" style="font-size:34.3px">R = 40 m</text>
<line x1="430" y1="1486.70" x2="504" y2="1486.70" stroke="#f9c3b5" stroke-width="1"/>
<line x1="430" y1="1486.70" x2="504" y2="1486.70" stroke="#e60012" stroke-width="5" stroke-dasharray="10.5 10.5"/>
<text x="518.7" y="1498.10" class="lg" textLength="199" lengthAdjust="spacingAndGlyphs" style="font-size:38px">Background</text>
<text transform="translate(29.3,919.5) rotate(-90)" class="lg" textLength="318" lengthAdjust="spacingAndGlyphs" style="font-size:33px;fill:#7a7a7a">PSD (dB re 1μPa<tspan dy="-12" style="font-size:22px">2</tspan><tspan dy="12">/Hz)</tspan></text>
<text x="579.5" y="1618.5" class="lg" textLength="242" lengthAdjust="spacingAndGlyphs" style="font-size:33.5px;fill:#595959">Frequency (kHz)</text>
</svg></body></html>
